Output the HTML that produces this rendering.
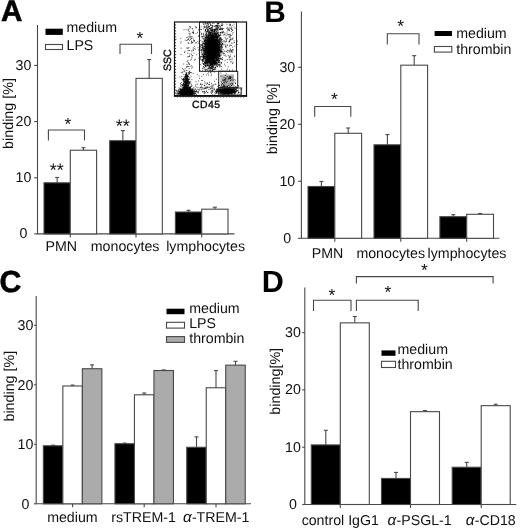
<!DOCTYPE html>
<html lang="en"><head><meta charset="utf-8"><title>Figure</title>
<style>
html,body{margin:0;padding:0;background:#fff;}
body{width:520px;height:530px;overflow:hidden;}
svg{display:block;text-rendering:geometricPrecision;font-family:"Liberation Sans", sans-serif;}
</style></head>
<body>
<svg width="520" height="530" viewBox="0 0 520 530">
<rect x="0" y="0" width="520" height="530" fill="#fff"/>
<text x="0.90" y="21.10" font-size="29.6" text-anchor="start" font-weight="bold" fill="#000" text-rendering="geometricPrecision" stroke="#000" stroke-width="0.6">A</text>
<line x1="37.50" y1="25.00" x2="37.50" y2="233.90" stroke="#484848" stroke-width="1.1"/>
<line x1="37.00" y1="233.90" x2="234.50" y2="233.90" stroke="#484848" stroke-width="1.1"/>
<line x1="34.20" y1="233.90" x2="37.50" y2="233.90" stroke="#484848" stroke-width="1.1"/>
<text x="23.40" y="238.30" font-size="14.2" text-anchor="middle" font-weight="normal" fill="#111" >0</text>
<line x1="34.20" y1="177.75" x2="37.50" y2="177.75" stroke="#484848" stroke-width="1.1"/>
<text x="23.40" y="182.15" font-size="14.2" text-anchor="middle" font-weight="normal" fill="#111" >10</text>
<line x1="34.20" y1="121.60" x2="37.50" y2="121.60" stroke="#484848" stroke-width="1.1"/>
<text x="23.40" y="126.00" font-size="14.2" text-anchor="middle" font-weight="normal" fill="#111" >20</text>
<line x1="34.20" y1="65.45" x2="37.50" y2="65.45" stroke="#484848" stroke-width="1.1"/>
<text x="23.40" y="69.85" font-size="14.2" text-anchor="middle" font-weight="normal" fill="#111" >30</text>
<line x1="70.30" y1="233.90" x2="70.30" y2="237.40" stroke="#484848" stroke-width="1.1"/>
<line x1="57.15" y1="177.47" x2="57.15" y2="182.80" stroke="#484848" stroke-width="1.1"/>
<line x1="55.15" y1="177.47" x2="59.15" y2="177.47" stroke="#484848" stroke-width="1.1"/>
<rect x="44.00" y="182.80" width="26.30" height="51.10" fill="#000" stroke="#484848" stroke-width="1.1"/>
<line x1="83.45" y1="147.71" x2="83.45" y2="150.24" stroke="#484848" stroke-width="1.1"/>
<line x1="81.45" y1="147.71" x2="85.45" y2="147.71" stroke="#484848" stroke-width="1.1"/>
<rect x="70.30" y="150.24" width="26.30" height="83.66" fill="#fff" stroke="#484848" stroke-width="1.1"/>
<line x1="136.00" y1="233.90" x2="136.00" y2="237.40" stroke="#484848" stroke-width="1.1"/>
<line x1="122.85" y1="130.58" x2="122.85" y2="140.69" stroke="#484848" stroke-width="1.1"/>
<line x1="120.85" y1="130.58" x2="124.85" y2="130.58" stroke="#484848" stroke-width="1.1"/>
<rect x="109.70" y="140.69" width="26.30" height="93.21" fill="#000" stroke="#484848" stroke-width="1.1"/>
<line x1="149.15" y1="59.55" x2="149.15" y2="78.36" stroke="#484848" stroke-width="1.1"/>
<line x1="147.15" y1="59.55" x2="151.15" y2="59.55" stroke="#484848" stroke-width="1.1"/>
<rect x="136.00" y="78.36" width="26.30" height="155.54" fill="#fff" stroke="#484848" stroke-width="1.1"/>
<line x1="201.70" y1="233.90" x2="201.70" y2="237.40" stroke="#484848" stroke-width="1.1"/>
<line x1="188.55" y1="210.32" x2="188.55" y2="212.00" stroke="#484848" stroke-width="1.1"/>
<line x1="186.55" y1="210.32" x2="190.55" y2="210.32" stroke="#484848" stroke-width="1.1"/>
<rect x="175.40" y="212.00" width="26.30" height="21.90" fill="#000" stroke="#484848" stroke-width="1.1"/>
<line x1="214.85" y1="207.23" x2="214.85" y2="209.19" stroke="#484848" stroke-width="1.1"/>
<line x1="212.85" y1="207.23" x2="216.85" y2="207.23" stroke="#484848" stroke-width="1.1"/>
<rect x="201.70" y="209.19" width="26.30" height="24.71" fill="#fff" stroke="#484848" stroke-width="1.1"/>
<text transform="translate(13.00,113.50) rotate(-90)" font-size="14.3" text-anchor="middle" font-weight="normal" fill="#111" >binding [%]</text>
<text x="45.50" y="251.00" font-size="14.2" text-anchor="start" font-weight="normal" fill="#111" >PMN</text>
<text x="90.80" y="251.00" font-size="14.2" text-anchor="start" font-weight="normal" fill="#111" >monocytes</text>
<text x="166.20" y="251.00" font-size="14.2" text-anchor="start" font-weight="normal" fill="#111" >lymphocytes</text>
<rect x="45.50" y="28.70" width="17.30" height="6.20" fill="#000"/>
<rect x="45.50" y="44.50" width="17.00" height="5.00" fill="#fff" stroke="#484848" stroke-width="1.1"/>
<text x="66.50" y="32.00" font-size="14.2" text-anchor="start" font-weight="normal" fill="#111" >medium</text>
<text x="66.50" y="50.00" font-size="14.2" text-anchor="start" font-weight="normal" fill="#111" >LPS</text>
<polyline points="48.40,140.50 48.40,130.00 84.50,130.00 84.50,140.50" fill="none" stroke="#484848" stroke-width="1.1"/>
<text x="68.00" y="130.40" font-size="17.5" text-anchor="middle" font-weight="normal" fill="#111" >*</text>
<polyline points="120.00,54.00 120.00,44.30 151.50,44.30 151.50,54.00" fill="none" stroke="#484848" stroke-width="1.1"/>
<text x="140.00" y="44.20" font-size="17.5" text-anchor="middle" font-weight="normal" fill="#111" >*</text>
<text x="56.70" y="176.40" font-size="18" text-anchor="middle" font-weight="normal" fill="#111" >**</text>
<text x="122.70" y="131.80" font-size="18" text-anchor="middle" font-weight="normal" fill="#111" >**</text>
<g>
<rect x="220.50" y="74.50" width="13.50" height="12.50" fill="#b2b2b2"/>
<path d="M210.2 53.7h.9M210.7 46.8h.9M207.7 47.5h.9M215.9 53.3h.9M215.7 51.8h.9M213.1 51.2h.9M204.1 56.3h.9M213.4 53.8h.9M205.3 34.5h.9M208.0 45.4h.9M212.8 49.2h.9M214.0 44.2h.9M212.6 52.9h.9M207.9 63.7h.9M213.2 59.7h.9M209.3 43.1h.9M210.1 48.5h.9M214.0 51.7h.9M210.1 41.4h.9M208.7 59.6h.9M208.0 51.3h.9M214.0 37.1h.9M211.0 60.5h.9M203.2 46.3h.9M211.5 42.6h.9M213.6 49.1h.9M204.9 56.1h.9M213.8 57.6h.9M217.4 52.9h.9M212.7 38.6h.9M214.4 44.5h.9M210.2 38.8h.9M207.7 44.8h.9M217.9 32.8h.9M205.3 51.1h.9M217.3 54.7h.9M204.8 27.9h.9M213.4 43.4h.9M206.3 57.4h.9M216.0 51.1h.9M212.3 53.2h.9M217.9 55.1h.9M213.4 54.2h.9M204.3 59.9h.9M215.2 54.2h.9M203.5 43.7h.9M215.9 34.5h.9M210.2 58.0h.9M205.2 62.7h.9M213.9 48.4h.9M212.5 55.0h.9M211.4 59.1h.9M208.9 45.9h.9M215.9 50.0h.9M207.3 57.2h.9M217.9 46.1h.9M205.8 48.0h.9M211.0 47.0h.9M217.9 41.2h.9M217.4 39.2h.9M207.9 54.6h.9M215.8 57.0h.9M212.9 50.8h.9M211.8 54.4h.9M210.6 51.8h.9M213.9 49.7h.9M214.4 54.4h.9M219.8 52.7h.9M209.9 46.3h.9M211.0 57.2h.9M209.9 52.7h.9M220.5 28.5h.9M206.7 51.3h.9M213.0 51.6h.9M209.4 54.9h.9M212.9 45.2h.9M221.5 53.1h.9M209.2 48.5h.9M210.6 48.9h.9M200.3 44.7h.9M216.3 40.0h.9M210.7 57.5h.9M214.3 62.2h.9M204.5 46.1h.9M209.8 54.6h.9M217.4 27.3h.9M216.8 37.6h.9M215.1 37.2h.9M211.6 59.6h.9M210.8 51.1h.9M214.8 50.9h.9M210.4 62.3h.9M216.0 47.3h.9M223.6 40.6h.9M215.5 47.5h.9M211.7 55.4h.9M212.1 54.9h.9M205.9 36.5h.9M214.6 41.6h.9M207.9 36.9h.9M216.4 56.1h.9M218.1 42.0h.9M212.1 39.9h.9M213.9 63.0h.9M207.0 62.4h.9M215.7 48.3h.9M202.5 60.8h.9M211.4 44.4h.9M213.0 53.0h.9M218.3 41.3h.9M215.5 62.3h.9M217.7 48.4h.9M207.9 57.9h.9M211.9 50.6h.9M217.6 47.6h.9M202.1 45.7h.9M203.3 55.9h.9M213.1 44.5h.9M211.0 56.5h.9M211.2 60.6h.9M210.7 58.2h.9M216.9 63.4h.9M208.2 56.7h.9M204.2 39.9h.9M202.7 58.0h.9M206.3 49.1h.9M210.7 49.2h.9M208.9 51.3h.9M219.0 50.3h.9M213.2 58.0h.9M211.3 38.9h.9M208.6 58.4h.9M204.9 44.1h.9M215.3 56.4h.9M211.1 56.3h.9M212.8 39.7h.9M205.3 43.7h.9M215.7 45.0h.9M208.1 42.8h.9M205.1 48.1h.9M206.4 52.3h.9M201.4 51.7h.9M209.8 33.1h.9M214.7 47.4h.9M202.6 41.6h.9M213.0 45.7h.9M214.4 56.0h.9M214.1 52.4h.9M216.8 55.4h.9M214.4 32.1h.9M214.6 60.7h.9M210.5 45.5h.9M220.5 35.2h.9M212.2 69.9h.9M207.3 55.0h.9M219.5 49.0h.9M213.4 57.2h.9M207.7 48.5h.9M212.3 56.5h.9M211.5 47.9h.9M207.4 46.2h.9M215.2 50.6h.9M208.3 42.2h.9M222.1 59.7h.9M215.5 27.9h.9M213.9 53.7h.9M218.3 53.5h.9M211.0 53.9h.9M202.8 57.7h.9M213.2 43.7h.9M216.1 65.0h.9M206.0 43.6h.9M212.6 51.1h.9M210.3 41.2h.9M219.9 58.7h.9M207.2 37.9h.9M218.1 58.2h.9M218.7 56.8h.9M207.7 51.5h.9M202.8 42.7h.9M211.0 53.9h.9M208.5 48.3h.9M213.2 52.8h.9M214.1 51.4h.9M209.7 56.0h.9M212.1 42.6h.9M208.9 49.3h.9M211.0 50.8h.9M211.4 51.0h.9M211.6 38.9h.9M212.7 58.4h.9M213.4 48.0h.9M213.9 41.5h.9M203.5 49.5h.9M207.2 55.5h.9M208.3 27.2h.9M206.3 62.5h.9M210.6 37.9h.9M208.0 53.7h.9M213.5 51.1h.9M217.4 55.8h.9M211.1 54.5h.9M217.9 58.1h.9M216.3 40.7h.9M210.5 55.6h.9M209.7 58.4h.9M213.5 57.3h.9M209.3 70.8h.9M216.8 48.0h.9M210.6 71.3h.9M209.6 56.7h.9M215.6 49.8h.9M206.5 50.8h.9M212.4 59.1h.9M214.8 49.9h.9M214.8 54.2h.9M212.3 50.0h.9M210.1 55.2h.9M207.4 44.0h.9M212.3 37.2h.9M210.7 32.5h.9M208.4 54.1h.9M213.9 49.2h.9M211.2 37.6h.9M218.9 54.3h.9M216.5 42.4h.9M211.6 34.2h.9M214.3 57.5h.9M203.6 48.6h.9M215.0 34.9h.9M204.4 40.1h.9M209.6 37.6h.9M211.5 51.6h.9M213.8 55.5h.9M217.2 59.6h.9M206.3 44.9h.9M207.6 40.2h.9M211.2 49.5h.9M214.4 36.3h.9M206.3 49.0h.9M210.8 46.8h.9M211.6 43.1h.9M214.3 52.6h.9M211.5 43.8h.9M212.1 26.6h.9M207.4 49.6h.9M205.1 50.8h.9M212.8 38.0h.9M210.6 46.8h.9M213.1 54.7h.9M211.8 42.4h.9M210.9 48.9h.9M214.4 52.2h.9M209.2 38.0h.9M210.3 43.2h.9M206.9 48.2h.9M209.4 50.3h.9M213.9 46.2h.9M221.4 47.4h.9M216.1 50.8h.9M217.4 29.9h.9M208.2 51.4h.9M212.8 69.2h.9M212.2 60.3h.9M214.2 57.6h.9M213.7 48.3h.9M214.2 40.6h.9M217.0 41.3h.9M211.5 67.3h.9M210.6 49.6h.9M216.4 50.0h.9M208.0 51.5h.9M213.6 55.6h.9M207.4 64.0h.9M218.5 50.1h.9M212.8 46.0h.9M217.8 43.9h.9M214.6 45.6h.9M208.2 55.4h.9M217.1 49.8h.9M208.3 56.1h.9M211.1 52.1h.9M217.3 59.4h.9M208.2 68.5h.9M211.1 56.1h.9M208.8 49.0h.9M203.3 64.0h.9M217.8 39.7h.9M206.0 35.5h.9M216.7 45.9h.9M211.4 46.9h.9M211.5 40.3h.9M212.3 37.4h.9M211.0 52.1h.9M213.6 47.7h.9M207.6 50.6h.9M208.7 62.5h.9M214.8 48.7h.9M209.9 43.5h.9M207.7 46.3h.9M212.5 53.9h.9M212.8 67.2h.9M208.5 49.4h.9M224.2 34.5h.9M209.2 50.8h.9M211.9 53.0h.9M210.3 52.5h.9M211.3 56.0h.9M204.0 41.6h.9M212.0 40.8h.9M206.8 54.5h.9M208.5 54.7h.9M214.5 52.3h.9M213.7 48.8h.9M205.6 48.9h.9M213.7 45.2h.9M210.7 55.8h.9M207.5 54.6h.9M219.6 45.3h.9M212.2 48.3h.9M217.8 52.5h.9M215.6 43.9h.9M211.4 49.4h.9M203.3 61.1h.9M216.2 35.1h.9M214.7 48.6h.9M213.2 52.7h.9M205.3 47.3h.9M218.0 45.1h.9M207.9 37.8h.9M206.2 52.0h.9M218.4 53.5h.9M211.4 68.3h.9M209.7 43.7h.9M213.4 54.2h.9M207.8 39.4h.9M212.6 51.6h.9M206.1 47.5h.9M209.0 53.2h.9M211.1 48.7h.9M209.5 58.2h.9M217.5 46.8h.9M215.4 43.4h.9M211.4 55.8h.9M218.0 46.7h.9M211.1 51.1h.9M205.2 49.3h.9M208.5 52.4h.9M207.8 32.6h.9M211.5 51.7h.9M208.8 56.8h.9M210.7 44.4h.9M214.3 36.5h.9M208.7 49.2h.9M215.1 48.3h.9M213.1 44.1h.9M211.9 63.5h.9M207.4 69.2h.9M208.8 49.5h.9M211.7 58.1h.9M207.4 31.6h.9M213.6 56.3h.9M212.8 71.7h.9M212.2 51.7h.9M215.2 52.8h.9M219.1 39.5h.9M215.1 46.6h.9M214.3 67.8h.9M211.6 47.4h.9M209.8 42.3h.9M208.5 54.7h.9M211.6 50.1h.9M210.3 57.1h.9M213.6 48.4h.9M214.4 48.4h.9M205.9 61.4h.9M213.9 41.6h.9M215.8 52.7h.9M204.1 62.6h.9M212.4 57.1h.9M212.4 48.3h.9M204.5 57.3h.9M211.8 47.1h.9M212.9 50.2h.9M214.5 46.6h.9M212.4 31.6h.9M209.4 55.1h.9M217.3 46.8h.9M210.2 62.7h.9M209.8 55.6h.9M218.5 50.3h.9M217.0 43.9h.9M212.4 48.9h.9M211.4 59.0h.9M221.9 44.5h.9M208.8 53.5h.9M206.8 53.4h.9M214.0 47.3h.9M214.5 36.6h.9M215.5 36.7h.9M208.9 44.7h.9M209.4 56.6h.9M212.0 46.2h.9M213.0 62.9h.9M211.3 52.6h.9M216.6 52.1h.9M204.9 70.1h.9M221.8 33.4h.9M211.1 53.0h.9M215.2 55.4h.9M210.9 40.6h.9M211.4 58.2h.9M207.4 40.6h.9M212.4 33.2h.9M210.6 45.8h.9M213.7 43.7h.9M208.0 46.0h.9M211.6 43.9h.9M211.2 55.8h.9M215.6 64.1h.9M208.4 45.8h.9M200.1 64.8h.9M208.5 49.0h.9M214.4 38.2h.9M213.5 49.4h.9M203.7 51.5h.9M217.4 34.1h.9M214.8 51.5h.9M213.3 53.3h.9M217.1 48.0h.9M215.4 46.3h.9M215.0 42.9h.9M210.2 64.0h.9M213.4 48.3h.9M207.1 42.6h.9M211.8 57.4h.9M213.0 54.0h.9M210.6 60.8h.9M210.1 44.8h.9M215.2 50.3h.9M210.6 44.6h.9M210.1 54.7h.9M213.6 39.4h.9M213.2 51.1h.9M206.9 55.7h.9M210.5 46.6h.9M214.2 60.8h.9M208.4 53.0h.9M206.7 68.7h.9M208.8 59.4h.9M208.4 56.1h.9M222.1 28.8h.9M209.4 53.6h.9M211.4 43.9h.9M220.5 50.7h.9M204.2 56.2h.9M203.7 58.7h.9M209.0 50.6h.9M216.7 50.8h.9M206.5 34.9h.9M216.1 56.0h.9M207.6 56.5h.9M213.3 55.1h.9M202.2 46.4h.9M214.9 55.9h.9M216.4 29.1h.9M212.0 53.7h.9M222.7 42.1h.9M210.1 49.7h.9M215.4 46.0h.9M216.7 43.2h.9M212.9 45.1h.9M212.5 43.7h.9M204.3 58.3h.9M213.1 44.9h.9M211.8 57.9h.9M207.5 48.3h.9M213.5 54.0h.9M211.2 31.7h.9M216.5 52.6h.9M211.7 47.2h.9M212.8 46.0h.9M207.6 43.0h.9M209.3 44.2h.9M206.3 54.5h.9M205.7 54.7h.9M207.1 52.2h.9M217.2 51.6h.9M208.4 49.7h.9M213.0 35.0h.9M208.9 50.7h.9M209.5 50.1h.9M214.2 56.1h.9M215.0 54.7h.9M210.3 49.3h.9M210.5 46.8h.9M211.6 35.0h.9M210.1 49.2h.9M207.4 49.1h.9M213.7 48.3h.9M221.5 28.2h.9M211.6 34.1h.9M214.3 72.0h.9M200.9 49.9h.9M213.8 47.1h.9M214.9 30.8h.9M214.9 52.8h.9M211.9 44.6h.9M214.4 45.6h.9M212.7 45.3h.9M202.1 48.7h.9M212.0 55.9h.9M207.8 49.0h.9M214.0 50.9h.9M215.7 66.5h.9M208.7 33.2h.9M214.3 62.5h.9M215.0 56.6h.9M209.3 43.4h.9M215.7 42.1h.9M204.4 40.7h.9M221.0 66.3h.9M209.0 43.2h.9M212.8 43.3h.9M217.0 49.2h.9M206.3 60.2h.9M208.9 51.2h.9M211.6 46.9h.9M213.2 43.8h.9M204.9 30.5h.9M206.6 42.8h.9M211.4 50.0h.9M213.8 50.6h.9M208.5 43.4h.9M202.7 47.5h.9M213.3 54.1h.9M211.1 48.0h.9M215.4 49.9h.9M214.3 54.6h.9M211.7 60.5h.9M209.3 46.3h.9M208.5 42.6h.9M217.1 64.6h.9M211.3 54.3h.9M216.0 56.6h.9M217.2 39.2h.9M208.6 53.1h.9M217.5 50.7h.9M208.1 46.3h.9M209.2 42.1h.9M218.1 44.6h.9M210.5 67.6h.9M216.3 52.6h.9M208.7 52.8h.9M218.0 55.1h.9M216.7 50.6h.9M213.8 47.9h.9M212.6 60.5h.9M205.5 48.6h.9M212.8 44.8h.9M209.8 56.0h.9M219.6 55.3h.9M213.6 36.6h.9M219.5 50.6h.9M211.9 40.1h.9M211.8 40.3h.9M211.6 53.4h.9M211.5 51.9h.9M207.2 61.3h.9M209.7 34.1h.9M211.1 43.0h.9M207.4 46.3h.9M213.3 39.7h.9M210.2 61.4h.9M214.4 48.4h.9M212.1 48.5h.9M210.9 55.6h.9M212.3 29.3h.9M211.9 42.0h.9M214.5 44.5h.9M211.0 67.8h.9M207.7 39.8h.9M206.8 29.1h.9M203.4 52.1h.9M209.8 33.7h.9M205.0 54.3h.9M208.4 46.2h.9M212.2 61.0h.9M219.1 58.6h.9M212.0 51.1h.9M218.3 61.9h.9M210.0 53.3h.9M212.7 50.0h.9M210.1 38.3h.9M210.0 36.4h.9M216.4 54.3h.9M205.7 60.9h.9M216.2 33.7h.9M218.8 56.8h.9M220.8 39.7h.9M213.5 53.2h.9M212.3 51.0h.9M216.7 37.2h.9M207.0 37.5h.9M209.5 44.3h.9M212.9 51.8h.9M212.0 43.8h.9M209.2 57.4h.9M214.7 50.5h.9M209.4 62.4h.9M208.7 54.8h.9M216.5 47.6h.9M215.5 40.4h.9M215.6 51.4h.9M204.5 54.7h.9M207.1 60.0h.9M208.7 47.9h.9M212.9 46.8h.9M212.9 44.9h.9M214.3 49.7h.9M213.8 26.5h.9M216.4 50.1h.9M204.0 49.9h.9M212.9 58.6h.9M206.2 62.2h.9M209.6 69.5h.9M210.5 55.2h.9M210.5 40.1h.9M215.6 57.4h.9M217.5 57.1h.9M209.9 35.4h.9M209.1 43.7h.9M207.8 54.2h.9M213.0 47.3h.9M212.3 48.3h.9M212.0 55.9h.9M215.9 44.0h.9M204.5 61.1h.9M211.4 58.8h.9M204.8 46.3h.9M212.3 37.4h.9M209.0 55.4h.9M215.2 63.1h.9M208.6 37.5h.9M213.2 57.5h.9M213.0 38.6h.9M214.4 56.3h.9M214.1 45.6h.9M212.4 56.2h.9M210.1 33.9h.9M212.6 53.6h.9M211.1 57.0h.9M209.1 48.7h.9M209.9 54.2h.9M218.3 47.8h.9M219.3 62.8h.9M214.5 54.6h.9M219.0 48.4h.9M211.6 40.6h.9M212.8 60.9h.9M213.5 53.2h.9M210.6 50.9h.9M205.0 57.9h.9M210.3 40.1h.9M208.8 42.4h.9M214.6 58.6h.9M205.3 56.9h.9M215.5 44.9h.9M205.6 42.9h.9M208.7 52.2h.9M211.0 32.4h.9M213.3 36.7h.9M215.9 39.6h.9M209.0 42.2h.9M208.6 60.2h.9M214.8 54.8h.9M213.6 36.6h.9M209.6 44.7h.9M207.1 53.5h.9M208.8 43.4h.9M208.2 32.0h.9M213.3 60.8h.9M212.7 41.4h.9M200.1 50.3h.9M216.4 52.3h.9M214.6 62.1h.9M216.4 46.1h.9M215.5 56.3h.9M205.3 45.7h.9M205.6 48.2h.9M214.5 40.7h.9M202.2 59.9h.9M212.3 61.9h.9M205.4 58.1h.9M219.2 66.9h.9M210.5 51.7h.9M210.4 57.8h.9M215.8 50.5h.9M205.4 55.4h.9M209.2 54.7h.9M211.8 63.2h.9M216.5 46.0h.9M212.1 64.4h.9M209.0 53.0h.9M215.9 60.3h.9M214.3 38.6h.9M206.1 51.3h.9M211.8 71.0h.9M207.3 58.8h.9M215.6 35.7h.9M208.0 50.7h.9M209.5 48.1h.9M213.9 42.8h.9M213.8 44.3h.9M208.9 53.9h.9M209.0 51.8h.9M218.2 50.1h.9M210.5 55.6h.9M209.4 58.5h.9M205.8 54.4h.9M209.8 42.7h.9M219.3 42.8h.9M218.5 55.5h.9M218.1 41.7h.9M215.8 62.0h.9M211.1 48.4h.9M221.7 51.6h.9M210.0 44.1h.9M213.2 52.4h.9M211.4 64.0h.9M209.9 53.4h.9M218.1 41.4h.9M214.9 65.1h.9M206.4 40.0h.9M208.1 33.8h.9M214.3 34.1h.9M212.9 61.8h.9M204.9 46.4h.9M203.1 55.6h.9M208.5 47.1h.9M211.5 54.1h.9M210.0 49.5h.9M209.2 50.3h.9M206.6 49.7h.9M203.6 44.9h.9M219.5 50.6h.9M206.1 51.3h.9M208.3 35.4h.9M208.0 55.5h.9M213.2 48.8h.9M208.2 40.2h.9M217.0 51.9h.9M208.6 31.6h.9M204.5 69.9h.9M206.7 48.6h.9M212.5 48.2h.9M211.0 37.9h.9M206.2 63.4h.9M207.9 56.4h.9M204.5 46.8h.9M212.1 58.3h.9M206.5 54.2h.9M213.5 43.4h.9M214.0 42.1h.9M208.2 49.1h.9M200.2 47.9h.9M208.0 37.0h.9M209.3 55.8h.9M209.2 60.0h.9M207.3 38.2h.9M217.8 53.2h.9M215.9 42.8h.9M214.7 51.9h.9M214.2 49.9h.9M216.9 44.4h.9M208.2 36.9h.9M216.7 43.6h.9M207.6 41.4h.9M210.3 38.7h.9M210.6 44.2h.9M209.7 41.3h.9M211.9 45.6h.9M211.9 51.6h.9M214.0 31.2h.9M209.7 42.7h.9M215.5 36.5h.9M208.7 46.9h.9M209.6 57.7h.9M209.2 57.5h.9M206.3 33.9h.9M216.4 53.5h.9M213.5 50.7h.9M214.1 39.4h.9M215.7 45.3h.9M215.6 50.5h.9M203.9 38.2h.9M216.3 48.6h.9M209.7 51.4h.9M210.0 44.8h.9M211.9 50.7h.9M217.8 50.3h.9M218.5 65.1h.9M218.2 58.8h.9M212.0 50.7h.9M211.3 43.3h.9M211.5 44.1h.9M218.1 54.4h.9M210.6 33.3h.9M211.5 46.0h.9M207.5 39.7h.9M201.8 53.7h.9M209.9 71.1h.9M211.4 48.2h.9M217.5 51.0h.9M212.4 46.4h.9M208.2 61.9h.9M214.8 64.1h.9M210.0 49.7h.9M207.3 57.4h.9M205.4 53.9h.9M215.4 61.6h.9M207.0 58.4h.9M208.9 43.0h.9M205.4 58.9h.9M218.7 44.9h.9M208.5 46.5h.9M221.5 58.6h.9M210.1 34.3h.9M208.1 59.3h.9M219.5 47.7h.9M208.9 45.1h.9M203.1 56.6h.9M206.4 58.1h.9M205.0 38.4h.9M213.1 43.2h.9M214.8 49.8h.9M206.3 54.4h.9M216.0 33.7h.9M218.9 54.1h.9M215.6 34.1h.9M208.7 46.4h.9M216.8 37.5h.9M208.8 32.3h.9M210.3 52.3h.9M204.7 44.1h.9M212.8 62.9h.9M214.4 47.1h.9M207.0 41.4h.9M208.6 50.6h.9M210.5 63.5h.9M213.2 40.6h.9M217.5 57.8h.9M212.3 43.5h.9M204.2 40.5h.9M215.7 43.0h.9M205.9 50.8h.9M212.2 54.6h.9M213.5 61.5h.9M207.5 57.5h.9M207.0 55.1h.9M212.1 51.6h.9M215.6 49.6h.9M215.7 57.1h.9M212.4 44.8h.9M208.6 44.9h.9M210.7 49.2h.9M223.7 55.6h.9M215.2 42.5h.9M208.7 46.6h.9M212.8 40.9h.9M218.5 45.2h.9M217.2 30.2h.9M211.3 51.8h.9M212.0 54.6h.9M212.6 50.9h.9M203.9 43.0h.9M201.4 54.2h.9M212.9 47.9h.9M208.3 44.4h.9M218.4 64.5h.9M210.6 60.3h.9M205.8 32.9h.9M209.9 42.0h.9M209.1 50.9h.9M224.5 44.7h.9M211.6 51.8h.9M210.9 57.3h.9M219.6 39.5h.9M212.3 47.3h.9M213.8 36.7h.9M205.3 29.6h.9M213.6 51.2h.9M213.0 29.7h.9M210.3 43.1h.9M206.0 41.5h.9M214.2 54.2h.9M211.1 53.8h.9M208.9 49.9h.9M211.4 54.2h.9M211.3 48.3h.9M211.3 44.1h.9M220.6 54.4h.9M212.1 68.8h.9M218.2 36.8h.9M214.0 56.7h.9M218.7 61.0h.9M215.3 39.8h.9M207.7 51.5h.9M214.1 41.1h.9M210.1 46.0h.9M211.6 52.3h.9M210.9 39.1h.9M215.9 63.2h.9M210.5 58.1h.9M213.0 55.1h.9M213.9 43.2h.9M213.4 58.1h.9M206.8 65.8h.9M219.3 65.3h.9M219.5 56.2h.9M210.4 44.4h.9M208.0 50.3h.9M211.0 55.1h.9M201.9 68.4h.9M221.1 49.8h.9M214.1 53.7h.9M212.8 47.8h.9M211.4 42.6h.9M212.3 49.3h.9M213.3 42.4h.9M211.6 49.9h.9M214.6 40.7h.9M212.8 57.9h.9M214.2 46.6h.9M209.6 47.4h.9M213.8 62.7h.9M211.2 44.1h.9M213.0 51.3h.9M208.1 43.1h.9M210.7 55.1h.9M207.0 40.7h.9M214.2 39.4h.9M211.8 52.5h.9M211.5 40.9h.9M211.4 46.7h.9M213.3 42.6h.9M216.9 35.7h.9M210.8 49.5h.9M215.8 44.6h.9M214.1 44.9h.9M213.7 64.3h.9M209.6 53.1h.9M207.1 57.4h.9M216.6 50.1h.9M206.5 52.6h.9M215.8 58.9h.9M215.8 34.4h.9M207.9 61.3h.9M205.8 58.7h.9M219.0 56.4h.9M216.4 47.0h.9M206.4 48.3h.9M210.7 49.1h.9M214.5 48.5h.9M212.1 53.1h.9M210.5 65.0h.9M213.3 50.3h.9M210.9 44.2h.9M217.1 51.1h.9M207.3 44.5h.9M211.2 45.7h.9M216.6 40.0h.9M213.5 50.8h.9M206.5 49.6h.9M210.9 53.7h.9M209.5 51.9h.9M205.1 40.0h.9M214.3 58.4h.9M211.7 44.5h.9M217.1 32.2h.9M207.8 54.9h.9M214.8 41.0h.9M202.9 61.2h.9M212.6 42.0h.9M211.3 57.1h.9M200.1 58.2h.9M215.7 32.2h.9M215.6 34.8h.9M216.1 53.1h.9M221.3 44.9h.9M211.0 58.3h.9M209.2 43.4h.9M210.0 48.8h.9M206.7 53.3h.9M213.7 50.2h.9M218.8 47.2h.9M217.3 45.2h.9M215.6 33.5h.9M212.4 48.1h.9M209.7 44.3h.9M210.4 43.4h.9M202.6 43.9h.9M209.5 45.0h.9M207.1 48.1h.9M214.9 47.6h.9M208.8 60.8h.9M215.1 57.5h.9M216.5 47.0h.9M210.4 58.8h.9M209.2 48.4h.9M212.9 52.7h.9M209.8 57.7h.9M210.4 55.5h.9M215.7 55.3h.9M215.2 40.0h.9M206.3 44.0h.9M212.7 62.2h.9M206.2 51.8h.9M208.3 43.1h.9M210.0 55.2h.9M211.8 59.4h.9M206.9 56.7h.9M215.4 50.3h.9M213.8 44.9h.9M207.1 45.8h.9M207.4 73.6h.9M208.6 63.2h.9M212.2 52.2h.9M215.0 43.2h.9M215.2 52.9h.9M204.8 54.2h.9M213.6 53.4h.9M218.4 46.4h.9M213.3 55.9h.9M207.1 59.3h.9M206.1 38.2h.9M214.2 40.5h.9M211.8 35.7h.9M212.4 40.0h.9M213.7 36.7h.9M213.5 47.4h.9M211.8 48.9h.9M212.7 38.5h.9M200.7 49.1h.9M207.8 45.5h.9M214.3 33.0h.9M208.6 44.2h.9M206.9 52.0h.9M211.3 42.6h.9M207.0 56.0h.9M208.4 54.2h.9M214.3 33.7h.9M207.0 49.3h.9M212.5 56.1h.9M214.3 58.4h.9M210.0 47.6h.9M215.0 46.1h.9M216.7 36.4h.9M214.3 48.2h.9M202.8 57.2h.9M212.8 49.8h.9M207.2 45.3h.9M218.3 42.9h.9M197.4 41.4h.9M206.5 48.1h.9M210.3 41.8h.9M207.4 58.1h.9M204.5 65.5h.9M209.8 40.2h.9M214.5 54.4h.9M206.8 55.5h.9M204.3 41.3h.9M216.4 47.6h.9M205.8 53.5h.9M215.4 49.5h.9M204.1 46.1h.9M212.9 56.1h.9M219.4 47.8h.9M209.5 49.1h.9M217.0 41.9h.9M218.4 26.8h.9M215.2 44.0h.9M213.1 55.4h.9M206.6 48.5h.9M212.2 54.5h.9M208.1 41.0h.9M202.2 70.3h.9M210.8 47.6h.9M204.8 56.9h.9M208.5 61.4h.9M215.1 49.9h.9M215.1 40.4h.9M210.4 44.6h.9M206.2 49.3h.9M210.2 61.5h.9M197.8 43.0h.9M207.9 45.4h.9M213.1 53.0h.9M211.9 45.5h.9M213.4 52.6h.9M203.9 46.8h.9M206.3 39.2h.9M212.1 50.0h.9M212.4 42.2h.9M211.1 41.8h.9M212.8 55.4h.9M218.2 60.6h.9M208.4 45.5h.9M207.4 51.8h.9M219.4 55.9h.9M202.9 38.4h.9M205.8 53.5h.9M211.4 52.0h.9M219.4 43.0h.9M207.0 65.8h.9M213.3 43.1h.9M203.8 36.2h.9M201.2 49.5h.9M211.2 57.8h.9M211.3 43.6h.9M207.4 65.3h.9M204.0 50.5h.9M211.3 54.7h.9M209.6 53.6h.9M215.0 48.5h.9M209.7 47.8h.9M207.6 47.5h.9M210.1 51.2h.9M216.4 60.8h.9M209.3 54.4h.9M212.4 56.0h.9M211.5 51.7h.9M209.9 42.8h.9M214.5 60.6h.9M214.1 53.3h.9M212.8 45.8h.9M203.7 54.6h.9M212.6 44.9h.9M206.8 60.0h.9M203.0 63.8h.9M213.0 69.5h.9M208.5 49.1h.9M209.3 50.7h.9M211.0 43.2h.9M216.4 43.2h.9M209.1 54.0h.9M209.5 45.7h.9M213.2 46.5h.9M206.3 48.3h.9M209.7 63.7h.9M206.4 57.4h.9M208.4 46.3h.9M210.0 51.7h.9M214.2 64.4h.9M208.2 60.5h.9M215.3 56.6h.9M207.9 56.9h.9M210.9 52.4h.9M210.0 55.0h.9M215.6 59.3h.9M210.1 57.8h.9M218.1 42.0h.9M218.3 38.7h.9M213.5 54.6h.9M217.6 52.2h.9M209.9 42.7h.9M205.9 55.6h.9M210.9 43.4h.9M214.1 43.2h.9M209.9 45.5h.9M217.7 62.2h.9M211.6 36.3h.9M212.6 50.2h.9M212.7 54.3h.9M209.7 57.2h.9M214.9 51.5h.9M210.0 45.4h.9M215.0 40.5h.9M211.2 43.2h.9M205.4 54.2h.9M211.4 49.8h.9M215.9 37.2h.9M211.1 51.9h.9M215.5 40.6h.9M214.4 51.5h.9M216.6 59.4h.9M212.7 67.7h.9M211.7 45.9h.9M210.5 41.5h.9M212.3 33.7h.9M210.9 53.0h.9M215.8 46.8h.9M217.7 44.4h.9M211.9 33.7h.9M208.7 42.7h.9M217.4 54.2h.9M206.7 53.6h.9M213.6 47.7h.9M211.7 47.0h.9M210.2 34.9h.9M210.5 60.0h.9M217.5 47.6h.9M208.5 47.6h.9M215.0 52.6h.9M208.9 52.3h.9M210.4 53.7h.9M210.6 37.4h.9M211.4 55.7h.9M207.0 48.3h.9M215.3 46.7h.9M207.8 65.9h.9M214.4 58.1h.9M206.8 62.6h.9M205.0 44.9h.9M213.9 60.5h.9M208.0 43.9h.9M213.2 33.8h.9M213.8 54.2h.9M209.4 53.8h.9M214.5 52.2h.9M212.9 62.0h.9M209.5 50.7h.9M208.9 57.8h.9M209.6 53.3h.9M212.0 50.1h.9M218.5 49.2h.9M216.9 56.6h.9M216.9 48.5h.9M214.9 55.9h.9M208.9 51.5h.9M211.0 49.2h.9M217.1 44.0h.9M205.5 35.0h.9M210.0 44.2h.9M211.3 54.1h.9M218.5 52.4h.9M213.7 43.7h.9M213.2 60.6h.9M217.9 34.0h.9M214.3 62.5h.9M215.6 37.6h.9M210.0 54.2h.9M213.6 43.0h.9M207.4 57.1h.9M205.4 60.8h.9M211.4 51.9h.9M206.4 44.4h.9M215.0 37.8h.9M220.5 38.7h.9M206.5 49.6h.9M213.1 55.5h.9M210.1 47.7h.9M210.8 44.8h.9M200.6 56.6h.9M212.4 50.8h.9M208.8 51.4h.9M211.5 48.9h.9M216.8 35.9h.9M213.0 41.0h.9M209.5 61.5h.9M207.2 48.4h.9M208.7 57.0h.9M208.4 35.7h.9M213.7 46.8h.9M209.7 58.1h.9M208.1 46.3h.9M211.9 52.9h.9M208.9 57.7h.9M220.7 46.8h.9M220.0 33.0h.9M217.3 47.1h.9M212.2 46.8h.9M209.6 39.1h.9M209.3 59.8h.9M216.3 47.0h.9M209.7 43.7h.9M205.8 63.7h.9M214.1 50.6h.9M210.0 41.2h.9M216.4 56.1h.9M207.2 57.2h.9M206.7 54.4h.9M207.8 45.9h.9M213.3 53.1h.9M216.0 43.0h.9M217.2 60.7h.9M211.2 53.2h.9M208.4 48.1h.9M206.1 49.9h.9M211.7 60.4h.9M214.9 56.3h.9M210.2 47.6h.9M210.0 51.2h.9M203.4 55.2h.9M205.4 45.0h.9M211.8 45.4h.9M218.2 49.1h.9M217.3 59.3h.9M209.3 52.6h.9M216.9 47.1h.9M212.1 45.0h.9M211.9 46.7h.9M211.3 57.6h.9M217.0 50.9h.9M211.9 56.4h.9M210.8 40.9h.9M216.4 42.2h.9M215.7 42.0h.9M219.4 41.5h.9M214.2 61.8h.9M206.9 61.2h.9M209.0 35.1h.9M214.1 55.3h.9M211.9 29.1h.9M211.4 47.0h.9M210.1 47.1h.9M204.6 44.5h.9M218.0 62.4h.9M210.4 43.7h.9M212.6 58.1h.9M215.0 40.3h.9M212.1 50.7h.9M216.7 59.5h.9M213.0 59.4h.9M209.2 61.8h.9M209.6 52.6h.9M215.6 42.4h.9M209.5 35.2h.9M212.2 49.1h.9M209.9 53.4h.9M203.0 48.8h.9M212.0 47.4h.9M213.8 63.8h.9M210.2 41.8h.9M209.0 50.1h.9M214.3 42.7h.9M216.0 41.5h.9M214.6 53.1h.9M212.3 67.0h.9M210.5 48.1h.9M213.0 56.6h.9M206.0 51.4h.9M208.2 54.4h.9M217.0 50.2h.9M211.0 51.0h.9M199.2 55.0h.9M213.7 51.0h.9M210.3 43.5h.9M210.2 59.2h.9M210.4 60.3h.9M201.4 45.2h.9M212.6 49.5h.9M205.1 43.7h.9M217.2 39.4h.9M208.0 40.4h.9M209.0 54.5h.9M214.9 33.3h.9M217.7 45.1h.9M208.3 62.8h.9M211.8 39.5h.9M209.3 43.5h.9M207.6 46.6h.9M214.9 52.5h.9M204.6 71.6h.9M207.5 50.2h.9M211.3 55.6h.9M210.0 53.1h.9M219.9 50.8h.9M207.0 51.9h.9M208.4 46.3h.9M212.1 52.3h.9M209.9 56.3h.9M211.4 39.0h.9M215.2 46.8h.9M216.7 44.5h.9M213.7 52.2h.9M201.4 36.8h.9M206.3 60.6h.9M203.5 56.4h.9M215.7 53.7h.9M214.5 45.7h.9M211.3 51.3h.9M212.9 55.3h.9M211.0 43.8h.9M209.0 52.7h.9M205.4 39.0h.9M210.1 44.9h.9M211.7 28.0h.9M210.2 47.4h.9M215.6 33.8h.9M210.0 53.2h.9M212.9 59.2h.9M216.3 41.3h.9M214.2 47.0h.9M207.5 61.7h.9M209.4 42.5h.9M210.3 42.5h.9M215.4 52.8h.9M216.9 53.2h.9M208.5 57.8h.9M209.1 45.6h.9M210.8 49.8h.9M216.6 44.9h.9M212.9 49.4h.9M207.0 40.4h.9M210.4 52.7h.9M212.6 53.4h.9M211.9 45.9h.9M213.7 41.5h.9M206.2 46.5h.9M206.0 45.0h.9M208.8 44.8h.9M211.7 43.0h.9M210.6 35.6h.9M212.5 42.4h.9M214.5 26.7h.9M208.1 51.3h.9M201.8 46.0h.9M211.8 50.4h.9M205.3 51.0h.9M212.6 41.7h.9M214.5 49.3h.9M211.8 45.9h.9M213.7 50.4h.9M215.9 53.4h.9M209.1 47.5h.9M215.4 46.8h.9M212.8 53.8h.9M211.9 30.6h.9M211.9 51.3h.9M212.4 43.4h.9M216.5 48.7h.9M209.3 43.5h.9M213.5 40.7h.9M206.5 65.5h.9M216.3 58.4h.9M216.7 54.7h.9M204.1 58.8h.9M216.3 53.8h.9M203.0 59.1h.9M217.3 45.8h.9M211.6 55.8h.9M210.6 58.4h.9M211.5 55.1h.9M212.6 37.5h.9M205.9 75.0h.9M212.0 60.2h.9M215.3 63.7h.9M214.0 44.8h.9M212.5 33.9h.9M210.3 56.8h.9M202.6 50.6h.9M214.2 60.5h.9M208.1 44.0h.9M204.4 40.8h.9M212.7 66.5h.9M206.2 60.4h.9M213.5 45.6h.9M221.7 29.5h.9M211.1 51.3h.9M219.3 64.7h.9M220.7 51.1h.9M214.8 60.9h.9M213.4 52.6h.9M211.0 46.1h.9M205.5 65.1h.9M210.7 32.4h.9M212.6 49.3h.9M211.3 64.3h.9M211.2 47.3h.9M208.5 49.1h.9M209.6 51.1h.9M224.0 53.5h.9M207.1 65.0h.9M214.6 56.4h.9M214.0 56.4h.9M213.6 61.2h.9M214.9 60.7h.9M209.5 49.4h.9M208.1 57.1h.9M215.1 45.9h.9M212.6 71.1h.9M217.1 40.7h.9M210.8 54.7h.9M211.2 52.6h.9M216.2 52.5h.9M206.7 55.1h.9M211.0 50.4h.9M209.9 38.1h.9M206.6 46.3h.9M208.5 27.1h.9M216.8 40.3h.9M208.3 53.7h.9M201.0 59.9h.9M208.0 54.7h.9M209.4 51.9h.9M211.9 49.5h.9M204.8 37.0h.9M210.6 61.0h.9M209.0 53.7h.9M211.9 53.5h.9M216.3 37.5h.9M212.7 48.1h.9M210.6 42.4h.9M208.8 40.9h.9M205.8 69.7h.9M218.4 50.0h.9M215.0 41.7h.9M201.0 33.9h.9M211.4 61.3h.9M211.8 41.3h.9M211.0 41.3h.9M205.9 47.3h.9M210.3 42.8h.9M208.3 41.7h.9M211.8 60.9h.9M209.5 67.7h.9M204.8 51.3h.9M206.9 47.9h.9M211.6 54.1h.9M216.4 45.2h.9M206.5 47.7h.9M213.0 43.9h.9M214.3 63.5h.9M205.5 52.1h.9M216.6 34.0h.9M212.5 47.7h.9M205.0 59.9h.9M212.6 45.6h.9M213.0 54.9h.9M214.4 54.4h.9M213.7 40.0h.9M209.7 50.4h.9M199.1 66.2h.9M210.5 40.8h.9M203.9 51.1h.9M211.9 44.7h.9M210.2 42.1h.9M208.5 48.5h.9M208.5 54.9h.9M210.9 50.5h.9M212.5 60.0h.9M213.8 51.5h.9M211.2 42.9h.9M209.8 55.0h.9M212.6 46.4h.9M206.8 36.6h.9M212.3 58.0h.9M213.7 38.4h.9M210.5 51.3h.9M207.6 52.1h.9M211.1 42.6h.9M206.0 55.8h.9M213.4 42.3h.9M206.9 56.5h.9M214.1 47.2h.9M218.1 47.5h.9M206.6 58.2h.9M210.6 52.3h.9M212.1 41.3h.9M206.7 47.6h.9M217.7 41.6h.9M216.9 51.6h.9M206.8 51.4h.9M214.3 42.3h.9M202.6 51.9h.9M206.8 52.8h.9M203.8 47.9h.9M208.9 37.2h.9M210.4 50.8h.9M209.8 39.7h.9M213.2 35.3h.9M213.4 53.6h.9M217.9 57.1h.9M212.8 51.7h.9M212.3 38.7h.9M217.2 54.2h.9M210.9 40.1h.9M217.3 54.2h.9M206.3 54.7h.9M219.2 49.8h.9M213.3 46.2h.9M208.4 58.1h.9M224.0 51.2h.9M210.6 55.9h.9M209.9 55.4h.9M215.4 41.4h.9M207.2 48.6h.9M214.8 52.0h.9M217.2 38.6h.9M213.8 44.6h.9M211.8 52.1h.9M207.7 47.4h.9M206.6 51.4h.9M208.3 45.3h.9M212.7 44.2h.9M216.5 44.6h.9M214.8 52.0h.9M207.4 47.5h.9M208.3 46.4h.9M209.5 64.2h.9M209.0 62.2h.9M214.0 39.0h.9M201.8 54.4h.9M203.1 54.9h.9M215.5 52.9h.9M210.8 47.4h.9M212.7 47.1h.9M209.5 46.4h.9M216.6 44.7h.9M213.6 40.2h.9M209.3 38.2h.9M210.4 55.0h.9M213.0 45.6h.9M214.2 46.8h.9M212.9 51.8h.9M214.9 29.5h.9M205.8 55.5h.9M210.0 67.7h.9M210.8 45.0h.9M217.3 54.4h.9M219.0 54.1h.9M210.3 55.3h.9M208.5 45.7h.9M209.4 47.6h.9M214.9 45.8h.9M213.0 45.5h.9M216.4 27.4h.9M210.6 50.8h.9M206.6 57.5h.9M211.8 59.9h.9M215.1 54.9h.9M211.4 40.7h.9M210.8 45.7h.9M212.7 45.8h.9M224.7 37.3h.9M216.5 46.0h.9M210.1 56.9h.9M212.1 39.7h.9M213.3 48.0h.9M203.1 50.6h.9M207.6 43.2h.9M213.3 52.0h.9M209.3 67.0h.9M213.5 44.6h.9M212.5 48.6h.9M203.3 36.2h.9M204.9 65.9h.9M210.9 47.2h.9M208.7 57.3h.9M210.8 63.3h.9M213.9 63.0h.9M210.8 52.5h.9M209.8 48.0h.9M204.8 44.4h.9M208.0 44.0h.9M216.3 51.9h.9M216.0 56.7h.9M214.7 57.8h.9M208.7 55.8h.9M210.5 45.1h.9M215.3 67.3h.9M206.7 63.3h.9M215.3 42.9h.9M212.4 52.6h.9M213.2 46.7h.9M206.3 49.4h.9M214.6 56.1h.9M213.6 58.6h.9M207.5 48.9h.9M212.4 57.7h.9M211.9 53.7h.9M211.0 66.5h.9M202.7 48.8h.9M221.4 52.0h.9M204.0 50.1h.9M206.0 43.7h.9M211.6 63.4h.9M213.0 55.0h.9M215.5 51.4h.9M208.1 48.5h.9M213.0 47.3h.9M209.0 46.4h.9M205.9 40.9h.9M211.3 46.6h.9M211.0 60.8h.9M212.7 49.3h.9M207.3 40.5h.9M213.4 42.5h.9M213.8 40.9h.9M212.1 48.9h.9M215.7 46.6h.9M209.9 51.4h.9M210.9 63.1h.9M210.7 45.1h.9M210.0 53.2h.9M212.1 55.2h.9M204.7 69.2h.9M218.9 49.7h.9M206.5 50.5h.9M214.3 31.6h.9M212.3 37.6h.9M212.7 60.8h.9M216.4 37.6h.9M216.6 57.1h.9M209.8 53.5h.9M217.8 47.2h.9M211.7 45.0h.9M217.2 32.4h.9M217.7 42.0h.9M216.0 36.6h.9M208.0 44.5h.9M215.6 36.6h.9M214.2 44.5h.9M216.7 47.3h.9M213.5 48.2h.9M218.9 47.0h.9M210.4 65.5h.9M211.5 55.1h.9M208.4 50.9h.9M202.3 49.8h.9M209.6 37.2h.9M205.2 58.4h.9M214.0 37.4h.9M219.2 44.3h.9M209.9 51.4h.9M207.7 36.2h.9M207.9 58.9h.9M216.1 37.0h.9M216.3 50.1h.9M213.5 50.0h.9M213.7 41.5h.9M208.2 43.6h.9M209.7 54.4h.9M205.8 62.1h.9M209.2 44.6h.9M214.1 53.2h.9M210.7 40.8h.9M208.2 36.4h.9M215.6 58.5h.9M218.8 54.0h.9M212.5 55.7h.9M215.5 47.6h.9M211.9 67.0h.9M205.3 37.7h.9M207.2 55.3h.9M216.5 47.1h.9M214.2 49.3h.9M213.0 45.2h.9M211.4 49.5h.9M215.0 67.8h.9M203.9 53.4h.9M211.0 57.3h.9M215.4 56.1h.9M215.2 42.0h.9M203.8 62.6h.9M216.8 42.1h.9M216.4 55.2h.9M201.2 56.2h.9M206.9 58.7h.9M209.1 43.3h.9M205.4 47.4h.9M215.9 44.3h.9M202.9 66.4h.9M218.6 55.5h.9M209.9 39.6h.9M204.6 53.6h.9M217.3 41.3h.9M211.6 47.3h.9M210.2 53.5h.9M220.3 44.9h.9M214.4 58.5h.9M210.4 48.2h.9M205.6 57.9h.9M209.7 44.1h.9M212.2 42.6h.9M207.4 46.8h.9M217.6 48.2h.9M214.3 37.8h.9M202.7 63.7h.9M210.6 37.0h.9M210.8 54.4h.9M204.9 41.9h.9M213.0 42.1h.9M214.3 57.5h.9M213.5 46.1h.9M211.6 44.4h.9M210.8 52.0h.9M209.8 57.3h.9M222.3 45.7h.9M212.5 56.2h.9M214.2 47.7h.9M209.1 57.5h.9M213.8 53.8h.9M207.9 54.4h.9M214.8 48.2h.9M213.1 67.2h.9M203.6 54.0h.9M207.4 38.2h.9M210.3 53.9h.9M212.3 40.1h.9M205.9 44.6h.9M212.0 42.8h.9M204.6 63.4h.9M208.2 48.0h.9M209.6 44.6h.9M211.8 47.1h.9M214.6 40.0h.9M204.5 65.0h.9M210.8 55.7h.9M216.0 54.3h.9M212.4 36.9h.9M204.5 57.0h.9M214.0 54.3h.9M205.8 31.8h.9M207.8 39.6h.9M212.6 41.2h.9M218.2 44.8h.9M208.8 56.4h.9M213.3 42.3h.9M213.9 65.3h.9M206.6 47.2h.9M208.1 33.4h.9M213.7 55.3h.9M215.3 53.2h.9M203.3 48.8h.9M209.4 39.8h.9M206.6 55.5h.9M209.3 65.4h.9M214.3 34.1h.9M214.5 59.9h.9M212.2 39.6h.9M219.3 39.2h.9M212.1 33.9h.9M207.2 35.3h.9M215.4 59.4h.9M210.5 38.3h.9M211.1 52.6h.9M205.8 39.7h.9M210.7 55.2h.9M211.6 53.2h.9M207.6 28.9h.9M213.2 42.1h.9M211.2 46.4h.9M213.8 43.3h.9M217.4 50.1h.9M213.4 54.8h.9M215.5 53.1h.9M204.6 43.9h.9M218.9 53.8h.9M213.6 53.5h.9M209.2 43.8h.9M208.3 58.8h.9M212.1 64.2h.9M212.6 65.1h.9M214.0 39.9h.9M218.5 52.7h.9M216.3 51.6h.9M210.1 50.8h.9M207.5 39.4h.9M208.1 45.0h.9M206.0 48.3h.9M211.8 66.3h.9M219.1 49.5h.9M215.2 47.9h.9M213.1 49.3h.9M209.2 50.0h.9M205.2 52.8h.9M210.8 40.5h.9M209.7 54.0h.9M208.5 53.2h.9M213.1 62.5h.9M207.1 48.3h.9M212.9 62.0h.9M212.2 55.8h.9M205.7 44.3h.9M218.5 47.6h.9M220.8 44.0h.9M211.1 36.3h.9M214.0 51.8h.9M219.8 51.4h.9M211.2 37.8h.9M210.7 57.3h.9M214.0 59.8h.9M215.1 49.3h.9M213.9 51.1h.9M205.1 63.3h.9M213.6 40.9h.9M213.0 52.0h.9M214.9 61.7h.9M198.6 53.3h.9M218.3 42.0h.9M203.7 51.4h.9M212.7 52.5h.9M207.1 45.3h.9M211.9 55.7h.9M220.4 52.5h.9M210.2 29.8h.9M216.0 48.7h.9M211.5 41.3h.9M215.4 34.8h.9M211.9 50.5h.9M212.1 60.4h.9M211.0 50.3h.9M215.8 36.8h.9M210.3 50.0h.9M215.9 43.1h.9M214.7 52.9h.9M206.1 36.8h.9M205.5 50.3h.9M212.0 55.6h.9M215.2 45.1h.9M215.5 56.6h.9M213.2 53.6h.9M206.0 52.2h.9M207.8 39.3h.9M210.0 50.6h.9M211.4 46.7h.9M207.2 50.8h.9M209.1 37.6h.9M211.2 61.6h.9M210.3 40.5h.9M216.4 64.1h.9M210.4 47.7h.9M210.9 74.2h.9M211.6 57.8h.9M214.3 34.4h.9M207.5 38.9h.9M213.3 50.5h.9M219.1 47.7h.9M212.7 50.2h.9M210.9 68.9h.9M212.0 61.9h.9M217.2 44.8h.9M214.6 46.5h.9M211.9 50.8h.9M211.8 45.6h.9M218.1 47.7h.9M213.6 63.7h.9M213.6 58.2h.9M216.8 58.9h.9M219.4 38.0h.9M219.7 50.2h.9M204.5 43.7h.9M205.7 49.0h.9M205.8 40.7h.9M212.7 50.9h.9M208.3 47.3h.9M211.0 50.1h.9M211.6 47.6h.9M216.0 36.3h.9M209.4 50.5h.9M210.1 44.8h.9M209.6 51.1h.9M216.8 48.3h.9M210.2 52.4h.9M211.5 33.2h.9M212.8 46.4h.9M208.8 54.6h.9M212.0 44.8h.9M203.2 34.5h.9M211.6 48.5h.9M213.2 51.5h.9M210.1 38.8h.9M207.0 48.1h.9M206.3 55.5h.9M206.8 34.2h.9M211.6 34.6h.9M218.8 41.6h.9M211.4 47.4h.9M209.0 34.5h.9M203.3 56.3h.9M214.7 67.9h.9M205.1 53.8h.9M211.0 56.6h.9M209.0 55.4h.9M214.9 54.8h.9M217.7 48.4h.9M218.3 44.0h.9M219.9 26.9h.9M212.0 42.8h.9M211.0 58.1h.9M214.5 50.5h.9M219.4 37.6h.9M207.3 62.0h.9M213.9 32.2h.9M213.5 39.7h.9M217.1 59.5h.9M208.6 60.2h.9M207.5 57.0h.9M214.0 48.6h.9M205.7 46.8h.9M202.2 44.2h.9M203.1 59.2h.9M208.7 28.9h.9M213.8 52.7h.9M208.3 67.1h.9M214.7 50.3h.9M210.3 24.6h.9M213.0 57.7h.9M209.7 37.5h.9M212.2 35.5h.9M211.1 56.0h.9M217.7 52.1h.9M211.9 55.8h.9M217.5 47.2h.9M206.8 42.6h.9M206.7 41.7h.9M210.8 52.3h.9M212.1 50.1h.9M209.8 53.0h.9M214.8 56.1h.9M217.9 47.4h.9M209.6 63.6h.9M212.1 53.0h.9M209.6 57.5h.9M210.3 40.9h.9M211.5 45.8h.9M215.2 46.5h.9M212.1 47.7h.9M213.2 44.3h.9M216.8 37.8h.9M210.2 43.5h.9M214.2 50.0h.9M213.7 46.9h.9M209.1 39.9h.9M210.4 44.9h.9M212.5 52.5h.9M215.6 48.9h.9M208.9 40.4h.9M211.6 52.5h.9M219.6 51.5h.9M217.9 65.6h.9M206.5 59.4h.9M215.6 61.1h.9M211.0 57.5h.9M209.5 48.8h.9M210.7 64.5h.9M210.1 57.5h.9M212.1 43.6h.9M212.2 55.1h.9M208.2 54.6h.9M209.0 42.0h.9M212.5 47.6h.9M208.2 35.6h.9M211.5 51.5h.9M209.5 51.0h.9M204.9 52.4h.9M213.1 51.9h.9M208.9 50.0h.9M211.5 58.5h.9M212.5 51.7h.9M208.0 56.5h.9M216.7 45.7h.9M214.0 52.2h.9M212.0 38.7h.9M219.8 34.3h.9M213.0 46.4h.9M216.5 46.2h.9M211.4 54.6h.9M213.7 45.3h.9M214.2 53.0h.9M215.9 45.5h.9M211.5 46.2h.9M207.9 51.4h.9M212.5 61.5h.9M209.9 52.7h.9M216.3 48.8h.9M211.7 50.6h.9M209.1 41.1h.9M216.1 51.2h.9M211.8 39.1h.9M211.4 59.3h.9M207.1 41.8h.9M215.4 61.7h.9M218.3 45.3h.9M214.4 43.4h.9M213.9 46.6h.9M211.6 60.7h.9M213.0 47.6h.9M211.6 51.7h.9M209.3 51.1h.9M213.2 62.7h.9M203.5 39.1h.9M205.9 56.5h.9M221.6 51.7h.9M211.4 59.0h.9M201.4 47.4h.9M198.4 50.0h.9M209.6 45.3h.9M213.2 44.7h.9M216.1 49.8h.9M211.8 70.7h.9M209.2 57.1h.9M207.4 59.7h.9M215.4 50.9h.9M214.8 63.1h.9M217.2 49.9h.9M210.7 58.7h.9M205.7 44.1h.9M213.2 54.4h.9M218.4 64.6h.9M212.6 53.3h.9M206.1 47.6h.9M212.7 47.7h.9M211.4 54.6h.9M207.8 44.5h.9M203.5 58.6h.9M208.0 35.1h.9M214.8 47.9h.9M215.7 46.7h.9M220.0 56.0h.9M212.1 50.5h.9M210.2 56.2h.9M220.0 46.5h.9M206.7 54.2h.9M216.7 37.4h.9M209.1 41.1h.9M213.6 53.8h.9M209.0 40.0h.9M215.4 32.6h.9M214.2 48.4h.9M219.0 58.2h.9M209.2 47.1h.9M210.7 43.4h.9M211.4 57.5h.9M205.4 47.2h.9M217.3 56.0h.9M208.5 42.6h.9M208.8 36.0h.9M216.2 50.4h.9M209.3 37.5h.9M210.2 45.2h.9M218.8 46.1h.9M211.4 58.4h.9M214.3 48.2h.9M201.8 60.5h.9M214.2 46.1h.9M211.6 41.6h.9M208.5 37.0h.9M213.3 53.9h.9M211.8 56.0h.9M213.6 50.6h.9M207.6 54.2h.9M216.1 55.0h.9M216.9 45.9h.9M206.8 59.6h.9M209.0 51.4h.9M210.7 49.6h.9M210.7 45.0h.9M203.2 64.7h.9M213.3 33.7h.9M208.3 40.0h.9M209.7 28.4h.9M213.1 63.1h.9M210.1 55.6h.9M214.6 39.4h.9M217.3 35.9h.9M209.3 46.4h.9M216.6 50.8h.9M211.4 42.9h.9M211.8 49.9h.9M213.8 61.1h.9M214.5 49.8h.9M210.1 62.6h.9M212.3 49.4h.9M218.1 62.8h.9M213.9 48.7h.9M208.4 58.1h.9M209.2 57.3h.9M208.2 50.2h.9M213.1 50.8h.9M212.3 52.7h.9M207.4 40.1h.9M210.0 64.3h.9M211.4 41.9h.9M208.8 49.6h.9M216.6 45.2h.9M213.7 51.2h.9M210.5 41.7h.9M211.2 43.5h.9M214.6 35.2h.9M215.7 56.0h.9M213.1 61.9h.9M214.8 35.7h.9M211.5 53.2h.9M209.3 40.1h.9M213.0 53.8h.9M209.9 47.4h.9M209.7 44.7h.9M210.7 58.3h.9M205.1 46.3h.9M217.9 52.5h.9M211.7 56.4h.9M208.0 39.4h.9M205.4 37.2h.9M212.1 56.5h.9M210.1 43.8h.9M212.8 54.6h.9M213.5 34.0h.9M210.5 28.7h.9M212.9 42.6h.9M208.1 61.6h.9M216.7 53.8h.9M212.5 51.0h.9M209.1 48.9h.9M219.7 42.8h.9M208.7 50.7h.9M214.7 56.5h.9M207.6 48.2h.9M211.0 39.4h.9M212.1 45.6h.9M215.0 53.3h.9M208.3 50.0h.9M210.4 44.2h.9M209.0 58.1h.9M210.7 35.4h.9M207.9 55.9h.9M220.8 41.4h.9M210.2 46.7h.9M205.6 52.4h.9M211.2 51.8h.9M220.8 47.9h.9M214.3 56.5h.9M209.2 44.5h.9M217.5 55.7h.9M212.6 40.6h.9M214.8 54.0h.9M219.7 62.1h.9M214.6 51.9h.9M212.0 45.0h.9M212.6 51.6h.9M213.6 58.5h.9M213.0 45.2h.9M214.0 62.4h.9M207.9 52.7h.9M213.5 54.0h.9M213.6 48.9h.9M210.3 63.2h.9M219.2 38.5h.9M200.9 52.5h.9M209.0 45.1h.9M204.8 52.0h.9M211.5 45.1h.9M214.0 69.5h.9M216.9 59.4h.9M209.5 54.8h.9M210.8 58.9h.9M213.9 49.4h.9M214.1 43.8h.9M214.0 62.0h.9M209.8 53.9h.9M204.3 56.7h.9M215.6 41.4h.9M218.5 50.9h.9M205.1 37.9h.9M215.2 47.5h.9M216.8 37.1h.9M210.6 57.4h.9M208.4 54.9h.9M209.9 52.2h.9M211.7 67.8h.9M206.1 55.5h.9M217.4 40.7h.9M210.7 68.3h.9M217.2 25.6h.9M211.4 35.5h.9M213.1 43.7h.9M209.6 42.5h.9M212.9 45.8h.9M207.9 47.4h.9M213.6 42.6h.9M216.8 36.2h.9M213.4 46.4h.9M218.2 44.6h.9M209.5 38.4h.9M219.3 55.0h.9M207.2 46.5h.9M206.9 61.7h.9M214.2 33.0h.9M211.9 57.0h.9M211.3 53.4h.9M210.9 51.2h.9M212.7 43.8h.9M212.8 50.9h.9M211.7 43.9h.9M207.2 51.3h.9M216.0 30.0h.9M208.7 60.4h.9M215.6 43.9h.9M217.5 41.8h.9M207.3 65.1h.9M209.8 47.6h.9M205.3 40.9h.9M206.8 48.1h.9M203.5 57.7h.9M210.3 44.5h.9M208.6 55.4h.9M218.0 46.6h.9M217.3 63.0h.9M216.8 52.3h.9M205.1 54.6h.9M209.7 51.0h.9M204.0 46.7h.9M212.9 41.9h.9M211.9 63.2h.9M212.8 44.0h.9M222.3 32.5h.9M207.5 52.6h.9M210.2 30.6h.9M212.2 56.3h.9M207.5 61.3h.9M213.0 59.4h.9M205.3 49.1h.9M217.0 66.3h.9M216.9 49.8h.9M212.6 44.4h.9M216.3 44.1h.9M213.0 32.7h.9M204.5 63.7h.9M211.6 51.3h.9M202.5 48.7h.9M220.7 37.8h.9M201.9 47.6h.9M209.4 47.7h.9M207.0 38.1h.9M206.1 54.4h.9M210.9 56.2h.9M206.8 54.1h.9M209.6 50.1h.9M215.3 50.0h.9M210.9 35.8h.9M211.4 55.9h.9M208.9 48.8h.9M204.9 38.1h.9M212.5 60.2h.9M211.1 35.7h.9M210.7 36.6h.9M209.4 65.3h.9M212.8 48.3h.9M215.9 46.6h.9M212.8 51.2h.9M214.1 37.5h.9M214.0 56.9h.9M203.5 26.6h.9M207.1 61.5h.9M211.3 55.1h.9M213.3 56.9h.9M209.2 44.5h.9M212.7 54.6h.9M213.7 52.4h.9M209.0 58.5h.9M212.9 58.4h.9M200.5 57.2h.9M201.3 50.6h.9M208.7 50.3h.9M209.7 46.8h.9M212.1 52.4h.9M209.5 28.4h.9M208.0 53.8h.9M207.8 52.8h.9M210.4 41.6h.9M215.5 63.5h.9M211.1 49.1h.9M216.1 38.8h.9M207.3 58.6h.9M215.5 45.6h.9M208.1 52.2h.9M205.9 45.0h.9M211.8 29.1h.9M213.6 56.0h.9M216.6 37.8h.9M206.6 42.4h.9M205.1 66.2h.9M207.6 46.7h.9M212.1 53.3h.9M218.1 40.8h.9M215.1 51.0h.9M206.6 50.5h.9M204.9 62.6h.9M208.0 57.7h.9M217.2 44.7h.9M207.7 50.4h.9M206.7 56.7h.9M212.6 43.2h.9M208.3 55.4h.9M204.6 63.2h.9M208.3 47.7h.9M206.8 62.8h.9M214.3 60.6h.9M214.2 50.4h.9M218.2 55.5h.9M213.0 54.4h.9M214.4 52.0h.9M211.6 36.1h.9M220.7 39.2h.9M202.9 43.0h.9M219.0 60.2h.9M208.9 51.6h.9M212.4 32.9h.9M210.0 51.9h.9M217.0 39.7h.9M202.9 35.8h.9M212.8 50.3h.9M212.1 50.8h.9M210.7 38.0h.9M213.2 52.8h.9M213.3 60.1h.9M207.5 29.6h.9M203.0 67.0h.9M207.5 52.6h.9M211.1 55.6h.9M225.2 46.0h.9M211.1 44.5h.9M212.3 53.9h.9M206.8 60.3h.9M216.1 53.5h.9M211.2 47.5h.9M204.3 54.6h.9M207.7 45.0h.9M216.1 42.0h.9M208.9 56.6h.9M219.6 44.2h.9M216.5 44.3h.9M212.9 53.7h.9M206.2 57.8h.9M219.0 50.4h.9M213.2 39.7h.9M219.0 50.5h.9M205.8 55.6h.9M205.7 43.4h.9M201.9 60.5h.9M221.1 44.7h.9M209.1 44.5h.9M208.9 54.0h.9M218.1 41.4h.9M214.3 34.5h.9M217.9 49.1h.9M207.8 62.2h.9M210.4 61.0h.9M215.2 63.7h.9M208.1 49.8h.9M213.1 48.0h.9M218.2 43.9h.9M215.0 61.2h.9M203.8 40.9h.9M208.0 44.7h.9M213.2 48.1h.9M212.1 45.7h.9M210.9 53.5h.9M215.0 43.1h.9M211.4 43.1h.9M211.5 37.4h.9M215.2 55.4h.9M211.3 43.7h.9M209.9 43.8h.9M204.2 62.8h.9M225.9 40.0h.9M206.3 54.1h.9M214.8 36.5h.9M203.2 53.6h.9M202.4 60.9h.9M209.4 50.1h.9M211.8 44.8h.9M211.1 47.0h.9M216.8 49.0h.9M211.6 45.1h.9M209.2 43.2h.9M210.6 64.9h.9M216.1 51.8h.9M218.0 58.4h.9M212.5 48.2h.9M206.8 51.3h.9M211.0 36.1h.9M205.1 65.4h.9M212.1 53.7h.9M212.6 45.7h.9M212.9 58.7h.9M209.9 53.7h.9M216.0 45.7h.9M212.6 43.3h.9M214.2 46.6h.9M216.7 43.4h.9M218.7 47.3h.9M208.4 41.7h.9M214.7 42.5h.9M218.4 60.7h.9M214.4 37.7h.9M211.8 43.4h.9M203.7 52.6h.9M221.0 45.6h.9M214.2 60.5h.9M207.6 46.4h.9M212.4 53.5h.9M206.6 51.0h.9M210.6 57.5h.9M205.1 44.4h.9M209.5 46.7h.9M214.8 44.4h.9M223.3 44.3h.9M214.5 58.3h.9M215.6 48.0h.9M208.2 47.2h.9M214.2 50.7h.9M213.7 54.5h.9M208.3 41.4h.9M217.8 45.8h.9M203.9 64.7h.9M208.5 41.5h.9M216.1 40.3h.9M207.3 58.1h.9M206.8 70.3h.9M210.6 72.0h.9M212.0 50.0h.9M208.9 47.5h.9M209.4 49.2h.9M215.4 39.0h.9M208.7 31.7h.9M217.8 49.3h.9M211.5 49.0h.9M215.5 52.4h.9M215.1 48.3h.9M211.0 49.0h.9M203.1 58.2h.9M205.4 40.8h.9M214.3 50.1h.9M214.0 64.0h.9M218.6 61.6h.9M209.5 66.6h.9M207.9 48.6h.9M215.8 48.0h.9M211.2 46.5h.9M218.5 29.2h.9M216.3 58.7h.9M210.9 54.2h.9M206.9 58.6h.9M224.8 42.6h.9M217.4 49.4h.9M210.3 45.3h.9M211.3 39.0h.9M205.0 63.1h.9M211.1 54.1h.9M212.6 53.6h.9M205.6 41.2h.9M213.7 58.0h.9M207.0 44.4h.9M206.7 54.7h.9M212.9 49.9h.9M208.6 52.2h.9M212.0 43.3h.9M213.2 44.0h.9M215.2 55.0h.9M208.3 54.2h.9M212.1 43.6h.9M208.5 35.3h.9M206.6 52.1h.9M216.9 44.5h.9M212.0 52.4h.9M214.5 53.4h.9M216.3 56.2h.9M208.1 52.6h.9M201.8 47.4h.9M211.3 54.4h.9M209.8 56.4h.9M217.5 42.8h.9M209.1 51.5h.9M213.5 50.8h.9M215.6 39.8h.9M214.2 59.5h.9M215.9 53.4h.9M210.3 52.8h.9M212.0 36.2h.9M209.0 49.0h.9M209.8 41.6h.9M210.7 46.3h.9M211.8 49.1h.9M211.7 57.9h.9M211.9 52.9h.9M207.9 24.5h.9M209.5 55.1h.9M210.4 44.2h.9M205.9 56.7h.9M209.2 51.4h.9M216.0 54.3h.9M221.0 49.0h.9M215.2 55.6h.9M208.7 49.7h.9M209.6 40.8h.9M213.1 43.1h.9M218.9 43.7h.9M209.2 50.1h.9M209.3 49.8h.9M209.7 37.4h.9M202.0 38.1h.9M217.7 53.6h.9M212.4 45.6h.9M210.7 52.0h.9M206.1 42.5h.9M207.1 59.8h.9M206.5 59.1h.9M208.2 72.2h.9M211.2 49.8h.9M216.7 57.2h.9M216.0 40.8h.9M215.4 63.9h.9M211.3 45.4h.9M206.4 57.8h.9M212.7 49.6h.9M205.5 62.8h.9M215.2 49.6h.9M218.2 41.9h.9M215.7 41.3h.9M217.6 47.5h.9M216.8 46.3h.9M212.6 59.2h.9M207.7 50.1h.9M207.6 56.4h.9M209.2 46.2h.9M210.1 59.2h.9M207.1 49.0h.9M210.4 44.8h.9M208.3 48.0h.9M213.1 36.6h.9M213.1 39.6h.9M210.4 68.6h.9M207.5 48.7h.9M209.9 57.7h.9M210.4 34.4h.9M204.7 50.6h.9M212.0 58.5h.9M208.9 54.9h.9M206.4 60.1h.9M211.5 43.8h.9M211.4 64.2h.9M208.6 38.9h.9M207.8 39.6h.9M211.1 52.4h.9M210.7 51.1h.9M216.6 47.4h.9M207.4 30.0h.9M212.9 43.9h.9M210.2 52.9h.9M214.2 36.5h.9M207.4 49.9h.9M210.3 59.1h.9M210.4 32.1h.9M217.2 36.1h.9M207.2 52.5h.9M205.8 70.1h.9M212.2 54.0h.9M208.6 68.0h.9M214.1 43.6h.9M217.6 35.7h.9M208.9 51.8h.9M212.6 41.5h.9M217.4 62.2h.9M207.4 52.4h.9M209.1 45.7h.9M215.6 50.8h.9M211.0 50.3h.9M206.0 59.4h.9M207.7 60.3h.9M209.8 45.6h.9M217.6 51.5h.9M209.1 44.8h.9M213.1 65.3h.9M214.3 46.4h.9M207.1 43.6h.9M210.9 51.5h.9M208.1 60.1h.9M207.8 43.3h.9M213.3 53.7h.9M209.4 57.5h.9M204.8 62.8h.9M219.7 66.4h.9M211.0 66.0h.9M211.1 60.7h.9M210.6 51.1h.9M214.6 35.0h.9M209.8 63.9h.9M199.1 52.0h.9M215.2 52.5h.9M211.6 61.2h.9M213.9 33.7h.9M207.7 46.8h.9M212.3 45.8h.9M210.2 63.5h.9M198.6 58.4h.9M215.1 54.8h.9M211.5 50.0h.9M212.9 51.6h.9M208.1 55.9h.9M208.1 49.0h.9M210.6 39.8h.9M214.1 49.1h.9M206.7 48.6h.9M205.0 61.2h.9M212.7 66.3h.9M208.8 55.3h.9M207.9 42.1h.9M210.9 52.9h.9M215.5 47.5h.9M215.6 57.8h.9M207.9 47.8h.9M206.8 63.5h.9M208.8 56.8h.9M215.4 47.6h.9M209.3 52.3h.9M208.9 38.7h.9M207.3 52.1h.9M211.4 64.3h.9M203.6 53.2h.9M206.1 58.9h.9M214.3 50.7h.9M217.8 46.8h.9M209.8 40.6h.9M208.7 50.3h.9M213.7 60.4h.9M210.7 43.3h.9M210.3 45.8h.9M209.8 46.0h.9M207.9 48.8h.9M209.4 48.0h.9M205.7 50.4h.9M213.6 55.0h.9M209.8 39.9h.9M206.7 39.4h.9M209.0 46.8h.9M203.8 54.6h.9M205.4 43.4h.9M208.1 56.2h.9M219.3 47.0h.9M210.6 46.2h.9M210.8 48.0h.9M222.3 41.1h.9M211.4 42.9h.9M213.2 45.3h.9M214.4 40.7h.9M220.2 51.8h.9M203.8 54.9h.9M210.1 39.8h.9M213.6 45.3h.9M214.8 45.1h.9M215.2 51.0h.9M212.9 50.9h.9M210.2 46.4h.9M213.0 55.5h.9M208.7 67.9h.9M219.1 40.4h.9M216.0 49.2h.9M212.9 43.0h.9M218.8 43.1h.9M211.5 43.5h.9M218.9 60.4h.9M206.3 45.5h.9M213.2 46.0h.9M210.6 40.5h.9M213.1 40.5h.9M213.8 69.5h.9M209.3 63.0h.9M213.4 44.1h.9M210.6 41.5h.9M211.6 55.3h.9M215.5 47.4h.9M206.6 48.6h.9M218.3 52.2h.9M212.3 32.4h.9M209.4 53.9h.9M206.9 60.4h.9M209.6 42.2h.9M209.1 48.6h.9M215.9 45.1h.9M204.2 48.4h.9M212.9 62.3h.9M206.1 61.4h.9M214.1 53.4h.9M208.8 42.1h.9M207.1 57.0h.9M211.9 58.4h.9M219.0 50.1h.9M210.4 65.3h.9M206.3 45.5h.9M210.2 46.3h.9M212.5 42.7h.9M217.0 38.6h.9M209.0 35.4h.9M205.4 54.0h.9M214.2 48.1h.9M214.7 54.8h.9M209.1 49.1h.9M212.0 66.1h.9M209.5 52.5h.9M213.1 59.7h.9M212.7 58.5h.9M207.2 47.1h.9M203.5 48.6h.9M221.0 52.1h.9M211.7 51.7h.9M212.7 38.7h.9M208.7 47.9h.9M212.6 42.5h.9M211.4 43.5h.9M206.4 43.8h.9M207.8 56.2h.9M216.7 54.6h.9M210.9 44.9h.9M205.3 44.8h.9M217.4 59.4h.9M212.5 47.6h.9M211.3 53.0h.9M211.3 53.1h.9M208.3 49.7h.9M209.5 58.3h.9M205.7 59.9h.9M211.4 45.4h.9M211.5 50.6h.9M210.3 53.0h.9M210.0 35.6h.9M214.4 49.5h.9M218.2 53.1h.9M202.6 59.2h.9M208.4 53.9h.9M220.1 59.0h.9M207.0 48.5h.9M204.5 54.6h.9M214.3 41.3h.9M212.9 57.3h.9M215.2 44.3h.9M209.2 40.2h.9M206.0 51.8h.9M211.0 60.2h.9M212.8 47.0h.9M204.9 61.8h.9M212.2 49.4h.9M207.9 40.8h.9M214.6 41.8h.9M213.6 54.8h.9M210.7 36.2h.9M212.5 61.1h.9M208.7 39.1h.9M215.9 51.0h.9M208.3 59.4h.9M210.1 53.2h.9M210.2 43.4h.9M212.8 42.6h.9M204.5 44.7h.9M216.0 58.8h.9M220.0 58.2h.9M218.0 52.0h.9M209.5 53.3h.9M207.2 55.3h.9M209.5 51.6h.9M208.1 48.3h.9M215.6 48.1h.9M208.6 51.7h.9M215.2 48.3h.9M207.4 36.6h.9M205.5 57.9h.9M210.9 53.5h.9M215.8 52.2h.9M213.7 45.6h.9M204.6 54.3h.9M210.8 54.2h.9M207.2 48.2h.9M220.2 43.3h.9M211.3 60.3h.9M210.5 50.5h.9M202.4 55.4h.9M209.1 59.9h.9M211.3 46.5h.9M213.4 47.8h.9M208.6 62.0h.9M215.5 50.7h.9M214.4 56.5h.9M213.9 50.1h.9M211.6 52.9h.9M213.6 52.6h.9M209.3 48.9h.9M213.9 41.8h.9M211.1 55.7h.9M212.3 47.3h.9M211.6 45.7h.9M215.7 46.8h.9M205.2 39.5h.9M212.6 51.4h.9M210.2 38.9h.9M211.3 42.8h.9M208.8 49.4h.9M208.2 51.9h.9M208.7 45.7h.9M209.9 61.3h.9M217.5 57.6h.9M208.5 49.5h.9M214.9 56.3h.9M204.8 48.8h.9M208.1 55.5h.9M214.4 45.5h.9M220.4 47.9h.9M221.6 48.9h.9M210.2 64.9h.9M209.6 45.7h.9M217.6 49.7h.9M214.1 39.6h.9M218.4 58.0h.9M212.6 55.4h.9M209.7 45.7h.9M204.9 52.2h.9M216.2 56.8h.9M214.9 55.5h.9M208.3 39.0h.9M214.0 51.1h.9M215.7 47.7h.9M207.7 53.0h.9M210.0 36.4h.9M209.4 42.5h.9M207.2 45.0h.9M214.3 68.7h.9M218.8 46.7h.9M216.2 49.3h.9M213.5 44.3h.9M212.0 36.2h.9M219.2 44.0h.9M214.2 45.1h.9M213.2 40.3h.9M209.5 56.8h.9M214.9 34.3h.9M215.6 39.4h.9M212.4 53.8h.9M209.0 46.9h.9M210.3 52.8h.9M214.6 60.7h.9M211.9 65.6h.9M206.8 63.6h.9M210.1 55.7h.9M210.9 50.3h.9M207.5 52.5h.9M219.7 51.3h.9M211.4 49.7h.9M214.5 48.2h.9M211.4 51.4h.9M216.4 57.5h.9M207.5 44.3h.9M211.2 56.4h.9M215.6 48.2h.9M220.3 48.9h.9M216.6 61.3h.9M217.9 51.6h.9M214.6 37.6h.9M204.5 44.3h.9M213.9 58.3h.9M210.6 57.9h.9M213.1 61.9h.9M205.4 42.6h.9M208.1 41.1h.9M218.7 42.7h.9M208.3 46.3h.9M215.3 46.2h.9M214.3 54.2h.9M210.0 30.7h.9M208.3 39.5h.9M218.6 44.3h.9M206.9 52.4h.9M212.2 42.2h.9M215.6 57.2h.9M213.0 43.7h.9M208.9 33.1h.9M212.9 52.9h.9M207.7 49.6h.9M225.5 41.4h.9M204.2 54.1h.9M210.0 45.6h.9M214.1 48.7h.9M215.3 54.0h.9M216.2 50.9h.9M202.0 59.9h.9M204.0 57.5h.9M213.2 38.6h.9M211.3 56.6h.9M207.3 49.7h.9M208.9 41.4h.9M208.3 59.6h.9M214.3 49.5h.9M211.1 50.6h.9M212.6 51.1h.9M204.0 56.5h.9M209.2 28.6h.9M215.0 40.2h.9M211.0 48.8h.9M208.8 53.7h.9M210.5 47.3h.9M207.7 47.1h.9M207.2 49.7h.9M216.5 58.0h.9M213.9 38.8h.9M215.3 57.3h.9M221.1 32.2h.9M211.7 46.9h.9M216.5 41.2h.9M208.8 68.0h.9M216.5 33.9h.9M210.9 60.5h.9M208.7 54.2h.9M212.6 37.9h.9M208.4 58.5h.9M216.7 45.1h.9M216.5 44.2h.9M212.5 49.5h.9M206.2 51.8h.9M211.2 27.6h.9M208.5 42.6h.9M208.5 41.6h.9M209.8 29.8h.9M215.1 50.4h.9M212.7 47.5h.9M211.9 47.5h.9M207.7 37.2h.9M211.3 57.7h.9M211.7 62.5h.9M206.0 47.1h.9M208.4 59.3h.9M218.7 45.8h.9M214.6 47.8h.9M207.4 48.4h.9M206.5 61.7h.9M213.4 59.2h.9M214.1 30.2h.9M214.8 50.5h.9M201.6 49.8h.9M214.8 63.5h.9M206.9 55.6h.9M213.0 48.2h.9M210.1 53.7h.9M213.6 55.0h.9M210.4 38.9h.9M216.3 60.3h.9M209.2 49.1h.9M215.7 35.7h.9M212.4 69.1h.9M213.0 43.9h.9M219.9 50.1h.9M212.6 46.2h.9M213.1 35.2h.9M206.9 37.4h.9M215.3 49.0h.9M217.2 33.5h.9M208.3 61.1h.9M209.1 34.4h.9M208.6 46.6h.9M210.8 60.0h.9M216.2 62.3h.9M214.1 45.6h.9M210.2 37.5h.9M216.1 59.9h.9M212.3 42.4h.9M214.0 53.6h.9M212.7 40.2h.9M212.8 45.0h.9M214.3 54.5h.9M213.5 46.2h.9M217.4 56.1h.9M216.3 56.6h.9M214.0 52.8h.9M208.0 34.6h.9M207.3 54.2h.9M215.2 51.2h.9M211.0 64.3h.9M210.7 35.1h.9M205.3 46.5h.9M214.0 55.6h.9M210.2 56.0h.9M211.7 43.7h.9M209.6 55.5h.9M216.0 40.7h.9M207.4 50.3h.9M220.8 40.6h.9M206.1 52.6h.9M213.9 44.7h.9M211.2 53.4h.9M204.3 48.9h.9M213.5 57.1h.9M216.3 49.2h.9M204.9 59.9h.9M215.0 44.6h.9M215.3 58.1h.9M212.1 30.5h.9M209.9 43.3h.9M208.1 48.6h.9M206.9 52.4h.9M219.8 40.4h.9M216.0 45.5h.9M213.8 48.6h.9M217.1 44.1h.9M214.9 43.5h.9M212.4 49.4h.9M216.7 37.1h.9M205.3 60.4h.9M212.3 63.2h.9M207.2 50.9h.9M213.1 63.9h.9M211.5 45.9h.9M214.5 48.9h.9M208.1 55.4h.9M204.2 40.9h.9M217.3 45.8h.9M210.0 52.4h.9M215.8 54.0h.9M207.8 44.7h.9M215.9 48.8h.9M208.5 56.4h.9M215.1 67.3h.9M207.4 43.6h.9M208.5 52.2h.9M209.0 58.3h.9M200.0 56.6h.9M209.0 47.1h.9M213.7 51.3h.9M206.6 61.3h.9M214.1 45.7h.9M212.9 40.7h.9M206.6 46.8h.9M212.9 50.4h.9M209.0 38.2h.9M203.9 61.9h.9M213.4 43.2h.9M216.1 54.1h.9M210.1 44.5h.9M216.0 52.4h.9M218.0 52.8h.9M209.4 44.5h.9M208.5 51.4h.9M212.2 54.4h.9M213.9 41.2h.9M211.1 41.9h.9M214.1 39.0h.9M209.5 42.5h.9M209.1 47.3h.9M217.8 47.8h.9M205.8 46.7h.9M214.3 54.1h.9M211.5 65.6h.9M216.0 50.5h.9M217.1 39.0h.9M211.2 42.5h.9M211.4 62.6h.9M208.7 62.2h.9M206.6 60.7h.9M205.0 42.3h.9M215.6 49.0h.9M212.1 49.4h.9M212.3 48.1h.9M207.7 46.9h.9M212.4 42.3h.9M212.6 63.8h.9M205.1 44.7h.9M210.3 49.6h.9M212.2 43.7h.9M211.4 49.5h.9M210.4 61.9h.9M212.7 37.7h.9M204.8 53.9h.9M210.4 44.4h.9M206.1 46.7h.9M211.5 44.0h.9M209.6 56.5h.9M214.4 54.1h.9M211.5 38.5h.9M213.9 61.7h.9M216.1 59.2h.9M212.4 52.6h.9M210.8 59.6h.9M209.4 66.7h.9M214.8 47.1h.9M212.3 36.6h.9M208.7 46.9h.9M221.9 43.6h.9M215.2 50.3h.9M210.0 54.5h.9M202.9 56.6h.9M219.2 52.4h.9M211.2 50.8h.9M214.4 45.7h.9M211.7 53.6h.9M209.9 52.5h.9M212.5 55.3h.9M207.7 45.0h.9M209.2 59.0h.9M213.3 36.3h.9M205.4 64.8h.9M213.5 39.2h.9M207.7 50.4h.9M216.5 62.9h.9M210.2 47.0h.9M219.8 42.1h.9M217.7 52.6h.9M211.3 59.9h.9M213.9 42.9h.9M205.3 49.3h.9M212.9 60.6h.9M200.2 59.7h.9M213.3 61.9h.9M214.6 51.4h.9M213.1 52.8h.9M209.0 48.4h.9M212.2 45.9h.9M206.2 37.5h.9M213.3 53.8h.9M212.5 40.1h.9M215.2 46.6h.9M202.3 61.6h.9M204.3 67.3h.9M213.9 46.1h.9M202.3 43.3h.9M216.9 60.8h.9M213.4 35.8h.9M210.1 47.1h.9M213.4 48.6h.9M213.7 36.4h.9M208.2 61.0h.9M205.1 56.6h.9M220.6 55.3h.9M205.2 59.2h.9M203.8 51.8h.9M209.2 59.4h.9M216.2 51.3h.9M218.3 57.9h.9M210.0 41.5h.9M221.7 46.8h.9M213.2 48.7h.9M210.4 36.4h.9M211.0 48.5h.9M215.7 45.6h.9M205.7 40.5h.9M211.2 51.5h.9M214.6 46.6h.9M213.6 50.8h.9M218.4 49.5h.9M211.8 54.1h.9M216.9 42.4h.9M209.7 47.2h.9M202.2 59.5h.9M215.9 49.9h.9M224.6 60.6h.9M219.0 62.7h.9M215.9 38.3h.9M217.5 53.3h.9M206.6 49.6h.9M214.1 57.6h.9M212.5 45.3h.9M215.0 43.5h.9M210.8 55.6h.9M205.5 52.2h.9M204.0 41.5h.9M206.5 48.5h.9M214.4 49.3h.9M215.2 50.5h.9M210.4 53.4h.9M210.5 50.5h.9M216.0 45.1h.9M216.7 40.8h.9M211.4 35.4h.9M208.6 62.2h.9M212.3 59.9h.9M206.0 41.0h.9M213.0 56.3h.9M215.7 36.2h.9M213.6 49.0h.9M211.8 53.4h.9M211.2 35.7h.9M207.8 37.5h.9M206.2 48.1h.9M217.2 44.0h.9M208.9 40.0h.9M204.4 49.6h.9M209.6 47.4h.9M207.3 53.2h.9M206.3 53.6h.9M208.4 55.7h.9M207.7 52.9h.9M213.3 49.0h.9M218.1 51.3h.9M207.5 54.9h.9M208.4 44.9h.9M211.5 51.0h.9M219.3 35.8h.9M209.9 58.6h.9M210.7 52.1h.9M218.3 39.9h.9M211.3 55.9h.9M210.0 35.2h.9M207.3 50.8h.9M211.4 64.5h.9M217.7 37.3h.9M215.3 57.2h.9M218.2 48.7h.9M209.2 50.6h.9M217.5 54.9h.9M218.0 56.3h.9M209.6 41.2h.9M219.8 37.7h.9M210.2 46.8h.9M208.1 44.6h.9M210.4 68.8h.9M211.5 45.2h.9M211.5 57.1h.9M208.4 46.0h.9M204.0 54.8h.9M213.5 61.8h.9M205.5 66.8h.9M215.2 47.5h.9M210.1 46.9h.9M206.2 55.5h.9M209.4 43.5h.9M213.6 50.5h.9M209.2 47.5h.9M208.8 60.3h.9M215.9 43.9h.9M210.7 60.6h.9M209.5 63.9h.9M213.0 55.0h.9M202.6 55.9h.9M212.6 54.3h.9M213.2 53.9h.9M209.0 56.7h.9M212.3 41.0h.9M207.3 50.6h.9M213.9 31.7h.9M202.6 57.5h.9M210.1 72.6h.9M205.4 47.1h.9M208.8 53.9h.9M216.5 62.9h.9M206.8 59.3h.9M206.4 51.7h.9M211.9 54.6h.9M207.6 60.2h.9M211.2 49.3h.9M210.9 40.8h.9M214.3 52.4h.9M212.5 64.8h.9M208.1 47.0h.9M211.1 56.5h.9M210.3 57.1h.9M214.2 35.3h.9M209.7 32.8h.9M210.5 46.0h.9M213.8 51.0h.9M210.6 59.8h.9M214.5 39.6h.9M208.5 52.0h.9M218.6 48.3h.9M210.7 51.6h.9M214.7 49.0h.9M212.9 46.1h.9M209.6 42.9h.9M214.5 45.1h.9M213.6 52.9h.9M216.8 27.9h.9M208.1 39.3h.9M210.4 56.0h.9M221.1 62.7h.9M216.9 52.9h.9M209.7 53.8h.9M202.1 56.5h.9M211.2 54.5h.9M207.8 40.3h.9M208.9 49.0h.9M213.1 46.7h.9M212.6 55.1h.9M206.8 48.4h.9M205.4 44.7h.9M215.6 43.9h.9M218.9 54.1h.9M215.1 50.6h.9M214.5 58.6h.9M212.2 45.2h.9M208.3 65.1h.9M211.0 45.7h.9M209.4 35.6h.9M209.3 52.0h.9M209.9 43.2h.9M213.0 53.3h.9M209.6 51.9h.9M207.1 56.3h.9M207.6 46.5h.9M212.3 46.1h.9M205.8 66.3h.9M218.6 35.7h.9M212.6 39.2h.9M213.4 38.9h.9M213.6 54.0h.9M217.9 59.7h.9M209.2 57.1h.9M209.7 48.5h.9M210.3 35.0h.9M215.0 33.1h.9M210.3 53.7h.9M212.7 36.7h.9M208.5 54.9h.9M215.2 62.8h.9M203.8 52.8h.9M209.2 55.6h.9M204.7 47.9h.9M214.7 44.4h.9M210.5 41.4h.9M216.7 38.9h.9M207.9 46.6h.9M209.2 66.7h.9M213.0 42.8h.9M213.7 52.4h.9M212.7 49.0h.9M214.0 40.0h.9M206.8 45.7h.9M206.6 54.9h.9M218.8 60.1h.9M213.2 52.4h.9M209.3 38.7h.9M214.5 37.6h.9M212.8 48.4h.9M214.6 50.1h.9M212.2 44.8h.9M204.6 46.3h.9M213.8 58.2h.9M217.6 41.7h.9M207.3 55.0h.9M208.4 70.4h.9M213.5 37.2h.9M208.5 62.2h.9M203.9 50.3h.9M205.0 62.2h.9M210.2 41.0h.9M204.9 43.3h.9M201.3 45.0h.9M220.4 50.8h.9M211.0 40.0h.9M213.1 45.7h.9M207.4 60.6h.9M213.7 42.4h.9M217.6 49.4h.9M213.5 50.8h.9M216.0 54.8h.9M209.7 55.3h.9M209.8 50.5h.9M218.7 41.2h.9M207.5 46.0h.9M208.8 60.0h.9M203.9 67.8h.9M218.2 46.2h.9M212.4 46.6h.9M213.9 55.1h.9M214.2 55.9h.9M219.5 48.6h.9M214.5 48.2h.9M211.6 51.3h.9M211.1 52.3h.9M208.1 48.0h.9M209.6 39.8h.9M208.8 45.3h.9M211.7 36.7h.9M211.0 40.2h.9M208.1 50.8h.9M215.9 52.1h.9M209.7 45.8h.9M217.8 36.6h.9M216.9 37.5h.9M208.9 49.7h.9M209.8 63.0h.9M213.6 49.2h.9M215.4 50.0h.9M207.6 58.5h.9M217.0 60.4h.9M205.7 64.8h.9M209.4 55.7h.9M215.2 69.2h.9M205.4 40.7h.9M216.1 53.8h.9M211.7 25.5h.9M213.4 48.1h.9M199.5 70.8h.9M201.5 44.3h.9M211.4 51.4h.9M214.7 47.5h.9M208.0 46.3h.9M203.4 39.8h.9M219.9 44.4h.9M210.2 65.0h.9M215.8 50.8h.9M214.7 47.5h.9M207.3 57.5h.9M211.3 62.7h.9M210.6 46.4h.9M213.0 48.0h.9M210.7 42.1h.9M212.4 52.2h.9M219.0 49.7h.9M204.1 52.9h.9M221.1 46.5h.9M208.3 47.9h.9M199.9 46.0h.9M211.5 37.1h.9M214.3 42.5h.9M204.3 43.1h.9M213.2 65.4h.9M216.5 51.4h.9M209.5 47.2h.9M215.7 45.5h.9M212.7 57.5h.9M208.1 44.5h.9M213.3 49.7h.9M211.2 45.1h.9M210.3 64.7h.9M217.9 36.6h.9M211.6 50.3h.9M212.3 38.2h.9M210.9 50.7h.9M208.5 51.9h.9M202.2 36.5h.9M211.7 52.7h.9M211.0 45.7h.9M211.7 58.4h.9M215.2 49.1h.9M209.1 58.1h.9M213.3 56.9h.9M210.8 42.4h.9M212.6 44.4h.9M215.8 56.8h.9M202.2 54.4h.9M216.5 58.3h.9M210.0 42.3h.9M215.0 58.1h.9M212.3 40.0h.9M205.1 51.3h.9M208.4 43.7h.9M212.8 58.2h.9M203.3 43.5h.9M216.9 49.5h.9M209.8 54.7h.9M207.4 39.2h.9M210.8 62.3h.9M215.7 49.7h.9M215.9 46.4h.9M207.5 35.5h.9M212.2 57.0h.9M213.1 49.3h.9M209.3 58.4h.9M212.0 37.7h.9M217.5 44.5h.9M213.1 49.6h.9M215.7 51.8h.9M216.4 51.5h.9M209.9 45.2h.9M214.6 42.9h.9M215.4 47.8h.9M208.1 42.1h.9M210.0 64.0h.9M214.7 49.9h.9M206.8 64.9h.9M210.4 49.4h.9M209.1 60.4h.9M212.5 45.8h.9M212.8 41.3h.9M207.2 47.9h.9M199.1 58.4h.9M220.2 40.9h.9M211.7 36.5h.9M212.1 51.3h.9M215.2 38.7h.9M209.3 44.0h.9M209.4 68.2h.9M210.7 49.1h.9M209.0 55.9h.9M221.5 59.7h.9M218.3 41.1h.9M215.8 50.0h.9M216.1 58.5h.9M215.0 35.9h.9M212.3 45.4h.9M213.3 49.9h.9M216.6 36.6h.9M208.5 48.7h.9M213.0 46.3h.9M211.4 50.0h.9M215.9 48.8h.9M213.4 34.6h.9M201.4 36.8h.9M214.1 30.6h.9M213.2 48.8h.9M211.9 43.5h.9M209.4 56.2h.9M213.0 49.4h.9M209.4 51.1h.9M216.4 49.6h.9M210.6 39.7h.9M212.4 42.0h.9M205.1 56.3h.9M209.9 32.6h.9M207.6 64.5h.9M211.7 38.6h.9M206.6 55.1h.9M213.1 51.4h.9M211.7 49.7h.9M222.8 49.7h.9M211.9 27.5h.9M215.8 62.5h.9M217.1 29.2h.9M214.2 59.3h.9M208.9 49.8h.9M220.7 63.3h.9M202.8 23.4h.9M215.4 52.3h.9M210.7 43.8h.9M210.4 58.2h.9M198.8 47.0h.9M204.8 36.0h.9M203.2 33.3h.9M212.8 44.3h.9M224.4 41.4h.9M215.2 48.2h.9M214.7 61.3h.9M213.9 45.8h.9M212.3 44.0h.9M212.6 55.8h.9M213.1 44.8h.9M212.7 53.0h.9M210.0 55.1h.9M209.3 52.2h.9M225.3 46.7h.9M212.4 30.1h.9M217.7 44.2h.9M218.8 36.2h.9M216.3 65.4h.9M215.6 40.1h.9M204.7 43.9h.9M217.2 51.1h.9M205.8 31.9h.9M206.7 31.9h.9M211.2 47.1h.9M225.3 46.3h.9M222.3 24.4h.9M222.9 53.4h.9M215.8 53.8h.9M217.0 66.6h.9M218.2 23.4h.9M201.8 63.1h.9M212.5 59.6h.9M210.8 36.2h.9M210.8 47.7h.9M214.2 36.7h.9M216.4 51.3h.9M207.1 30.8h.9M200.4 40.4h.9M213.1 35.8h.9M209.1 42.4h.9M213.2 50.8h.9M218.3 49.2h.9M220.2 32.5h.9M216.9 48.4h.9M206.3 36.0h.9M215.8 44.9h.9M204.9 37.4h.9M222.8 54.0h.9M213.5 60.0h.9M207.2 42.0h.9M219.2 40.0h.9M205.8 50.9h.9M214.0 29.2h.9M211.1 27.3h.9M229.7 35.9h.9M213.3 35.6h.9M206.6 38.6h.9M214.3 64.8h.9M214.8 62.6h.9M206.2 44.8h.9M210.2 25.4h.9M236.9 41.1h.9M214.6 35.1h.9M209.3 31.7h.9M219.6 39.2h.9M212.1 46.1h.9M205.1 46.8h.9M211.9 49.3h.9M210.5 44.5h.9M216.3 55.5h.9M208.6 55.5h.9M206.7 41.8h.9M213.8 45.7h.9M197.0 32.4h.9M211.8 55.0h.9M208.5 61.9h.9M201.4 44.9h.9M216.5 44.2h.9M214.7 55.1h.9M207.8 51.0h.9M219.8 41.2h.9M198.1 29.9h.9M207.5 31.5h.9M215.8 34.5h.9M228.9 50.8h.9M204.6 40.6h.9M222.8 52.1h.9M206.5 56.3h.9M209.9 70.3h.9M209.5 51.1h.9M216.6 38.7h.9M212.0 57.7h.9M216.2 43.3h.9M215.9 64.7h.9M219.0 49.6h.9M215.1 25.5h.9M213.9 38.2h.9M217.7 36.8h.9M215.9 31.5h.9M218.8 35.4h.9M212.8 50.8h.9M210.9 44.1h.9M219.8 65.0h.9M201.4 33.3h.9M217.3 55.2h.9M210.0 45.1h.9M211.8 71.0h.9M211.7 29.9h.9M203.0 28.9h.9M221.4 39.4h.9M225.5 51.6h.9M215.5 51.6h.9M218.1 54.9h.9M206.7 37.4h.9M209.5 45.2h.9M211.4 29.4h.9M208.5 65.2h.9M226.6 33.9h.9M215.4 43.6h.9M207.6 52.5h.9M212.6 63.8h.9M215.9 40.3h.9M196.0 42.8h.9M218.4 35.5h.9M218.7 52.1h.9M201.7 41.7h.9M215.1 52.9h.9M214.0 43.8h.9M210.8 40.6h.9M213.0 31.4h.9M217.1 40.1h.9M216.4 38.0h.9M215.6 45.5h.9M218.7 49.5h.9M219.0 42.0h.9M212.6 40.9h.9M204.9 42.5h.9M220.0 53.1h.9M207.5 47.6h.9M217.8 27.9h.9M215.2 47.9h.9M217.8 47.0h.9M225.7 39.3h.9M221.2 59.0h.9M213.6 30.5h.9M221.8 43.6h.9M216.3 49.7h.9M219.1 56.0h.9M203.9 27.3h.9M213.9 44.1h.9M218.0 42.4h.9M211.8 68.0h.9M221.8 57.7h.9M219.7 34.7h.9M212.5 43.2h.9M206.0 33.7h.9M214.0 29.6h.9M216.5 49.6h.9M211.5 40.0h.9M216.9 49.7h.9M215.3 29.5h.9M202.6 68.2h.9M208.8 39.7h.9M201.3 34.6h.9M208.3 53.4h.9M196.0 27.4h.9M210.4 38.2h.9M208.0 38.8h.9M202.9 47.2h.9M220.7 45.8h.9M209.6 58.9h.9M216.1 31.8h.9M209.3 36.8h.9M212.7 58.3h.9M208.5 42.3h.9M213.7 29.9h.9M209.9 51.2h.9M217.5 40.6h.9M221.3 51.3h.9M225.6 47.7h.9M210.5 34.2h.9M203.8 50.5h.9M216.3 53.7h.9M215.3 26.4h.9M210.4 41.1h.9M214.0 53.0h.9M222.1 47.4h.9M199.7 32.0h.9M199.3 35.0h.9M205.3 46.8h.9M211.6 57.1h.9M219.9 38.6h.9M219.1 44.2h.9M215.9 59.9h.9M205.6 43.2h.9M222.9 35.0h.9M214.4 45.6h.9M210.3 28.6h.9M208.6 32.4h.9M219.9 46.9h.9M217.5 30.0h.9M216.2 45.7h.9M219.7 35.5h.9M218.2 60.1h.9M224.6 33.1h.9M205.8 26.8h.9M219.2 51.0h.9M215.2 33.8h.9M221.1 62.9h.9M212.8 42.6h.9M220.6 50.0h.9M221.6 39.3h.9M215.2 40.0h.9M209.3 40.5h.9M211.2 49.9h.9M211.1 44.8h.9M207.8 29.6h.9M222.2 32.4h.9M224.7 55.1h.9M198.3 36.5h.9M210.3 44.2h.9M211.9 36.9h.9M221.1 42.5h.9M219.2 35.9h.9M208.6 59.7h.9M211.2 31.1h.9M211.9 56.4h.9M212.0 35.6h.9M217.1 55.6h.9M211.7 40.3h.9M210.7 75.7h.9M211.8 64.5h.9M212.1 48.8h.9M199.9 46.1h.9M213.3 40.3h.9M210.4 28.0h.9M203.4 46.0h.9M208.9 43.0h.9M211.9 38.1h.9M208.3 65.8h.9M205.9 38.0h.9M211.1 30.5h.9M206.9 54.1h.9M219.0 45.6h.9M215.0 30.2h.9M210.0 23.8h.9M209.7 33.6h.9M206.1 34.1h.9M205.0 22.6h.9M206.9 23.8h.9M208.6 22.7h.9M206.9 31.1h.9M206.4 28.2h.9M209.7 22.7h.9M203.9 27.3h.9M207.7 26.0h.9M204.6 31.7h.9M204.1 26.0h.9M206.9 29.8h.9M205.9 23.8h.9M212.0 23.7h.9M209.0 26.4h.9M205.8 26.8h.9M206.4 28.2h.9M200.7 26.9h.9M207.2 23.2h.9M206.1 36.1h.9M211.6 29.5h.9M207.6 25.8h.9M210.4 25.3h.9M205.0 29.7h.9M204.6 23.9h.9M206.8 27.5h.9M206.4 25.7h.9M211.8 30.9h.9M205.1 30.4h.9M208.6 26.6h.9M206.4 25.9h.9M203.2 24.5h.9M209.3 32.6h.9M211.6 25.5h.9M204.4 22.7h.9M208.0 30.3h.9M204.7 34.0h.9M207.4 23.7h.9M207.9 26.9h.9M209.1 28.3h.9M212.4 31.6h.9M205.4 30.1h.9M208.9 23.1h.9M205.2 23.9h.9M200.9 29.5h.9M206.5 31.8h.9M205.6 27.3h.9M208.8 30.8h.9M207.8 22.9h.9M212.4 30.4h.9M210.4 33.3h.9M223.2 28.6h.9M220.4 29.5h.9M214.6 30.2h.9M216.1 28.6h.9M216.0 29.8h.9M217.6 36.7h.9M219.6 29.0h.9M216.3 25.9h.9M218.8 25.9h.9M217.7 23.6h.9M221.3 25.5h.9M216.6 28.4h.9M216.6 26.3h.9M217.5 23.4h.9M218.4 23.8h.9M215.3 28.4h.9M217.9 27.7h.9M220.3 28.5h.9M219.8 29.3h.9M217.6 23.9h.9M220.8 25.4h.9M219.1 29.5h.9M221.8 31.8h.9M217.0 25.6h.9M215.3 29.4h.9M217.2 23.4h.9M221.4 29.1h.9M221.7 25.7h.9M218.2 25.7h.9M217.0 29.8h.9M216.7 26.8h.9M219.4 29.0h.9M217.6 22.6h.9M226.4 24.2h.9M219.4 26.2h.9M224.6 34.9h.9M221.9 23.1h.9M216.7 24.1h.9M217.5 28.0h.9M216.7 26.0h.9M223.4 32.6h.9M213.5 23.3h.9M217.9 32.0h.9M218.1 34.4h.9M220.1 32.6h.9M216.5 25.8h.9M222.0 29.2h.9M213.5 25.9h.9M219.6 29.5h.9M217.2 33.8h.9M219.5 32.6h.9M220.2 27.3h.9M221.6 29.9h.9M221.8 25.5h.9M216.1 25.5h.9M228.7 41.9h.9M232.2 30.5h.9M228.2 50.7h.9M232.0 69.9h.9M231.0 31.3h.9M226.7 32.0h.9M229.7 45.2h.9M229.3 34.3h.9M229.0 41.0h.9M231.2 43.1h.9M227.3 27.3h.9M233.6 40.9h.9M229.0 41.7h.9M232.6 38.1h.9M230.0 39.0h.9M231.1 29.3h.9M230.1 55.0h.9M232.8 49.8h.9M230.3 61.8h.9M231.5 59.6h.9M226.2 28.2h.9M231.7 38.7h.9M228.3 30.1h.9M233.6 27.0h.9M229.8 24.5h.9M229.1 70.3h.9M236.2 35.8h.9M226.8 62.5h.9M230.5 28.4h.9M225.6 56.2h.9M227.5 28.6h.9M230.0 39.6h.9M232.6 43.2h.9M233.9 56.3h.9M234.4 56.1h.9M229.7 48.9h.9M226.3 51.3h.9M223.1 31.6h.9M226.0 41.2h.9M226.7 45.2h.9M229.0 36.1h.9M229.7 25.8h.9M228.7 46.7h.9M232.4 50.9h.9M233.6 24.2h.9M231.4 61.8h.9M230.6 28.1h.9M230.6 35.5h.9M227.8 55.4h.9M229.1 28.0h.9M227.7 66.7h.9M227.2 50.5h.9M230.0 56.7h.9M228.8 30.1h.9M227.8 29.1h.9M236.7 44.5h.9M228.7 57.9h.9M231.3 39.7h.9M231.2 45.4h.9M232.6 62.8h.9M228.7 41.6h.9M229.0 57.4h.9M230.6 51.9h.9M232.0 34.0h.9M229.9 59.4h.9M232.1 52.2h.9M228.8 37.5h.9M227.2 38.6h.9M229.4 24.0h.9M232.7 32.4h.9M230.2 49.6h.9M232.2 47.2h.9M228.9 56.3h.9M232.0 30.0h.9M228.8 59.8h.9M227.3 52.4h.9M225.4 38.3h.9M232.1 63.6h.9M230.8 51.6h.9M224.9 65.8h.9M236.3 49.6h.9M229.7 45.3h.9M229.6 34.3h.9M229.5 40.5h.9M231.4 50.6h.9M232.2 49.4h.9M226.9 59.5h.9M222.2 43.5h.9M230.5 35.4h.9M234.7 28.3h.9M226.4 35.7h.9M230.7 52.0h.9M229.8 50.4h.9M227.6 34.4h.9M229.9 25.1h.9M230.1 37.1h.9M231.4 29.3h.9M228.1 34.9h.9M228.5 29.5h.9M228.8 25.1h.9M231.0 50.5h.9M229.5 39.7h.9M227.1 30.0h.9M229.0 30.7h.9M181.9 92.8h.9M186.0 91.8h.9M183.2 92.4h.9M183.6 91.8h.9M186.7 93.7h.9M188.7 91.5h.9M190.3 90.6h.9M185.5 94.6h.9M194.4 92.7h.9M184.8 91.9h.9M181.8 92.3h.9M184.6 91.3h.9M190.2 91.2h.9M192.0 93.9h.9M188.3 91.5h.9M184.3 89.2h.9M187.0 92.1h.9M187.4 91.4h.9M187.8 90.0h.9M178.4 93.3h.9M189.8 87.3h.9M190.5 91.9h.9M185.5 90.0h.9M182.6 93.7h.9M183.5 92.4h.9M189.2 90.3h.9M184.4 90.6h.9M181.2 91.4h.9M189.9 92.6h.9M188.4 92.3h.9M184.6 92.6h.9M192.3 93.1h.9M188.2 89.2h.9M183.3 93.8h.9M190.3 91.9h.9M185.3 91.8h.9M188.8 92.5h.9M191.3 94.5h.9M185.0 91.5h.9M185.2 91.1h.9M184.6 92.4h.9M189.1 89.9h.9M181.2 91.2h.9M185.0 93.3h.9M183.3 95.0h.9M184.2 92.1h.9M186.2 94.4h.9M187.1 92.5h.9M184.2 92.8h.9M187.4 91.9h.9M186.0 89.5h.9M184.2 94.4h.9M191.0 92.4h.9M184.6 94.2h.9M183.9 94.8h.9M190.1 90.7h.9M185.3 90.5h.9M187.0 91.8h.9M180.8 90.8h.9M186.9 90.0h.9M189.8 93.2h.9M185.4 94.8h.9M182.8 93.6h.9M181.3 92.0h.9M188.3 91.6h.9M185.6 93.6h.9M191.3 94.6h.9M187.6 92.1h.9M192.5 88.9h.9M189.1 92.4h.9M188.5 93.0h.9M185.4 92.5h.9M185.9 94.4h.9M185.1 91.6h.9M188.3 93.6h.9M187.5 93.0h.9M191.1 94.3h.9M186.8 92.2h.9M188.3 89.4h.9M184.2 91.3h.9M186.6 91.9h.9M194.6 93.7h.9M186.0 92.0h.9M190.3 93.9h.9M189.2 94.5h.9M184.8 91.4h.9M183.5 92.7h.9M189.5 90.8h.9M184.2 90.3h.9M193.0 93.8h.9M186.8 90.5h.9M182.5 91.4h.9M186.2 90.4h.9M185.2 94.5h.9M186.1 92.7h.9M178.8 92.1h.9M185.5 91.4h.9M181.2 92.4h.9M182.5 91.6h.9M180.5 92.3h.9M189.2 91.1h.9M187.2 90.0h.9M188.0 93.4h.9M184.7 94.0h.9M183.0 92.6h.9M191.9 92.5h.9M182.1 94.4h.9M187.9 92.0h.9M179.7 89.4h.9M180.8 95.0h.9M187.0 91.1h.9M190.0 94.9h.9M183.1 93.3h.9M180.3 93.1h.9M192.3 90.2h.9M186.2 91.4h.9M185.7 92.6h.9M187.0 94.0h.9M187.8 94.2h.9M189.5 94.3h.9M183.7 93.2h.9M184.7 91.1h.9M192.8 93.0h.9M186.2 89.0h.9M185.2 93.8h.9M185.3 91.6h.9M191.1 92.0h.9M184.9 92.3h.9M185.2 94.2h.9M188.0 92.4h.9M184.8 92.1h.9M191.9 92.0h.9M188.3 89.9h.9M187.1 93.6h.9M190.4 93.0h.9M188.0 93.0h.9M186.7 91.1h.9M188.1 92.3h.9M188.2 93.8h.9M186.6 91.8h.9M187.1 90.4h.9M187.0 91.0h.9M187.6 92.7h.9M185.3 90.5h.9M186.2 91.4h.9M185.5 93.7h.9M189.3 90.4h.9M189.3 94.8h.9M189.9 93.0h.9M184.9 90.0h.9M186.3 93.0h.9M182.5 90.5h.9M192.9 92.7h.9M188.7 91.5h.9M180.8 92.2h.9M190.7 91.4h.9M179.9 92.2h.9M185.1 92.5h.9M182.4 92.0h.9M184.2 94.0h.9M186.6 93.9h.9M185.9 89.0h.9M179.3 93.4h.9M189.1 94.0h.9M185.8 89.5h.9M184.3 93.2h.9M190.8 91.9h.9M184.1 91.2h.9M189.5 93.9h.9M179.8 94.5h.9M182.9 90.1h.9M180.5 91.3h.9M181.8 91.4h.9M186.6 93.2h.9M184.4 89.9h.9M184.6 91.4h.9M179.9 92.7h.9M181.0 89.6h.9M191.3 94.1h.9M191.0 92.7h.9M184.6 92.4h.9M181.3 93.7h.9M187.0 92.0h.9M179.6 92.3h.9M191.6 94.9h.9M189.1 91.9h.9M186.5 93.4h.9M186.7 94.2h.9M183.7 88.6h.9M177.7 91.0h.9M181.3 93.6h.9M189.7 92.5h.9M187.9 92.6h.9M186.6 91.7h.9M184.6 94.5h.9M185.1 92.4h.9M190.2 94.1h.9M184.7 92.9h.9M182.6 92.7h.9M187.1 92.5h.9M186.6 93.1h.9M177.3 91.1h.9M186.3 91.7h.9M182.7 92.1h.9M191.6 92.1h.9M183.8 91.7h.9M181.9 93.3h.9M182.6 94.0h.9M189.2 93.5h.9M189.6 92.4h.9M180.0 92.4h.9M188.2 89.9h.9M181.8 94.3h.9M187.6 94.7h.9M188.3 92.6h.9M187.5 93.9h.9M185.9 92.2h.9M187.1 92.0h.9M194.4 91.2h.9M180.8 90.4h.9M189.7 91.8h.9M186.6 92.1h.9M187.0 90.1h.9M186.3 91.5h.9M189.8 93.5h.9M181.7 90.9h.9M188.0 94.5h.9M188.7 92.2h.9M189.9 88.6h.9M184.2 90.9h.9M182.5 93.4h.9M187.0 93.0h.9M185.6 93.5h.9M188.8 91.5h.9M189.3 91.0h.9M192.1 90.3h.9M185.1 90.7h.9M186.2 94.7h.9M190.9 93.1h.9M184.0 94.0h.9M176.1 91.2h.9M189.4 92.4h.9M194.7 91.4h.9M181.4 92.1h.9M179.9 92.8h.9M190.4 91.4h.9M184.5 90.5h.9M188.7 93.9h.9M188.1 92.9h.9M189.5 92.3h.9M188.5 93.9h.9M190.6 93.4h.9M186.3 93.7h.9M180.7 89.6h.9M191.7 92.7h.9M182.4 91.5h.9M185.5 92.6h.9M183.4 94.2h.9M188.4 89.7h.9M181.8 92.6h.9M187.0 91.8h.9M186.1 92.8h.9M182.0 92.6h.9M194.0 91.4h.9M182.5 93.6h.9M190.8 94.2h.9M183.8 92.4h.9M186.8 92.1h.9M187.4 94.3h.9M188.0 92.5h.9M188.6 92.6h.9M190.3 94.0h.9M193.4 89.5h.9M186.4 92.0h.9M183.5 92.6h.9M187.9 93.4h.9M185.6 90.3h.9M188.0 93.5h.9M193.5 94.1h.9M186.1 90.6h.9M195.7 91.4h.9M186.7 93.8h.9M187.8 94.7h.9M182.4 91.3h.9M186.7 90.4h.9M183.9 94.8h.9M187.1 92.3h.9M184.0 92.6h.9M185.9 90.7h.9M188.8 90.4h.9M190.6 91.9h.9M178.0 89.9h.9M187.1 91.0h.9M192.5 94.8h.9M193.5 94.0h.9M190.8 91.5h.9M190.7 91.8h.9M185.9 90.2h.9M186.3 93.2h.9M185.8 90.6h.9M189.3 94.0h.9M185.7 93.8h.9M189.6 90.8h.9M185.9 89.4h.9M182.4 93.2h.9M182.9 93.2h.9M187.3 89.0h.9M186.1 92.7h.9M183.5 89.8h.9M185.4 91.0h.9M186.4 89.2h.9M183.4 93.0h.9M182.8 93.9h.9M183.0 92.3h.9M190.7 93.4h.9M184.9 89.9h.9M180.3 94.5h.9M187.9 92.6h.9M190.5 92.7h.9M183.4 92.3h.9M185.7 92.5h.9M195.0 93.5h.9M187.0 92.1h.9M183.6 90.8h.9M179.3 91.7h.9M180.6 89.4h.9M182.7 89.1h.9M191.0 94.6h.9M188.4 88.2h.9M186.1 90.8h.9M179.8 92.1h.9M190.2 93.3h.9M180.8 91.4h.9M183.3 94.4h.9M185.7 90.8h.9M182.8 89.2h.9M183.0 94.0h.9M179.2 92.8h.9M185.6 93.9h.9M181.9 94.0h.9M180.2 92.4h.9M185.3 92.7h.9M182.5 94.0h.9M182.6 91.5h.9M188.7 92.7h.9M183.3 94.6h.9M187.9 94.2h.9M185.4 94.7h.9M184.4 90.6h.9M186.0 90.1h.9M190.6 93.7h.9M180.0 92.8h.9M189.1 91.9h.9M187.5 91.5h.9M185.8 92.4h.9M187.8 90.9h.9M181.9 93.1h.9M184.2 93.4h.9M184.2 90.3h.9M188.7 93.0h.9M188.7 91.9h.9M184.7 94.7h.9M187.9 92.4h.9M186.3 93.5h.9M183.2 93.0h.9M182.6 89.4h.9M186.7 92.7h.9M188.4 93.4h.9M188.6 93.8h.9M182.2 94.6h.9M195.7 91.5h.9M181.5 93.7h.9M189.3 94.2h.9M191.6 90.1h.9M187.4 93.3h.9M190.5 91.0h.9M186.1 91.9h.9M185.4 92.3h.9M185.5 89.5h.9M185.9 92.6h.9M184.6 86.4h.9M183.5 91.4h.9M189.4 92.2h.9M182.5 93.3h.9M190.0 92.3h.9M188.2 91.1h.9M180.3 93.9h.9M191.9 92.0h.9M184.1 89.4h.9M193.8 90.5h.9M182.5 92.2h.9M190.4 92.6h.9M185.9 92.5h.9M189.1 92.4h.9M186.6 92.4h.9M182.0 94.8h.9M183.5 90.2h.9M184.4 92.6h.9M189.0 90.0h.9M181.4 92.8h.9M187.4 90.6h.9M181.9 92.8h.9M185.5 89.7h.9M182.2 94.3h.9M191.8 91.4h.9M183.5 93.6h.9M181.5 93.4h.9M190.4 92.9h.9M187.2 92.2h.9M189.6 91.1h.9M191.8 92.5h.9M184.8 89.7h.9M184.4 92.9h.9M190.5 89.7h.9M185.5 91.3h.9M181.7 92.5h.9M183.3 94.0h.9M176.3 93.8h.9M179.1 89.2h.9M187.9 91.9h.9M186.5 90.8h.9M182.2 91.2h.9M185.8 91.1h.9M184.5 91.0h.9M186.8 90.6h.9M178.5 88.0h.9M185.9 92.7h.9M189.5 91.2h.9M181.9 90.0h.9M188.7 91.4h.9M189.6 92.4h.9M185.0 89.3h.9M183.6 93.8h.9M183.8 93.7h.9M180.1 94.2h.9M196.1 94.4h.9M187.2 90.4h.9M184.1 91.4h.9M186.7 89.1h.9M182.9 93.9h.9M186.5 93.8h.9M189.1 90.5h.9M181.1 93.3h.9M186.1 92.6h.9M183.1 94.2h.9M187.8 94.4h.9M184.7 93.7h.9M185.8 90.9h.9M185.7 89.7h.9M185.4 92.8h.9M188.5 90.7h.9M181.2 91.3h.9M178.5 91.4h.9M195.5 92.7h.9M183.3 91.3h.9M192.4 90.5h.9M185.6 92.4h.9M183.4 91.3h.9M179.9 91.1h.9M190.7 94.9h.9M185.0 93.7h.9M187.7 92.7h.9M185.5 94.6h.9M188.1 92.1h.9M185.2 94.1h.9M183.9 91.3h.9M185.0 91.7h.9M190.6 93.1h.9M185.7 91.6h.9M191.1 93.3h.9M193.5 94.1h.9M185.2 91.6h.9M185.0 92.8h.9M188.9 93.3h.9M191.7 89.9h.9M186.1 90.1h.9M182.3 91.5h.9M183.6 90.8h.9M180.5 94.4h.9M184.8 94.1h.9M182.0 88.5h.9M183.9 94.0h.9M184.0 93.2h.9M182.1 94.9h.9M187.6 94.3h.9M185.0 94.7h.9M186.3 91.7h.9M183.7 92.6h.9M182.7 90.5h.9M186.5 93.7h.9M184.9 93.9h.9M191.7 90.3h.9M186.9 90.9h.9M183.7 92.8h.9M177.4 93.5h.9M189.0 93.4h.9M184.7 94.4h.9M191.2 93.3h.9M179.6 92.2h.9M184.9 89.7h.9M185.8 93.8h.9M185.1 92.2h.9M191.3 91.5h.9M182.6 92.6h.9M190.0 93.5h.9M186.3 91.7h.9M190.4 94.0h.9M179.7 93.1h.9M188.2 91.4h.9M181.3 92.0h.9M179.7 93.5h.9M184.2 89.5h.9M185.9 94.5h.9M181.4 91.9h.9M192.6 92.8h.9M184.0 92.8h.9M188.8 90.8h.9M185.6 89.7h.9M180.3 89.9h.9M189.0 93.0h.9M188.6 94.6h.9M186.2 92.9h.9M187.5 93.3h.9M182.2 92.0h.9M185.4 92.6h.9M183.3 92.3h.9M187.0 92.8h.9M188.1 93.9h.9M188.0 94.1h.9M189.0 94.9h.9M188.3 91.4h.9M194.4 94.4h.9M190.5 93.7h.9M186.2 90.5h.9M187.6 91.9h.9M184.6 88.9h.9M191.6 90.5h.9M182.0 93.3h.9M188.0 91.1h.9M186.0 92.9h.9M186.6 93.4h.9M188.8 91.9h.9M184.6 90.8h.9M188.7 93.5h.9M177.5 94.7h.9M185.9 93.0h.9M187.1 92.1h.9M187.1 90.3h.9M176.7 94.6h.9M177.9 91.0h.9M189.2 91.8h.9M183.9 89.9h.9M185.6 92.2h.9M183.7 89.8h.9M186.6 93.2h.9M190.1 93.4h.9M191.5 94.5h.9M185.6 90.7h.9M187.6 94.1h.9M180.4 90.4h.9M188.5 91.6h.9M191.3 92.9h.9M184.0 90.2h.9M188.2 89.6h.9M181.3 90.3h.9M185.2 91.8h.9M188.5 94.6h.9M185.2 94.4h.9M177.5 92.4h.9M185.2 90.3h.9M193.0 91.3h.9M186.0 90.4h.9M188.4 92.8h.9M185.0 91.8h.9M183.9 91.3h.9M180.9 94.6h.9M189.2 90.1h.9M181.8 93.2h.9M194.2 92.1h.9M184.9 92.1h.9M186.9 92.2h.9M189.9 94.2h.9M185.2 91.6h.9M196.8 89.2h.9M180.4 88.5h.9M187.3 90.7h.9M189.8 88.9h.9M185.5 91.8h.9M182.1 94.4h.9M184.6 93.3h.9M184.1 92.8h.9M184.4 92.6h.9M185.6 91.3h.9M187.6 92.2h.9M182.5 90.7h.9M187.6 94.8h.9M181.3 91.8h.9M187.6 94.3h.9M188.6 90.5h.9M186.1 94.0h.9M186.9 92.1h.9M181.7 92.8h.9M185.8 92.6h.9M191.4 94.5h.9M183.1 92.9h.9M184.9 92.7h.9M191.9 94.1h.9M186.1 91.4h.9M185.4 93.1h.9M184.2 94.4h.9M186.1 90.5h.9M193.4 87.5h.9M185.0 92.3h.9M189.6 94.4h.9M187.1 92.7h.9M189.7 92.5h.9M181.4 91.7h.9M188.4 93.5h.9M182.0 94.5h.9M187.1 89.9h.9M187.7 94.2h.9M187.9 92.0h.9M183.1 94.4h.9M186.8 92.5h.9M184.6 90.7h.9M179.2 91.9h.9M190.0 93.8h.9M185.2 90.8h.9M189.5 94.9h.9M184.6 90.4h.9M185.8 88.4h.9M187.0 91.2h.9M188.6 91.7h.9M190.6 91.9h.9M193.4 91.9h.9M186.7 90.9h.9M181.4 93.1h.9M187.3 90.8h.9M188.0 91.8h.9M184.0 92.4h.9M187.4 93.7h.9M190.5 93.1h.9M183.4 91.3h.9M187.3 90.5h.9M185.4 91.8h.9M185.6 92.8h.9M189.2 94.2h.9M182.1 94.3h.9M190.7 90.2h.9M195.1 91.5h.9M186.2 91.1h.9M183.9 94.3h.9M186.9 91.9h.9M190.2 90.9h.9M182.9 91.5h.9M183.3 93.7h.9M185.2 90.7h.9M184.3 89.1h.9M186.6 92.7h.9M188.2 92.1h.9M187.4 90.9h.9M186.1 92.8h.9M181.6 93.5h.9M186.5 92.6h.9M186.0 91.2h.9M182.9 93.5h.9M185.2 91.2h.9M183.4 94.1h.9M186.3 94.3h.9M185.9 90.5h.9M189.1 93.0h.9M183.6 92.0h.9M182.5 93.9h.9M184.5 93.3h.9M186.9 92.1h.9M187.3 92.1h.9M181.7 91.8h.9M181.7 93.8h.9M188.3 91.5h.9M188.2 92.9h.9M189.5 90.9h.9M186.1 90.8h.9M183.5 94.8h.9M178.8 90.9h.9M187.8 93.8h.9M183.2 89.0h.9M179.8 93.1h.9M190.0 94.0h.9M183.4 94.8h.9M185.3 93.5h.9M184.1 88.8h.9M184.9 92.8h.9M187.0 91.3h.9M185.2 90.6h.9M185.2 92.6h.9M178.8 93.4h.9M187.6 90.5h.9M186.3 92.5h.9M182.4 93.7h.9M192.9 93.6h.9M188.8 94.3h.9M185.5 94.2h.9M183.1 92.8h.9M188.5 94.7h.9M185.0 92.0h.9M187.7 92.4h.9M186.5 93.9h.9M183.2 94.0h.9M187.4 92.1h.9M181.5 91.4h.9M185.8 94.1h.9M178.9 93.7h.9M186.7 90.6h.9M189.1 93.2h.9M187.6 90.8h.9M182.0 94.0h.9M191.0 93.1h.9M185.3 91.7h.9M179.9 94.2h.9M185.7 94.6h.9M183.4 94.3h.9M183.4 93.5h.9M190.9 91.3h.9M189.3 92.5h.9M182.6 92.8h.9M188.3 91.3h.9M185.0 91.5h.9M183.2 92.1h.9M188.9 91.7h.9M190.5 91.9h.9M183.5 94.3h.9M191.0 91.4h.9M188.1 90.5h.9M184.5 91.9h.9M188.5 90.4h.9M184.2 91.3h.9M186.4 90.4h.9M186.8 90.0h.9M189.0 90.3h.9M190.5 91.1h.9M182.1 93.3h.9M193.2 93.5h.9M188.4 90.5h.9M179.7 93.2h.9M189.6 92.7h.9M186.0 94.8h.9M183.0 94.3h.9M189.0 91.4h.9M186.4 92.7h.9M188.1 90.9h.9M185.2 92.7h.9M186.1 92.5h.9M186.9 92.2h.9M184.2 94.2h.9M183.7 92.0h.9M182.9 90.6h.9M187.6 92.4h.9M185.5 93.3h.9M185.4 93.6h.9M192.4 93.1h.9M188.5 89.7h.9M190.7 92.9h.9M189.0 90.6h.9M183.0 91.4h.9M188.0 90.6h.9M183.5 94.1h.9M183.7 92.7h.9M182.8 89.6h.9M185.7 92.3h.9M180.9 94.1h.9M188.9 94.0h.9M184.2 90.6h.9M185.7 92.8h.9M185.4 91.5h.9M182.5 91.3h.9M185.7 91.7h.9M191.9 92.0h.9M187.6 91.7h.9M185.3 90.9h.9M184.3 90.0h.9M178.7 94.7h.9M182.3 93.2h.9M185.6 91.5h.9M188.6 91.6h.9M187.5 91.9h.9M189.4 94.1h.9M186.2 94.3h.9M185.6 89.9h.9M186.7 92.9h.9M184.7 92.2h.9M185.0 90.4h.9M192.1 91.2h.9M182.2 89.9h.9M183.0 92.4h.9M191.2 93.5h.9M183.4 90.4h.9M182.0 92.4h.9M189.1 91.7h.9M186.6 88.9h.9M189.8 92.3h.9M188.3 94.1h.9M182.4 92.6h.9M186.6 91.2h.9M188.4 92.3h.9M185.4 94.2h.9M183.3 92.7h.9M189.8 88.9h.9M187.9 92.0h.9M189.8 92.8h.9M185.7 90.4h.9M196.3 91.3h.9M184.9 91.3h.9M184.9 92.9h.9M181.3 94.3h.9M185.1 93.5h.9M178.6 91.6h.9M184.9 91.8h.9M183.6 93.0h.9M187.4 90.9h.9M179.1 93.7h.9M184.9 94.3h.9M189.1 92.3h.9M181.0 91.9h.9M183.4 94.6h.9M180.0 94.0h.9M180.6 91.5h.9M181.0 91.3h.9M184.4 93.1h.9M183.9 93.6h.9M192.1 92.8h.9M181.9 92.2h.9M185.6 91.9h.9M190.0 94.4h.9M193.0 93.4h.9M176.6 92.3h.9M188.3 91.2h.9M183.9 94.0h.9M186.5 90.6h.9M183.9 87.4h.9M186.0 90.5h.9M185.8 90.5h.9M182.7 91.6h.9M195.8 90.5h.9M181.8 91.6h.9M183.2 78.4h.9M184.2 82.0h.9M185.8 91.0h.9M189.2 82.8h.9M186.1 88.4h.9M185.1 91.9h.9M186.1 87.2h.9M188.4 87.7h.9M186.6 90.5h.9M186.6 81.7h.9M181.8 89.0h.9M189.2 90.3h.9M184.9 84.5h.9M185.1 88.6h.9M186.4 89.2h.9M188.2 79.4h.9M177.8 93.6h.9M183.9 89.5h.9M185.7 81.3h.9M182.8 84.7h.9M186.3 89.9h.9M183.3 81.4h.9M189.4 93.6h.9M183.9 93.1h.9M184.6 93.9h.9M187.0 82.0h.9M187.2 86.7h.9M187.9 90.4h.9M185.4 74.9h.9M183.9 90.1h.9M184.6 82.3h.9M186.1 74.7h.9M184.0 92.2h.9M188.3 93.2h.9M184.8 84.6h.9M185.7 85.3h.9M189.0 92.4h.9M179.9 92.9h.9M186.9 81.7h.9M186.5 89.2h.9M183.0 87.6h.9M188.1 81.5h.9M184.6 88.6h.9M186.9 91.0h.9M186.9 80.6h.9M181.9 85.8h.9M186.4 86.1h.9M187.7 89.9h.9M183.9 84.6h.9M185.3 82.5h.9M186.1 80.1h.9M184.3 79.8h.9M187.5 92.4h.9M186.9 79.9h.9M186.1 87.8h.9M185.1 93.0h.9M187.6 90.0h.9M183.7 85.8h.9M185.8 78.1h.9M190.2 82.9h.9M190.1 92.7h.9M183.1 79.5h.9M187.1 85.5h.9M184.6 82.0h.9M185.0 75.0h.9M185.5 81.3h.9M185.2 82.3h.9M184.4 91.2h.9M184.3 92.3h.9M186.7 88.0h.9M188.6 83.1h.9M188.8 87.8h.9M186.1 82.6h.9M191.9 92.9h.9M184.6 84.2h.9M185.1 86.3h.9M184.7 88.2h.9M189.6 87.5h.9M186.7 76.2h.9M187.1 79.7h.9M182.7 87.6h.9M183.2 92.5h.9M186.2 88.6h.9M184.2 92.4h.9M180.1 93.1h.9M183.1 87.7h.9M187.5 85.7h.9M189.1 90.1h.9M189.2 91.3h.9M183.2 93.3h.9M188.4 84.6h.9M186.3 87.5h.9M186.1 91.0h.9M186.7 90.3h.9M187.3 80.8h.9M184.5 79.3h.9M186.3 87.2h.9M183.3 93.4h.9M186.8 76.7h.9M189.4 89.6h.9M187.8 88.5h.9M185.7 76.3h.9M184.3 87.5h.9M187.9 85.0h.9M184.8 92.5h.9M190.3 87.9h.9M187.3 82.9h.9M185.1 83.2h.9M185.2 80.8h.9M182.6 84.5h.9M185.0 78.8h.9M184.5 87.7h.9M186.9 89.3h.9M186.0 91.6h.9M188.2 92.3h.9M186.9 85.6h.9M182.8 91.8h.9M188.9 78.0h.9M190.7 92.8h.9M187.8 93.6h.9M188.6 90.3h.9M184.2 93.4h.9M185.0 92.8h.9M192.3 92.9h.9M183.6 81.3h.9M189.1 88.0h.9M182.3 92.9h.9M186.7 80.2h.9M187.1 82.7h.9M184.0 92.7h.9M183.4 91.4h.9M185.8 73.4h.9M187.7 78.8h.9M177.6 93.5h.9M188.0 82.8h.9M185.0 84.5h.9M188.3 92.8h.9M183.2 82.9h.9M186.4 78.5h.9M187.2 80.8h.9M185.2 88.0h.9M188.3 92.4h.9M186.3 84.5h.9M186.0 87.7h.9M185.8 75.5h.9M185.8 86.3h.9M184.0 88.7h.9M185.4 91.9h.9M189.4 93.7h.9M177.9 93.6h.9M183.7 84.5h.9M185.1 91.2h.9M186.3 80.2h.9M189.1 87.6h.9M185.8 93.9h.9M186.2 84.9h.9M189.6 92.4h.9M188.0 88.5h.9M183.8 91.9h.9M190.6 93.4h.9M182.8 93.6h.9M184.9 89.2h.9M183.9 90.4h.9M182.8 84.8h.9M184.6 90.2h.9M186.8 78.3h.9M187.1 87.7h.9M187.5 83.1h.9M180.5 84.6h.9M189.8 87.3h.9M183.1 87.7h.9M188.6 91.6h.9M183.4 87.2h.9M185.9 80.6h.9M187.2 81.3h.9M186.4 76.1h.9M184.9 85.4h.9M185.3 90.8h.9M184.1 86.0h.9M183.5 91.3h.9M188.9 89.7h.9M187.7 82.5h.9M184.4 90.6h.9M186.5 75.7h.9M188.1 93.8h.9M187.9 93.1h.9M185.1 76.5h.9M187.8 89.7h.9M188.9 91.1h.9M185.8 77.8h.9M187.4 81.4h.9M186.1 88.8h.9M188.3 92.6h.9M187.7 92.6h.9M185.1 88.3h.9M186.2 76.7h.9M185.5 81.4h.9M185.4 86.9h.9M188.9 91.6h.9M186.0 85.4h.9M185.6 88.6h.9M182.2 85.7h.9M184.3 84.0h.9M183.1 93.1h.9M182.5 87.3h.9M184.0 86.6h.9M184.1 86.7h.9M181.5 94.0h.9M180.2 83.3h.9M186.3 91.6h.9M185.4 87.7h.9M187.5 85.4h.9M184.2 85.6h.9M186.8 86.5h.9M189.4 88.0h.9M188.8 90.1h.9M186.0 80.9h.9M186.7 86.4h.9M182.4 89.6h.9M188.1 88.5h.9M187.1 76.2h.9M187.5 93.0h.9M183.6 90.0h.9M186.4 79.2h.9M186.3 89.2h.9M184.8 77.8h.9M185.1 82.7h.9M182.0 85.1h.9M185.4 92.5h.9M186.2 81.1h.9M185.6 92.6h.9M185.2 82.9h.9M185.5 85.0h.9M186.1 93.0h.9M185.9 87.4h.9M186.7 88.0h.9M184.6 93.1h.9M179.0 92.4h.9M188.5 89.4h.9M186.9 88.2h.9M186.2 85.4h.9M187.3 92.3h.9M184.9 89.5h.9M189.9 92.3h.9M185.2 79.6h.9M184.1 92.8h.9M189.2 91.4h.9M185.1 87.0h.9M182.8 83.6h.9M193.6 93.6h.9M189.7 93.9h.9M184.0 89.4h.9M178.5 92.8h.9M189.2 91.3h.9M184.0 82.9h.9M187.9 80.1h.9M186.3 82.3h.9M187.6 92.8h.9M188.0 94.0h.9M182.5 90.6h.9M182.4 89.8h.9M186.6 79.1h.9M185.0 82.0h.9M188.4 89.4h.9M186.3 82.0h.9M192.9 91.1h.9M186.4 93.1h.9M184.3 86.7h.9M186.9 91.8h.9M184.2 86.6h.9M188.2 88.3h.9M186.2 90.6h.9M182.2 89.5h.9M187.2 87.3h.9M189.2 84.1h.9M188.8 91.0h.9M186.6 85.7h.9M180.1 89.8h.9M187.0 91.5h.9M185.8 93.3h.9M186.7 86.0h.9M183.9 78.2h.9M190.0 88.2h.9M187.9 84.0h.9M185.4 84.7h.9M191.5 89.1h.9M185.9 83.2h.9M183.8 91.4h.9M186.4 88.5h.9M180.7 93.8h.9M181.8 89.9h.9M186.9 87.9h.9M184.7 82.9h.9M191.8 91.6h.9M184.2 93.6h.9M183.4 85.0h.9M181.4 90.0h.9M179.6 90.6h.9M185.9 84.8h.9M187.0 91.1h.9M185.4 85.6h.9M186.5 86.8h.9M185.0 92.7h.9M191.4 90.8h.9M184.1 89.4h.9M184.6 89.6h.9M189.4 88.2h.9M185.4 84.3h.9M183.6 92.8h.9M184.0 89.2h.9M187.2 79.8h.9M191.0 86.2h.9M186.9 91.4h.9M188.1 81.9h.9M183.2 91.4h.9M184.6 84.8h.9M186.7 81.3h.9M189.2 83.4h.9M184.9 78.4h.9M188.8 93.8h.9M180.8 84.9h.9M191.0 90.3h.9M184.5 86.2h.9M186.7 79.8h.9M185.2 86.4h.9M185.0 86.5h.9M184.8 80.3h.9M184.3 89.5h.9M183.2 91.1h.9M186.7 77.6h.9M183.6 81.3h.9M184.1 79.4h.9M189.1 93.7h.9M184.6 87.5h.9M184.6 89.6h.9M188.7 90.3h.9M182.8 86.6h.9M186.7 78.8h.9M185.6 86.4h.9M187.6 87.3h.9M182.3 90.0h.9M185.4 89.5h.9M187.7 85.5h.9M185.9 74.2h.9M185.0 88.0h.9M183.8 85.1h.9M186.2 84.0h.9M192.3 92.2h.9M183.9 82.8h.9M185.4 79.2h.9M176.2 90.4h.9M183.8 92.8h.9M185.9 92.8h.9M187.7 91.5h.9M185.7 78.5h.9M184.2 90.0h.9M187.8 76.6h.9M188.9 87.1h.9M190.4 86.0h.9M185.4 81.6h.9M183.3 90.0h.9M187.6 83.5h.9M185.5 81.6h.9M187.3 80.7h.9M182.7 92.4h.9M189.1 91.5h.9M190.3 89.6h.9M193.7 93.1h.9M182.8 91.9h.9M191.1 89.1h.9M185.0 75.6h.9M189.0 87.6h.9M187.8 93.3h.9M179.0 93.8h.9M186.1 84.1h.9M185.9 91.4h.9M184.7 77.9h.9M186.0 77.3h.9M186.5 89.0h.9M184.7 82.0h.9M185.4 91.0h.9M185.9 83.3h.9M185.5 93.3h.9M188.1 86.0h.9M187.3 92.5h.9M183.1 89.5h.9M186.8 75.4h.9M187.2 89.0h.9M188.8 79.5h.9M186.9 80.7h.9M186.4 76.7h.9M186.4 82.9h.9M184.7 88.1h.9M184.1 87.1h.9M185.1 83.8h.9M185.3 88.8h.9M186.3 73.1h.9M185.1 87.7h.9M184.7 80.7h.9M186.8 89.1h.9M191.1 91.1h.9M180.2 86.1h.9M184.6 87.7h.9M187.8 87.0h.9M191.9 93.7h.9M187.2 83.7h.9M185.5 88.4h.9M190.3 86.8h.9M185.8 83.4h.9M186.0 78.2h.9M189.2 92.8h.9M187.6 89.5h.9M186.6 75.9h.9M184.9 93.5h.9M183.1 85.7h.9M185.1 77.9h.9M186.0 87.0h.9M180.2 90.5h.9M188.2 89.7h.9M188.0 87.0h.9M186.0 76.1h.9M184.7 87.9h.9M188.6 82.5h.9M192.4 88.8h.9M182.7 90.4h.9M183.1 92.4h.9M185.4 77.0h.9M187.4 88.4h.9M187.5 85.0h.9M185.3 82.6h.9M185.3 92.9h.9M183.6 84.6h.9M189.1 90.4h.9M188.4 81.6h.9M192.8 91.5h.9M189.5 92.2h.9M187.0 75.3h.9M192.5 91.6h.9M186.9 83.0h.9M183.6 82.1h.9M184.5 89.8h.9M187.0 92.1h.9M186.1 90.2h.9M189.3 89.7h.9M185.9 84.6h.9M190.6 93.4h.9M186.0 78.1h.9M190.4 93.8h.9M191.5 93.9h.9M186.1 79.4h.9M187.4 81.2h.9M189.4 93.9h.9M180.6 93.6h.9M191.0 89.8h.9M186.8 77.4h.9M184.2 93.7h.9M187.4 79.2h.9M184.1 87.1h.9M183.2 80.6h.9M186.4 87.8h.9M177.9 93.8h.9M185.3 79.3h.9M180.5 90.5h.9M183.3 83.9h.9M186.8 86.2h.9M184.3 84.6h.9M183.6 92.0h.9M185.3 74.7h.9M183.9 90.9h.9M186.9 84.9h.9M187.4 79.4h.9M180.3 93.6h.9M187.7 89.6h.9M189.4 93.9h.9M185.8 73.3h.9M186.8 80.3h.9M185.4 82.7h.9M185.1 92.3h.9M186.5 85.7h.9M187.1 87.3h.9M184.9 84.2h.9M186.0 84.3h.9M188.8 86.9h.9M188.1 91.9h.9M188.9 88.3h.9M187.2 77.7h.9M187.9 79.5h.9M186.1 80.4h.9M189.1 82.8h.9M188.2 79.6h.9M187.2 89.6h.9M183.0 88.2h.9M187.4 83.9h.9M184.4 77.5h.9M188.3 90.0h.9M187.5 80.6h.9M183.6 86.6h.9M183.0 83.7h.9M183.8 76.7h.9M187.9 87.7h.9M186.4 88.8h.9M180.7 93.3h.9M185.5 93.4h.9M183.3 79.5h.9M185.4 82.5h.9M181.4 92.2h.9M185.0 91.0h.9M187.7 89.3h.9M184.9 78.6h.9M186.1 85.1h.9M183.1 89.3h.9M184.9 76.9h.9M183.8 92.6h.9M179.7 88.6h.9M189.9 89.2h.9M182.7 89.0h.9M187.5 76.0h.9M186.8 92.0h.9M186.6 84.9h.9M189.7 91.9h.9M192.3 42.6h.9M185.8 72.8h.9M190.2 33.9h.9M191.9 67.0h.9M181.5 88.0h.9M186.0 94.5h.9M186.0 37.7h.9M195.4 27.9h.9M184.0 52.5h.9M191.4 50.4h.9M192.2 29.1h.9M190.9 38.3h.9M191.5 51.8h.9M187.7 29.8h.9M183.2 64.0h.9M190.0 27.7h.9M187.7 48.1h.9M196.3 54.8h.9M183.6 87.5h.9M193.8 40.4h.9M181.2 82.6h.9M182.9 79.0h.9M195.2 43.0h.9M189.1 71.3h.9M197.5 47.8h.9M194.2 46.2h.9M184.4 81.3h.9M189.5 72.7h.9M191.3 68.2h.9M184.6 85.2h.9M185.5 75.0h.9M191.8 32.1h.9M187.9 39.2h.9M188.7 73.4h.9M189.3 56.2h.9M189.1 71.7h.9M185.7 70.5h.9M191.6 36.5h.9M189.0 82.9h.9M192.8 47.9h.9M198.6 49.9h.9M193.0 50.5h.9M188.9 50.4h.9M186.1 74.3h.9M189.6 77.7h.9M186.0 76.2h.9M198.4 35.3h.9M182.0 80.1h.9M189.7 66.4h.9M189.4 53.9h.9M182.0 72.7h.9M192.7 38.1h.9M186.4 70.4h.9M191.3 41.5h.9M191.4 57.3h.9M189.0 56.1h.9M181.4 76.5h.9M184.3 71.7h.9M188.1 87.7h.9M188.7 31.6h.9M191.1 41.1h.9M187.5 50.7h.9M187.5 74.1h.9M186.4 67.4h.9M190.7 43.0h.9M193.0 40.0h.9M187.9 76.6h.9M186.6 75.4h.9M195.5 33.5h.9M190.9 84.3h.9M184.6 68.6h.9M187.9 56.6h.9M183.4 74.5h.9M185.0 89.2h.9M182.6 71.7h.9M188.8 73.7h.9M193.9 40.6h.9M188.6 36.6h.9M183.2 69.7h.9M188.6 33.3h.9M190.9 54.3h.9M186.3 81.9h.9M188.9 81.5h.9M187.5 39.6h.9M188.6 72.0h.9M187.3 56.8h.9M189.6 26.5h.9M189.5 37.7h.9M187.5 60.5h.9M188.3 43.5h.9M190.9 72.7h.9M189.7 36.0h.9M179.5 77.1h.9M187.3 37.1h.9M191.4 79.4h.9M184.1 89.9h.9M188.2 38.9h.9M192.0 32.6h.9M184.4 81.6h.9M189.3 26.8h.9M186.6 83.3h.9M191.6 42.6h.9M182.7 79.0h.9M188.6 50.5h.9M182.0 79.5h.9M186.7 61.6h.9M184.5 76.2h.9M187.7 42.6h.9M189.2 73.9h.9M187.9 62.5h.9M188.0 30.2h.9M183.0 78.9h.9M185.0 76.3h.9M184.5 51.4h.9M187.5 75.9h.9M189.2 40.3h.9M188.7 28.9h.9M186.7 48.3h.9M193.6 41.5h.9M191.2 65.7h.9M189.0 34.1h.9M193.1 31.0h.9M184.5 80.3h.9M186.6 64.5h.9M186.0 66.7h.9M192.2 55.7h.9M194.9 26.7h.9M188.1 88.1h.9M190.7 37.1h.9M187.3 40.1h.9M181.2 78.8h.9M191.4 43.3h.9M190.0 39.3h.9M188.3 63.6h.9M182.9 83.8h.9M187.1 87.9h.9M189.8 60.1h.9M183.5 29.8h.9M193.6 53.1h.9M189.2 64.5h.9M189.7 36.7h.9M180.8 72.6h.9M190.2 72.5h.9M188.0 79.4h.9M193.0 32.6h.9M185.9 81.2h.9M188.1 66.5h.9M185.8 76.2h.9M186.8 77.9h.9M183.6 86.9h.9M191.7 55.6h.9M184.0 70.8h.9M188.6 68.7h.9M186.0 81.7h.9M183.3 80.3h.9M187.3 53.1h.9M191.3 38.8h.9M190.7 76.1h.9M187.0 66.4h.9M188.4 74.7h.9M193.0 33.6h.9M187.8 72.5h.9M192.7 49.6h.9M194.0 60.1h.9M191.7 28.5h.9M191.6 85.9h.9M194.9 49.3h.9M188.7 72.8h.9M184.2 86.7h.9M230.5 90.8h.9M218.0 91.6h.9M229.8 88.3h.9M224.3 92.1h.9M215.8 91.0h.9M219.4 89.3h.9M228.3 93.0h.9M231.7 90.3h.9M228.8 88.7h.9M219.9 92.1h.9M224.7 89.8h.9M218.2 91.0h.9M236.4 88.3h.9M221.9 93.0h.9M218.0 90.4h.9M226.8 93.0h.9M226.2 94.0h.9M226.4 91.1h.9M228.5 91.8h.9M219.8 89.9h.9M225.5 91.8h.9M221.0 90.2h.9M223.2 91.8h.9M224.6 92.2h.9M228.2 89.9h.9M225.2 89.5h.9M227.0 92.5h.9M222.1 88.7h.9M228.8 90.9h.9M226.4 92.0h.9M228.2 92.7h.9M224.5 88.0h.9M224.3 90.8h.9M224.7 91.9h.9M225.4 93.2h.9M223.7 91.3h.9M224.9 94.4h.9M222.2 89.8h.9M224.8 92.4h.9M226.6 91.0h.9M220.0 88.2h.9M225.5 90.9h.9M234.4 91.9h.9M228.4 92.7h.9M222.5 89.5h.9M224.9 93.5h.9M230.9 90.4h.9M220.9 92.7h.9M231.4 89.7h.9M233.7 90.1h.9M229.9 91.0h.9M225.0 90.4h.9M229.6 92.2h.9M230.1 90.9h.9M222.7 94.5h.9M234.2 91.0h.9M221.4 93.5h.9M227.1 91.4h.9M230.3 91.8h.9M227.0 94.3h.9M218.0 92.3h.9M222.1 91.4h.9M225.7 91.7h.9M215.7 92.3h.9M237.0 90.7h.9M230.6 92.2h.9M227.8 90.6h.9M229.4 91.7h.9M233.0 92.5h.9M223.3 86.9h.9M233.3 92.0h.9M227.3 90.4h.9M237.8 93.3h.9M226.9 90.8h.9M229.1 93.3h.9M228.8 92.7h.9M227.7 91.8h.9M220.8 91.5h.9M226.7 91.2h.9M225.4 91.8h.9M223.9 91.0h.9M220.6 94.8h.9M222.5 89.5h.9M224.1 90.7h.9M221.6 87.7h.9M233.9 92.8h.9M224.8 92.1h.9M221.5 88.9h.9M228.0 92.2h.9M223.4 91.3h.9M212.5 91.1h.9M231.3 91.6h.9M227.3 92.2h.9M217.0 89.4h.9M220.7 91.7h.9M223.6 88.5h.9M230.6 91.0h.9M231.0 94.3h.9M219.0 89.4h.9M231.4 93.4h.9M228.3 91.8h.9M229.7 92.3h.9M220.7 92.4h.9M231.0 90.7h.9M222.3 90.6h.9M223.8 92.1h.9M230.0 91.3h.9M225.1 88.7h.9M224.6 89.8h.9M224.0 91.8h.9M222.5 90.5h.9M221.3 90.9h.9M225.2 92.8h.9M217.6 92.7h.9M229.4 90.5h.9M223.4 91.6h.9M228.9 91.1h.9M225.8 91.3h.9M221.5 91.7h.9M229.1 91.4h.9M221.3 91.3h.9M226.0 91.8h.9M224.6 92.5h.9M231.4 92.5h.9M227.6 93.1h.9M226.3 91.1h.9M220.0 91.3h.9M232.0 89.9h.9M230.0 89.4h.9M227.9 94.0h.9M226.7 89.6h.9M227.8 91.1h.9M230.1 90.5h.9M218.6 90.6h.9M229.2 92.8h.9M227.7 91.3h.9M229.6 91.0h.9M224.4 91.6h.9M231.5 90.6h.9M228.8 90.4h.9M223.1 91.6h.9M220.4 90.0h.9M221.0 90.4h.9M222.3 94.7h.9M229.3 91.4h.9M220.4 87.8h.9M228.5 90.4h.9M231.3 90.7h.9M220.5 90.4h.9M219.5 89.2h.9M229.7 90.5h.9M229.6 90.5h.9M225.4 90.5h.9M224.0 90.3h.9M233.3 91.2h.9M217.6 93.8h.9M232.2 93.0h.9M226.0 91.1h.9M224.3 91.5h.9M228.6 91.3h.9M222.7 89.9h.9M234.1 93.8h.9M220.8 90.4h.9M226.3 92.2h.9M225.9 91.7h.9M228.1 93.0h.9M220.5 92.9h.9M228.5 92.1h.9M219.6 91.0h.9M225.3 92.2h.9M229.6 92.3h.9M220.5 93.1h.9M226.8 92.7h.9M226.4 90.3h.9M238.5 92.3h.9M229.9 90.6h.9M225.4 92.9h.9M228.5 93.9h.9M231.9 89.7h.9M219.4 93.0h.9M229.2 90.9h.9M225.1 90.5h.9M234.7 91.1h.9M220.1 92.6h.9M226.1 91.8h.9M224.7 91.2h.9M217.8 92.1h.9M223.3 90.8h.9M227.9 93.2h.9M216.6 91.1h.9M228.9 92.8h.9M222.3 91.8h.9M228.3 92.7h.9M223.6 91.0h.9M224.1 93.0h.9M231.4 90.7h.9M225.8 91.6h.9M222.3 91.1h.9M230.4 92.4h.9M223.3 90.4h.9M225.9 89.2h.9M227.9 91.5h.9M220.3 91.0h.9M223.4 90.9h.9M222.4 93.3h.9M222.0 92.4h.9M227.4 93.4h.9M226.2 91.3h.9M226.7 88.6h.9M237.5 91.0h.9M225.0 89.7h.9M225.8 93.6h.9M223.0 91.9h.9M231.2 92.7h.9M224.6 88.8h.9M228.3 92.1h.9M224.9 90.7h.9M234.5 89.0h.9M224.1 90.4h.9M219.3 90.3h.9M222.8 93.1h.9M218.4 89.3h.9M227.6 89.1h.9M217.2 90.4h.9M220.9 89.9h.9M225.7 92.0h.9M223.4 90.9h.9M229.7 91.1h.9M229.8 90.5h.9M228.7 93.1h.9M224.9 90.8h.9M225.7 92.0h.9M220.9 91.4h.9M223.7 93.4h.9M218.5 92.2h.9M225.0 90.3h.9M227.0 91.0h.9M226.6 91.7h.9M231.9 90.7h.9M234.1 87.5h.9M234.8 93.0h.9M233.6 91.6h.9M227.7 89.9h.9M232.6 89.7h.9M222.8 91.3h.9M227.5 91.8h.9M221.1 90.8h.9M228.7 93.0h.9M229.9 91.9h.9M225.2 90.5h.9M224.1 91.2h.9M228.8 90.6h.9M235.9 89.9h.9M230.2 91.0h.9M225.8 90.8h.9M233.5 90.9h.9M228.9 91.5h.9M229.9 92.2h.9M234.0 90.3h.9M222.6 93.7h.9M232.3 91.4h.9M225.1 91.7h.9M232.4 90.2h.9M233.1 91.2h.9M224.8 90.8h.9M216.8 91.8h.9M220.4 90.5h.9M222.3 91.7h.9M229.7 91.4h.9M227.3 91.9h.9M233.8 92.1h.9M233.6 91.2h.9M228.0 90.4h.9M229.1 90.1h.9M228.6 90.4h.9M224.8 93.0h.9M227.1 92.4h.9M225.3 88.7h.9M233.2 91.1h.9M223.4 92.7h.9M221.2 90.3h.9M231.7 90.3h.9M231.6 90.9h.9M225.4 91.4h.9M224.1 92.8h.9M231.4 91.4h.9M229.2 92.1h.9M234.1 89.1h.9M231.1 92.6h.9M225.0 91.3h.9M224.8 93.1h.9M221.2 92.2h.9M232.3 92.1h.9M224.2 90.7h.9M216.7 89.9h.9M231.4 90.0h.9M218.9 91.0h.9M219.6 92.0h.9M222.4 92.7h.9M225.9 89.3h.9M222.9 90.4h.9M222.6 93.1h.9M221.8 91.8h.9M223.7 92.2h.9M219.9 89.1h.9M228.8 93.3h.9M220.1 90.9h.9M224.1 90.0h.9M230.9 91.4h.9M220.1 91.0h.9M232.5 90.3h.9M224.1 90.2h.9M227.2 90.5h.9M230.5 90.2h.9M219.7 92.0h.9M211.9 90.0h.9M227.7 91.7h.9M223.8 90.7h.9M222.7 91.1h.9M224.3 92.1h.9M226.5 92.1h.9M233.9 90.9h.9M225.1 91.9h.9M236.0 90.8h.9M234.2 93.0h.9M213.9 89.9h.9M221.9 91.9h.9M232.5 91.4h.9M227.2 94.4h.9M228.1 94.4h.9M222.3 93.7h.9M224.1 87.9h.9M222.6 90.7h.9M226.2 92.4h.9M229.6 92.1h.9M223.0 93.8h.9M231.9 91.4h.9M223.8 91.3h.9M225.4 90.3h.9M226.4 90.4h.9M229.4 90.4h.9M228.7 91.8h.9M227.2 92.1h.9M221.7 95.0h.9M223.3 92.4h.9M226.5 90.7h.9M234.4 92.9h.9M225.2 92.1h.9M229.6 93.6h.9M231.1 91.1h.9M225.3 89.7h.9M227.6 92.5h.9M224.6 92.3h.9M227.0 90.7h.9M220.8 92.9h.9M238.1 92.1h.9M221.5 89.9h.9M227.6 92.2h.9M233.4 87.9h.9M234.9 91.6h.9M227.1 91.9h.9M224.8 90.9h.9M231.3 88.9h.9M225.9 92.1h.9M218.9 91.1h.9M233.5 91.9h.9M229.7 92.3h.9M227.5 91.8h.9M222.7 91.0h.9M234.9 89.6h.9M225.7 89.5h.9M224.0 90.2h.9M220.8 91.7h.9M222.1 92.1h.9M234.8 87.7h.9M225.7 88.3h.9M225.9 91.9h.9M227.4 93.0h.9M227.2 88.9h.9M233.4 90.0h.9M226.0 91.8h.9M222.4 91.4h.9M233.3 88.9h.9M218.8 90.7h.9M225.7 89.5h.9M215.9 92.6h.9M228.3 89.4h.9M229.1 91.2h.9M227.2 89.4h.9M225.5 92.0h.9M218.4 89.8h.9M230.9 94.2h.9M229.5 91.2h.9M221.5 90.7h.9M225.3 91.9h.9M225.3 94.9h.9M232.6 88.2h.9M221.1 91.3h.9M231.0 91.9h.9M213.8 89.0h.9M232.7 92.2h.9M238.3 92.5h.9M228.6 93.5h.9M224.4 90.5h.9M221.8 91.7h.9M228.5 92.7h.9M233.1 92.2h.9M232.2 91.0h.9M222.0 92.4h.9M231.2 93.2h.9M225.7 90.6h.9M224.8 91.8h.9M226.3 91.1h.9M227.7 90.9h.9M228.0 90.5h.9M219.4 90.9h.9M235.2 90.2h.9M230.7 93.2h.9M224.0 91.7h.9M216.0 92.1h.9M233.6 91.6h.9M217.3 90.5h.9M223.1 91.5h.9M227.8 90.7h.9M225.1 90.1h.9M229.1 91.6h.9M228.1 90.6h.9M228.8 90.9h.9M227.9 91.1h.9M223.4 89.7h.9M217.9 89.4h.9M218.9 90.1h.9M225.5 89.6h.9M228.4 94.3h.9M213.6 89.6h.9M232.2 89.6h.9M226.0 90.4h.9M230.0 89.2h.9M227.9 91.6h.9M229.1 91.9h.9M227.2 88.7h.9M225.0 89.9h.9M228.9 91.0h.9M227.2 92.9h.9M226.0 93.7h.9M230.3 89.2h.9M223.8 93.1h.9M224.2 93.0h.9M223.9 91.1h.9M231.2 89.0h.9M226.8 90.7h.9M227.3 93.8h.9M228.8 89.4h.9M230.9 90.7h.9M227.3 93.0h.9M225.1 92.7h.9M227.3 90.0h.9M225.1 89.3h.9M231.9 91.5h.9M231.0 89.7h.9M230.4 89.6h.9M227.8 91.3h.9M223.8 91.8h.9M226.7 90.0h.9M223.1 89.4h.9M232.8 91.5h.9M224.8 92.3h.9M222.5 89.6h.9M228.1 93.6h.9M227.9 91.5h.9M234.5 89.1h.9M240.6 89.7h.9M226.2 89.4h.9M220.9 91.0h.9M237.8 89.9h.9M223.7 91.7h.9M221.8 90.9h.9M230.3 88.1h.9M225.1 90.9h.9M224.1 91.1h.9M218.2 90.7h.9M224.1 89.8h.9M232.3 94.2h.9M230.2 90.0h.9M233.0 92.0h.9M222.7 92.2h.9M223.8 92.1h.9M230.7 93.0h.9M221.6 91.1h.9M226.5 89.5h.9M228.4 92.3h.9M220.1 90.5h.9M221.4 89.5h.9M221.6 93.3h.9M223.4 90.7h.9M231.1 92.8h.9M233.0 88.3h.9M230.0 88.7h.9M223.6 90.7h.9M223.9 94.2h.9M225.7 93.0h.9M225.7 91.2h.9M228.9 91.9h.9M228.8 88.8h.9M228.8 91.8h.9M229.3 91.2h.9M228.4 89.4h.9M231.7 89.5h.9M233.0 92.8h.9M226.2 90.9h.9M230.1 90.9h.9M221.0 91.7h.9M220.9 90.6h.9M234.8 92.5h.9M224.4 91.2h.9M223.5 91.3h.9M219.8 92.3h.9M226.6 90.4h.9M224.5 90.6h.9M223.8 90.6h.9M232.5 92.3h.9M228.4 91.8h.9M221.3 87.8h.9M233.4 92.3h.9M227.5 91.7h.9M227.4 91.3h.9M225.3 88.1h.9M229.1 91.4h.9M231.0 91.7h.9M225.2 92.2h.9M227.4 90.7h.9M224.8 90.7h.9M225.1 90.7h.9M226.0 92.9h.9M217.4 86.6h.9M224.3 91.1h.9M223.1 89.3h.9M222.6 90.6h.9M227.2 90.8h.9M221.0 90.8h.9M233.5 90.0h.9M226.8 92.8h.9M222.8 90.5h.9M239.8 93.1h.9M224.1 91.5h.9M227.0 91.5h.9M228.6 90.9h.9M216.3 89.9h.9M227.2 89.3h.9M225.0 93.5h.9M227.6 90.3h.9M227.1 92.8h.9M218.6 89.5h.9M223.5 90.7h.9M226.1 90.5h.9M227.0 91.4h.9M221.1 90.4h.9M220.8 91.7h.9M227.7 92.3h.9M222.5 90.5h.9M216.3 91.3h.9M219.1 91.8h.9M231.5 91.9h.9M229.4 91.6h.9M228.2 92.7h.9M232.3 94.2h.9M225.3 92.5h.9M230.5 91.9h.9M227.7 89.5h.9M231.5 90.0h.9M223.5 90.1h.9M229.1 89.9h.9M228.6 92.1h.9M227.0 90.8h.9M229.2 93.2h.9M224.4 89.8h.9M223.7 90.0h.9M225.4 91.1h.9M215.9 93.4h.9M222.8 90.7h.9M217.5 88.4h.9M221.8 91.6h.9M230.4 88.7h.9M227.5 93.5h.9M225.2 92.6h.9M227.9 90.0h.9M231.1 90.4h.9M228.1 90.7h.9M225.5 91.5h.9M232.6 88.8h.9M221.4 91.4h.9M231.0 91.0h.9M225.6 92.1h.9M233.7 90.0h.9M219.2 90.9h.9M230.0 89.4h.9M231.7 92.7h.9M230.1 90.1h.9M220.6 92.3h.9M227.7 92.3h.9M220.3 87.0h.9M231.6 92.8h.9M225.2 91.3h.9M228.6 92.4h.9M225.6 90.6h.9M222.0 92.8h.9M227.0 86.3h.9M228.1 90.5h.9M220.7 90.6h.9M220.6 90.6h.9M224.0 92.0h.9M221.9 88.7h.9M223.7 89.3h.9M229.9 91.0h.9M218.8 90.0h.9M226.4 91.2h.9M218.0 91.1h.9M227.9 92.7h.9M231.5 91.1h.9M220.5 90.8h.9M229.5 90.0h.9M232.3 89.9h.9M221.3 92.5h.9M226.0 91.8h.9M225.1 91.3h.9M223.8 94.1h.9M229.5 91.1h.9M228.7 92.5h.9M224.1 91.6h.9M227.4 90.5h.9M222.9 91.0h.9M225.1 90.7h.9M217.6 91.4h.9M229.5 91.4h.9M234.4 92.6h.9M224.9 90.3h.9M228.8 90.8h.9M219.1 91.5h.9M225.1 91.0h.9M229.3 91.6h.9M235.8 90.2h.9M226.1 91.7h.9M224.5 90.6h.9M234.5 89.2h.9M228.1 88.8h.9M228.0 88.5h.9M221.1 92.9h.9M233.6 91.5h.9M214.0 92.8h.9M227.6 89.7h.9M224.9 89.4h.9M226.1 91.2h.9M227.1 92.4h.9M223.5 88.1h.9M221.1 89.5h.9M224.8 90.7h.9M226.3 93.3h.9M226.6 89.7h.9M225.1 90.0h.9M225.4 92.1h.9M221.3 92.3h.9M234.7 93.5h.9M233.9 91.4h.9M220.3 94.2h.9M226.3 91.6h.9M224.9 89.9h.9M229.3 89.3h.9M220.2 92.1h.9M224.8 90.1h.9M228.8 93.4h.9M225.2 91.1h.9M229.1 92.7h.9M231.2 92.3h.9M223.5 92.1h.9M226.5 88.8h.9M232.2 92.1h.9M232.8 91.2h.9M229.8 91.2h.9M227.2 92.6h.9M226.8 92.2h.9M226.3 93.1h.9M229.5 88.9h.9M234.1 91.9h.9M224.2 90.4h.9M235.6 91.4h.9M228.8 92.2h.9M223.8 93.8h.9M236.1 90.2h.9M231.7 88.9h.9M225.0 91.4h.9M226.7 92.1h.9M228.3 91.8h.9M225.9 91.7h.9M224.0 94.1h.9M226.8 93.1h.9M227.0 91.1h.9M225.7 89.4h.9M236.0 91.9h.9M227.1 90.6h.9M232.4 90.8h.9M224.4 90.5h.9M233.6 91.7h.9M225.8 90.4h.9M232.4 91.7h.9M225.0 92.6h.9M230.5 89.9h.9M231.8 92.9h.9M225.4 89.4h.9M231.5 90.8h.9M225.6 90.9h.9M225.3 92.5h.9M221.5 92.1h.9M231.8 92.8h.9M229.8 91.7h.9M225.6 91.1h.9M222.5 93.7h.9M226.0 89.9h.9M230.3 93.5h.9M227.8 90.8h.9M221.5 92.2h.9M225.4 90.4h.9M229.3 89.5h.9M229.9 87.8h.9M223.7 89.3h.9M225.4 92.4h.9M220.6 93.3h.9M223.4 90.6h.9M231.0 90.3h.9M233.1 91.0h.9M226.1 89.9h.9M231.8 91.2h.9M224.3 89.9h.9M223.7 91.2h.9M223.3 92.4h.9M226.4 90.4h.9M228.6 93.3h.9M217.1 91.8h.9M231.4 91.5h.9M230.3 89.1h.9M223.2 92.7h.9M226.1 91.4h.9M229.4 91.8h.9M228.6 90.6h.9M225.2 93.2h.9M224.3 89.3h.9M225.0 92.6h.9M234.7 91.5h.9M223.8 92.2h.9M227.9 93.0h.9M228.9 92.4h.9M228.9 91.9h.9M222.5 91.1h.9M233.8 93.2h.9M230.9 91.9h.9M226.1 91.8h.9M225.1 92.9h.9M225.2 90.2h.9M219.3 93.5h.9M223.2 90.1h.9M228.4 93.9h.9M229.6 90.8h.9M229.1 90.1h.9M225.5 91.3h.9M226.7 92.4h.9M229.0 94.0h.9M230.3 90.9h.9M227.8 90.1h.9M223.9 90.8h.9M231.2 90.3h.9M219.6 89.9h.9M221.2 91.0h.9M225.3 89.6h.9M223.1 90.7h.9M228.4 92.2h.9M232.5 90.9h.9M229.4 91.4h.9M221.7 90.4h.9M236.4 91.1h.9M234.0 92.5h.9M234.1 91.0h.9M230.8 90.9h.9M221.7 89.6h.9M228.6 89.0h.9M228.3 90.1h.9M228.2 89.4h.9M230.4 91.0h.9M219.8 89.3h.9M226.9 89.0h.9M228.1 92.0h.9M223.7 93.3h.9M233.1 91.7h.9M228.7 92.0h.9M225.5 93.2h.9M223.1 82.1h.9M226.3 89.0h.9M231.0 85.4h.9M234.3 86.1h.9M229.9 89.7h.9M227.3 90.7h.9M223.4 92.8h.9M229.1 87.0h.9M241.4 88.0h.9M216.8 91.4h.9M235.2 86.6h.9M220.5 90.7h.9M226.6 85.7h.9M223.4 88.2h.9M231.9 91.7h.9M222.6 91.6h.9M217.5 89.7h.9M225.4 89.0h.9M223.7 86.3h.9M227.9 90.7h.9M213.4 88.1h.9M223.9 85.5h.9M218.4 89.2h.9M229.5 89.5h.9M214.7 84.4h.9M222.7 87.0h.9M236.5 87.1h.9M227.0 90.4h.9M235.9 88.9h.9M228.2 92.6h.9M223.9 83.8h.9M221.9 87.3h.9M233.9 88.8h.9M233.2 88.2h.9M226.5 86.6h.9M219.1 89.2h.9M228.4 89.4h.9M223.2 87.0h.9M228.4 89.4h.9M237.8 85.9h.9M232.0 90.1h.9M224.7 88.3h.9M225.9 91.6h.9M241.0 88.8h.9M224.8 90.3h.9M229.1 87.6h.9M230.6 90.1h.9M224.0 90.0h.9M213.2 85.0h.9M224.5 88.4h.9M217.8 91.5h.9M224.1 88.4h.9M226.0 89.8h.9M222.9 89.8h.9M221.4 84.5h.9M229.2 88.4h.9M231.4 83.4h.9M226.9 86.5h.9M225.2 87.1h.9M224.1 86.4h.9M232.2 83.9h.9M216.6 88.8h.9M237.9 86.2h.9M221.0 85.2h.9M220.3 91.0h.9M230.2 90.1h.9M228.3 88.6h.9M222.9 85.7h.9M229.9 93.9h.9M224.1 91.0h.9M222.2 88.1h.9M236.1 87.8h.9M229.9 86.7h.9M237.2 85.1h.9M229.5 87.4h.9M227.4 88.9h.9M233.9 90.1h.9M232.4 88.9h.9M220.1 91.2h.9M235.2 89.1h.9M230.7 79.8h.9M222.1 83.5h.9M224.9 86.3h.9M230.3 80.4h.9M225.3 80.8h.9M223.8 79.4h.9M233.8 79.6h.9M234.8 80.2h.9M229.3 77.7h.9M226.5 79.2h.9M222.3 86.4h.9M229.9 80.3h.9M223.4 80.6h.9M223.6 77.6h.9M226.9 87.1h.9M220.9 82.2h.9M225.5 71.7h.9M222.2 80.1h.9M227.9 78.2h.9M234.5 82.1h.9M225.2 75.5h.9M228.3 78.5h.9M231.6 77.3h.9M232.3 79.1h.9M228.4 79.7h.9M230.1 84.0h.9M225.5 77.8h.9M235.0 83.4h.9M235.0 83.4h.9M228.2 85.5h.9M225.1 79.2h.9M226.1 82.6h.9M224.3 80.0h.9M224.4 79.8h.9M232.0 83.9h.9M226.8 88.3h.9M224.9 81.9h.9M225.8 73.8h.9M223.0 84.3h.9M221.2 89.4h.9M227.2 81.3h.9M232.5 80.6h.9M225.2 78.6h.9M224.0 82.2h.9M225.8 82.1h.9M195.0 86.0h.9M219.2 89.7h.9M204.5 93.7h.9M197.3 91.7h.9M198.0 91.3h.9M199.4 90.0h.9M208.3 84.6h.9M206.9 82.9h.9M211.8 92.4h.9M204.1 91.3h.9M221.4 87.2h.9M192.5 89.6h.9M202.1 84.3h.9M211.3 92.8h.9M200.9 86.0h.9M208.1 75.1h.9M186.6 89.7h.9M203.8 88.3h.9M198.7 89.1h.9M212.4 85.0h.9M209.0 87.3h.9M204.1 88.6h.9M215.5 90.5h.9M209.9 88.7h.9M190.6 92.5h.9M205.1 88.5h.9M201.7 80.6h.9M215.9 79.2h.9M208.9 82.4h.9M203.9 85.5h.9M200.9 84.3h.9M201.9 91.7h.9M216.1 92.4h.9M205.1 87.3h.9M203.5 87.9h.9M200.9 87.2h.9M210.9 86.9h.9M199.6 87.4h.9M205.7 87.6h.9M203.4 91.4h.9M204.8 83.2h.9M209.0 84.6h.9M210.4 91.9h.9M208.4 89.5h.9M195.9 87.1h.9M206.0 91.1h.9M197.5 87.3h.9M194.6 88.9h.9M205.7 88.6h.9M216.4 91.5h.9M203.8 85.2h.9M202.1 91.8h.9M211.4 85.6h.9M204.3 85.9h.9M209.8 88.9h.9M200.2 83.8h.9M214.0 81.3h.9M192.7 73.3h.9M219.0 85.4h.9M211.0 90.7h.9M210.9 93.4h.9M201.9 87.9h.9M211.9 90.7h.9M199.9 84.4h.9M195.2 89.3h.9M201.5 80.6h.9M201.3 89.6h.9M206.4 86.9h.9M206.2 91.1h.9M196.9 84.1h.9M211.8 91.5h.9M195.5 84.5h.9M215.1 91.6h.9M204.1 92.9h.9M214.5 94.8h.9M195.6 81.8h.9M201.6 87.8h.9M202.7 89.2h.9M215.3 93.3h.9M212.0 88.0h.9M216.5 90.2h.9M206.8 87.9h.9M205.0 92.3h.9M220.7 87.1h.9M197.1 92.9h.9M206.8 83.5h.9M211.8 88.1h.9M198.6 75.9h.9M198.3 89.8h.9M198.0 92.7h.9M220.3 89.5h.9M206.7 87.6h.9M211.1 88.2h.9M212.3 94.8h.9M211.0 83.4h.9M209.7 86.8h.9M207.3 92.6h.9M200.6 89.0h.9M215.3 84.0h.9M203.8 91.5h.9M203.5 92.9h.9M198.2 80.9h.9M207.7 87.4h.9M207.3 92.6h.9M212.4 86.4h.9M217.9 82.7h.9M202.7 50.1h.9M221.3 69.1h.9M234.1 42.5h.9M231.7 58.0h.9M226.8 69.2h.9M208.8 84.6h.9M180.3 43.2h.9M204.3 82.0h.9M186.5 79.1h.9M180.7 48.2h.9M202.9 74.5h.9M206.3 84.2h.9M216.4 50.6h.9M206.2 51.0h.9M227.0 44.9h.9M186.2 40.6h.9M190.3 81.3h.9M216.0 40.7h.9M200.3 87.4h.9M232.2 39.0h.9M231.2 27.2h.9M234.4 46.1h.9M231.8 25.3h.9M216.1 89.6h.9M223.9 64.2h.9M184.7 40.1h.9M231.1 85.4h.9M188.6 47.8h.9M211.7 44.8h.9M188.1 85.6h.9M182.1 68.6h.9M199.4 56.9h.9M226.9 76.7h.9M221.2 24.2h.9M223.3 80.1h.9M175.5 39.2h.9M218.6 85.6h.9M207.3 87.0h.9M180.7 41.7h.9M223.9 80.1h.9M188.7 64.0h.9M201.4 76.2h.9M199.0 46.0h.9M220.5 73.1h.9M196.8 74.4h.9M191.0 59.1h.9M186.6 47.8h.9M200.2 29.4h.9M193.9 48.3h.9M194.8 59.5h.9M228.6 84.2h.9M192.9 32.7h.9M180.7 86.8h.9M220.3 76.2h.9M229.1 51.9h.9M185.6 29.6h.9M199.1 78.3h.9M180.5 54.5h.9M180.3 38.4h.9" stroke="#000" stroke-width="0.9" fill="none" opacity="0.8"/>
<circle cx="230" cy="77.5" r="1.5" fill="#222"/>
<rect x="174.50" y="22.00" width="72.00" height="74.00" fill="none" stroke="#111" stroke-width="1.2"/>
<line x1="173.90" y1="95.80" x2="247.10" y2="95.80" stroke="#111" stroke-width="1.8"/>
<rect x="199.50" y="22.00" width="37.00" height="49.30" fill="none" stroke="#222" stroke-width="1"/>
<rect x="218.70" y="71.30" width="19.00" height="16.30" fill="none" stroke="#222" stroke-width="1"/>
<rect x="218.70" y="88.00" width="22.50" height="7.00" fill="none" stroke="#222" stroke-width="1"/>
<line x1="174.50" y1="24.96" x2="176.10" y2="24.96" stroke="#111" stroke-width="0.8"/>
<line x1="174.50" y1="27.92" x2="176.10" y2="27.92" stroke="#111" stroke-width="0.8"/>
<line x1="174.50" y1="30.88" x2="176.10" y2="30.88" stroke="#111" stroke-width="0.8"/>
<line x1="174.50" y1="33.84" x2="176.10" y2="33.84" stroke="#111" stroke-width="0.8"/>
<line x1="174.50" y1="36.80" x2="176.10" y2="36.80" stroke="#111" stroke-width="0.8"/>
<line x1="174.50" y1="39.76" x2="176.10" y2="39.76" stroke="#111" stroke-width="0.8"/>
<line x1="174.50" y1="42.72" x2="176.10" y2="42.72" stroke="#111" stroke-width="0.8"/>
<line x1="174.50" y1="45.68" x2="176.10" y2="45.68" stroke="#111" stroke-width="0.8"/>
<line x1="174.50" y1="48.64" x2="176.10" y2="48.64" stroke="#111" stroke-width="0.8"/>
<line x1="174.50" y1="51.60" x2="176.10" y2="51.60" stroke="#111" stroke-width="0.8"/>
<line x1="174.50" y1="54.56" x2="176.10" y2="54.56" stroke="#111" stroke-width="0.8"/>
<line x1="174.50" y1="57.52" x2="176.10" y2="57.52" stroke="#111" stroke-width="0.8"/>
<line x1="174.50" y1="60.48" x2="176.10" y2="60.48" stroke="#111" stroke-width="0.8"/>
<line x1="174.50" y1="63.44" x2="176.10" y2="63.44" stroke="#111" stroke-width="0.8"/>
<line x1="174.50" y1="66.40" x2="176.10" y2="66.40" stroke="#111" stroke-width="0.8"/>
<line x1="174.50" y1="69.36" x2="176.10" y2="69.36" stroke="#111" stroke-width="0.8"/>
<line x1="174.50" y1="72.32" x2="176.10" y2="72.32" stroke="#111" stroke-width="0.8"/>
<line x1="174.50" y1="75.28" x2="176.10" y2="75.28" stroke="#111" stroke-width="0.8"/>
<line x1="174.50" y1="78.24" x2="176.10" y2="78.24" stroke="#111" stroke-width="0.8"/>
<line x1="174.50" y1="81.20" x2="176.10" y2="81.20" stroke="#111" stroke-width="0.8"/>
<line x1="174.50" y1="84.16" x2="176.10" y2="84.16" stroke="#111" stroke-width="0.8"/>
<line x1="174.50" y1="87.12" x2="176.10" y2="87.12" stroke="#111" stroke-width="0.8"/>
<line x1="174.50" y1="90.08" x2="176.10" y2="90.08" stroke="#111" stroke-width="0.8"/>
<line x1="174.50" y1="93.04" x2="176.10" y2="93.04" stroke="#111" stroke-width="0.8"/>
<line x1="177.38" y1="96.00" x2="177.38" y2="97.60" stroke="#333" stroke-width="0.8"/>
<line x1="180.26" y1="96.00" x2="180.26" y2="97.60" stroke="#333" stroke-width="0.8"/>
<line x1="183.14" y1="96.00" x2="183.14" y2="97.60" stroke="#333" stroke-width="0.8"/>
<line x1="186.02" y1="96.00" x2="186.02" y2="97.60" stroke="#333" stroke-width="0.8"/>
<line x1="188.90" y1="96.00" x2="188.90" y2="97.60" stroke="#333" stroke-width="0.8"/>
<line x1="191.78" y1="96.00" x2="191.78" y2="97.60" stroke="#333" stroke-width="0.8"/>
<line x1="194.66" y1="96.00" x2="194.66" y2="97.60" stroke="#333" stroke-width="0.8"/>
<line x1="197.54" y1="96.00" x2="197.54" y2="97.60" stroke="#333" stroke-width="0.8"/>
<line x1="200.42" y1="96.00" x2="200.42" y2="97.60" stroke="#333" stroke-width="0.8"/>
<line x1="203.30" y1="96.00" x2="203.30" y2="97.60" stroke="#333" stroke-width="0.8"/>
<line x1="206.18" y1="96.00" x2="206.18" y2="97.60" stroke="#333" stroke-width="0.8"/>
<line x1="209.06" y1="96.00" x2="209.06" y2="97.60" stroke="#333" stroke-width="0.8"/>
<line x1="211.94" y1="96.00" x2="211.94" y2="97.60" stroke="#333" stroke-width="0.8"/>
<line x1="214.82" y1="96.00" x2="214.82" y2="97.60" stroke="#333" stroke-width="0.8"/>
<line x1="217.70" y1="96.00" x2="217.70" y2="97.60" stroke="#333" stroke-width="0.8"/>
<line x1="220.58" y1="96.00" x2="220.58" y2="97.60" stroke="#333" stroke-width="0.8"/>
<line x1="223.46" y1="96.00" x2="223.46" y2="97.60" stroke="#333" stroke-width="0.8"/>
<line x1="226.34" y1="96.00" x2="226.34" y2="97.60" stroke="#333" stroke-width="0.8"/>
<line x1="229.22" y1="96.00" x2="229.22" y2="97.60" stroke="#333" stroke-width="0.8"/>
<line x1="232.10" y1="96.00" x2="232.10" y2="97.60" stroke="#333" stroke-width="0.8"/>
<line x1="234.98" y1="96.00" x2="234.98" y2="97.60" stroke="#333" stroke-width="0.8"/>
<line x1="237.86" y1="96.00" x2="237.86" y2="97.60" stroke="#333" stroke-width="0.8"/>
<line x1="240.74" y1="96.00" x2="240.74" y2="97.60" stroke="#333" stroke-width="0.8"/>
<line x1="243.62" y1="96.00" x2="243.62" y2="97.60" stroke="#333" stroke-width="0.8"/>
</g>
<text transform="translate(170.60,60.20) rotate(-90)" font-size="10.6" text-anchor="middle" font-weight="normal" fill="#111" stroke="#111" stroke-width="0.4">SSC</text>
<text x="206.20" y="108.00" font-size="10.4" text-anchor="middle" font-weight="normal" fill="#111" letter-spacing="0.5" stroke="#111" stroke-width="0.4">CD45</text>
<text x="264.20" y="21.90" font-size="29.8" text-anchor="start" font-weight="bold" fill="#000" text-rendering="geometricPrecision">B</text>
<line x1="301.40" y1="11.50" x2="301.40" y2="238.30" stroke="#484848" stroke-width="1.1"/>
<line x1="300.90" y1="238.30" x2="499.50" y2="238.30" stroke="#484848" stroke-width="1.1"/>
<line x1="298.10" y1="238.30" x2="301.40" y2="238.30" stroke="#484848" stroke-width="1.1"/>
<text x="287.30" y="242.70" font-size="14.2" text-anchor="middle" font-weight="normal" fill="#111" >0</text>
<line x1="298.10" y1="181.30" x2="301.40" y2="181.30" stroke="#484848" stroke-width="1.1"/>
<text x="287.30" y="185.70" font-size="14.2" text-anchor="middle" font-weight="normal" fill="#111" >10</text>
<line x1="298.10" y1="124.30" x2="301.40" y2="124.30" stroke="#484848" stroke-width="1.1"/>
<text x="287.30" y="128.70" font-size="14.2" text-anchor="middle" font-weight="normal" fill="#111" >20</text>
<line x1="298.10" y1="67.30" x2="301.40" y2="67.30" stroke="#484848" stroke-width="1.1"/>
<text x="287.30" y="71.70" font-size="14.2" text-anchor="middle" font-weight="normal" fill="#111" >30</text>
<line x1="334.80" y1="238.30" x2="334.80" y2="241.80" stroke="#484848" stroke-width="1.1"/>
<line x1="321.40" y1="181.47" x2="321.40" y2="186.49" stroke="#484848" stroke-width="1.1"/>
<line x1="319.40" y1="181.47" x2="323.40" y2="181.47" stroke="#484848" stroke-width="1.1"/>
<rect x="308.00" y="186.49" width="26.80" height="51.81" fill="#000" stroke="#484848" stroke-width="1.1"/>
<line x1="348.20" y1="128.00" x2="348.20" y2="133.31" stroke="#484848" stroke-width="1.1"/>
<line x1="346.20" y1="128.00" x2="350.20" y2="128.00" stroke="#484848" stroke-width="1.1"/>
<rect x="334.80" y="133.31" width="26.80" height="104.99" fill="#fff" stroke="#484848" stroke-width="1.1"/>
<line x1="400.80" y1="238.30" x2="400.80" y2="241.80" stroke="#484848" stroke-width="1.1"/>
<line x1="387.40" y1="134.62" x2="387.40" y2="144.82" stroke="#484848" stroke-width="1.1"/>
<line x1="385.40" y1="134.62" x2="389.40" y2="134.62" stroke="#484848" stroke-width="1.1"/>
<rect x="374.00" y="144.82" width="26.80" height="93.48" fill="#000" stroke="#484848" stroke-width="1.1"/>
<line x1="414.20" y1="55.67" x2="414.20" y2="65.19" stroke="#484848" stroke-width="1.1"/>
<line x1="412.20" y1="55.67" x2="416.20" y2="55.67" stroke="#484848" stroke-width="1.1"/>
<rect x="400.80" y="65.19" width="26.80" height="173.11" fill="#fff" stroke="#484848" stroke-width="1.1"/>
<line x1="466.70" y1="238.30" x2="466.70" y2="241.80" stroke="#484848" stroke-width="1.1"/>
<line x1="453.30" y1="214.70" x2="453.30" y2="216.70" stroke="#484848" stroke-width="1.1"/>
<line x1="451.30" y1="214.70" x2="455.30" y2="214.70" stroke="#484848" stroke-width="1.1"/>
<rect x="439.90" y="216.70" width="26.80" height="21.60" fill="#000" stroke="#484848" stroke-width="1.1"/>
<line x1="480.10" y1="213.45" x2="480.10" y2="214.30" stroke="#484848" stroke-width="1.1"/>
<line x1="478.10" y1="213.45" x2="482.10" y2="213.45" stroke="#484848" stroke-width="1.1"/>
<rect x="466.70" y="214.30" width="26.80" height="24.00" fill="#fff" stroke="#484848" stroke-width="1.1"/>
<text transform="translate(277.00,118.80) rotate(-90)" font-size="14.3" text-anchor="middle" font-weight="normal" fill="#111" >binding [%]</text>
<text x="311.70" y="258.40" font-size="14.2" text-anchor="start" font-weight="normal" fill="#111" >PMN</text>
<text x="356.40" y="258.40" font-size="14.2" text-anchor="start" font-weight="normal" fill="#111" >monocytes</text>
<text x="427.60" y="258.40" font-size="14.2" text-anchor="start" font-weight="normal" fill="#111" >lymphocytes</text>
<rect x="434.60" y="31.00" width="17.40" height="5.00" fill="#000"/>
<rect x="434.40" y="46.50" width="17.40" height="5.60" fill="#fff" stroke="#484848" stroke-width="1.1"/>
<text x="456.20" y="37.70" font-size="14.2" text-anchor="start" font-weight="normal" fill="#111" >medium</text>
<text x="456.20" y="54.30" font-size="14.2" text-anchor="start" font-weight="normal" fill="#111" >thrombin</text>
<polyline points="314.70,116.70 314.70,106.50 350.80,106.50 350.80,116.70" fill="none" stroke="#484848" stroke-width="1.1"/>
<text x="334.50" y="105.20" font-size="17.5" text-anchor="middle" font-weight="normal" fill="#111" >*</text>
<polyline points="387.30,44.40 387.30,33.70 419.00,33.70 419.00,44.40" fill="none" stroke="#484848" stroke-width="1.1"/>
<text x="400.70" y="32.20" font-size="17.5" text-anchor="middle" font-weight="normal" fill="#111" >*</text>
<text x="-0.40" y="292.00" font-size="30.3" text-anchor="start" font-weight="bold" fill="#000" text-rendering="geometricPrecision" stroke="#000" stroke-width="0.5">C</text>
<line x1="36.20" y1="296.00" x2="36.20" y2="503.80" stroke="#484848" stroke-width="1.1"/>
<line x1="35.70" y1="503.80" x2="251.00" y2="503.80" stroke="#484848" stroke-width="1.1"/>
<line x1="34.00" y1="503.80" x2="36.20" y2="503.80" stroke="#484848" stroke-width="1.1"/>
<text x="25.40" y="508.80" font-size="14.2" text-anchor="middle" font-weight="normal" fill="#111" >0</text>
<line x1="34.00" y1="444.30" x2="36.20" y2="444.30" stroke="#484848" stroke-width="1.1"/>
<text x="25.40" y="449.30" font-size="14.2" text-anchor="middle" font-weight="normal" fill="#111" >10</text>
<line x1="34.00" y1="384.80" x2="36.20" y2="384.80" stroke="#484848" stroke-width="1.1"/>
<text x="25.40" y="389.80" font-size="14.2" text-anchor="middle" font-weight="normal" fill="#111" >20</text>
<line x1="34.00" y1="325.30" x2="36.20" y2="325.30" stroke="#484848" stroke-width="1.1"/>
<text x="25.40" y="330.30" font-size="14.2" text-anchor="middle" font-weight="normal" fill="#111" >30</text>
<line x1="72.60" y1="503.80" x2="72.60" y2="507.30" stroke="#484848" stroke-width="1.1"/>
<line x1="53.10" y1="445.19" x2="53.10" y2="445.79" stroke="#484848" stroke-width="1.1"/>
<line x1="51.10" y1="445.19" x2="55.10" y2="445.19" stroke="#484848" stroke-width="1.1"/>
<rect x="43.35" y="445.79" width="19.50" height="58.01" fill="#000" stroke="#484848" stroke-width="1.1"/>
<line x1="72.60" y1="385.10" x2="72.60" y2="385.99" stroke="#484848" stroke-width="1.1"/>
<line x1="70.60" y1="385.10" x2="74.60" y2="385.10" stroke="#484848" stroke-width="1.1"/>
<rect x="62.85" y="385.99" width="19.50" height="117.81" fill="#fff" stroke="#484848" stroke-width="1.1"/>
<line x1="92.10" y1="364.87" x2="92.10" y2="368.74" stroke="#484848" stroke-width="1.1"/>
<line x1="90.10" y1="364.87" x2="94.10" y2="364.87" stroke="#484848" stroke-width="1.1"/>
<rect x="82.35" y="368.74" width="19.50" height="135.06" fill="#ababab" stroke="#484848" stroke-width="1.1"/>
<line x1="144.20" y1="503.80" x2="144.20" y2="507.30" stroke="#484848" stroke-width="1.1"/>
<line x1="124.70" y1="443.11" x2="124.70" y2="443.71" stroke="#484848" stroke-width="1.1"/>
<line x1="122.70" y1="443.11" x2="126.70" y2="443.11" stroke="#484848" stroke-width="1.1"/>
<rect x="114.95" y="443.71" width="19.50" height="60.09" fill="#000" stroke="#484848" stroke-width="1.1"/>
<line x1="144.20" y1="393.01" x2="144.20" y2="394.80" stroke="#484848" stroke-width="1.1"/>
<line x1="142.20" y1="393.01" x2="146.20" y2="393.01" stroke="#484848" stroke-width="1.1"/>
<rect x="134.45" y="394.80" width="19.50" height="109.00" fill="#fff" stroke="#484848" stroke-width="1.1"/>
<line x1="163.70" y1="369.93" x2="163.70" y2="370.52" stroke="#484848" stroke-width="1.1"/>
<line x1="161.70" y1="369.93" x2="165.70" y2="369.93" stroke="#484848" stroke-width="1.1"/>
<rect x="153.95" y="370.52" width="19.50" height="133.28" fill="#ababab" stroke="#484848" stroke-width="1.1"/>
<line x1="216.00" y1="503.80" x2="216.00" y2="507.30" stroke="#484848" stroke-width="1.1"/>
<line x1="196.50" y1="436.86" x2="196.50" y2="447.28" stroke="#484848" stroke-width="1.1"/>
<line x1="194.50" y1="436.86" x2="198.50" y2="436.86" stroke="#484848" stroke-width="1.1"/>
<rect x="186.75" y="447.28" width="19.50" height="56.52" fill="#000" stroke="#484848" stroke-width="1.1"/>
<line x1="216.00" y1="370.52" x2="216.00" y2="387.77" stroke="#484848" stroke-width="1.1"/>
<line x1="214.00" y1="370.52" x2="218.00" y2="370.52" stroke="#484848" stroke-width="1.1"/>
<rect x="206.25" y="387.77" width="19.50" height="116.03" fill="#fff" stroke="#484848" stroke-width="1.1"/>
<line x1="235.50" y1="361.30" x2="235.50" y2="365.16" stroke="#484848" stroke-width="1.1"/>
<line x1="233.50" y1="361.30" x2="237.50" y2="361.30" stroke="#484848" stroke-width="1.1"/>
<rect x="225.75" y="365.16" width="19.50" height="138.64" fill="#ababab" stroke="#484848" stroke-width="1.1"/>
<text transform="translate(13.70,386.20) rotate(-90)" font-size="14.3" text-anchor="middle" font-weight="normal" fill="#111" >binding [%]</text>
<text x="72.40" y="522.00" font-size="14.2" text-anchor="middle" font-weight="normal" fill="#111" >medium</text>
<text x="143.60" y="522.00" font-size="14.2" text-anchor="middle" font-weight="normal" fill="#111" >rsTREM-1</text>
<text x="183.00" y="522.00" font-size="15.2" font-style="italic" fill="#111">α</text>
<text x="191.90" y="522.00" font-size="14.2" text-anchor="start" font-weight="normal" fill="#111" >-TREM-1</text>
<rect x="166.50" y="308.70" width="18.00" height="5.50" fill="#000"/>
<rect x="166.50" y="322.30" width="18.00" height="5.80" fill="#fff" stroke="#484848" stroke-width="1.1"/>
<rect x="166.50" y="336.60" width="18.00" height="5.80" fill="#ababab" stroke="#484848" stroke-width="1.1"/>
<text x="189.20" y="313.00" font-size="14.2" text-anchor="start" font-weight="normal" fill="#111" >medium</text>
<text x="189.20" y="328.30" font-size="14.2" text-anchor="start" font-weight="normal" fill="#111" >LPS</text>
<text x="189.20" y="342.70" font-size="14.2" text-anchor="start" font-weight="normal" fill="#111" >thrombin</text>
<text x="261.70" y="291.60" font-size="30.6" text-anchor="start" font-weight="bold" fill="#000" text-rendering="geometricPrecision">D</text>
<line x1="304.80" y1="287.50" x2="304.80" y2="504.50" stroke="#484848" stroke-width="1.1"/>
<line x1="304.30" y1="504.50" x2="516.30" y2="504.50" stroke="#484848" stroke-width="1.1"/>
<line x1="302.20" y1="504.50" x2="304.80" y2="504.50" stroke="#484848" stroke-width="1.1"/>
<text x="292.90" y="508.90" font-size="14.2" text-anchor="middle" font-weight="normal" fill="#111" >0</text>
<line x1="302.20" y1="447.20" x2="304.80" y2="447.20" stroke="#484848" stroke-width="1.1"/>
<text x="292.90" y="451.60" font-size="14.2" text-anchor="middle" font-weight="normal" fill="#111" >10</text>
<line x1="302.20" y1="389.90" x2="304.80" y2="389.90" stroke="#484848" stroke-width="1.1"/>
<text x="292.90" y="394.30" font-size="14.2" text-anchor="middle" font-weight="normal" fill="#111" >20</text>
<line x1="302.20" y1="332.60" x2="304.80" y2="332.60" stroke="#484848" stroke-width="1.1"/>
<text x="292.90" y="337.00" font-size="14.2" text-anchor="middle" font-weight="normal" fill="#111" >30</text>
<line x1="340.30" y1="504.50" x2="340.30" y2="508.00" stroke="#484848" stroke-width="1.1"/>
<line x1="325.80" y1="430.30" x2="325.80" y2="444.91" stroke="#484848" stroke-width="1.1"/>
<line x1="323.80" y1="430.30" x2="327.80" y2="430.30" stroke="#484848" stroke-width="1.1"/>
<rect x="311.30" y="444.91" width="29.00" height="59.59" fill="#000" stroke="#484848" stroke-width="1.1"/>
<line x1="354.80" y1="316.56" x2="354.80" y2="322.86" stroke="#484848" stroke-width="1.1"/>
<line x1="352.80" y1="316.56" x2="356.80" y2="316.56" stroke="#484848" stroke-width="1.1"/>
<rect x="340.30" y="322.86" width="29.00" height="181.64" fill="#fff" stroke="#484848" stroke-width="1.1"/>
<line x1="410.50" y1="504.50" x2="410.50" y2="508.00" stroke="#484848" stroke-width="1.1"/>
<line x1="396.00" y1="472.41" x2="396.00" y2="478.43" stroke="#484848" stroke-width="1.1"/>
<line x1="394.00" y1="472.41" x2="398.00" y2="472.41" stroke="#484848" stroke-width="1.1"/>
<rect x="381.50" y="478.43" width="29.00" height="26.07" fill="#000" stroke="#484848" stroke-width="1.1"/>
<line x1="425.00" y1="410.53" x2="425.00" y2="411.67" stroke="#484848" stroke-width="1.1"/>
<line x1="423.00" y1="410.53" x2="427.00" y2="410.53" stroke="#484848" stroke-width="1.1"/>
<rect x="410.50" y="411.67" width="29.00" height="92.83" fill="#fff" stroke="#484848" stroke-width="1.1"/>
<line x1="481.20" y1="504.50" x2="481.20" y2="508.00" stroke="#484848" stroke-width="1.1"/>
<line x1="466.70" y1="462.38" x2="466.70" y2="467.25" stroke="#484848" stroke-width="1.1"/>
<line x1="464.70" y1="462.38" x2="468.70" y2="462.38" stroke="#484848" stroke-width="1.1"/>
<rect x="452.20" y="467.25" width="29.00" height="37.25" fill="#000" stroke="#484848" stroke-width="1.1"/>
<line x1="495.70" y1="404.23" x2="495.70" y2="405.66" stroke="#484848" stroke-width="1.1"/>
<line x1="493.70" y1="404.23" x2="497.70" y2="404.23" stroke="#484848" stroke-width="1.1"/>
<rect x="481.20" y="405.66" width="29.00" height="98.84" fill="#fff" stroke="#484848" stroke-width="1.1"/>
<text transform="translate(280.00,381.30) rotate(-90)" font-size="14.3" text-anchor="middle" font-weight="normal" fill="#111" >binding[%]</text>
<text x="340.30" y="524.50" font-size="14.2" text-anchor="middle" font-weight="normal" fill="#111" >control IgG1</text>
<text x="387.60" y="524.60" font-size="15.2" font-style="italic" fill="#111">α</text>
<text x="396.50" y="524.60" font-size="14.2" text-anchor="start" font-weight="normal" fill="#111" >-PSGL-1</text>
<text x="465.80" y="524.60" font-size="15.2" font-style="italic" fill="#111">α</text>
<text x="474.70" y="524.60" font-size="14.2" text-anchor="start" font-weight="normal" fill="#111" >-CD18</text>
<rect x="381.50" y="350.40" width="14.00" height="5.40" fill="#000"/>
<rect x="381.50" y="361.30" width="14.00" height="6.20" fill="#fff" stroke="#484848" stroke-width="1.1"/>
<text x="397.50" y="354.40" font-size="14.2" text-anchor="start" font-weight="normal" fill="#111" >medium</text>
<text x="397.50" y="368.60" font-size="14.2" text-anchor="start" font-weight="normal" fill="#111" >thrombin</text>
<polyline points="313.50,311.00 313.50,300.30 351.00,300.30 351.00,311.00" fill="none" stroke="#484848" stroke-width="1.1"/>
<text x="332.00" y="300.50" font-size="17.5" text-anchor="middle" font-weight="normal" fill="#111" >*</text>
<polyline points="356.40,311.00 356.40,300.30 418.20,300.30 418.20,311.00" fill="none" stroke="#484848" stroke-width="1.1"/>
<text x="388.00" y="297.80" font-size="17.5" text-anchor="middle" font-weight="normal" fill="#111" >*</text>
<polyline points="356.40,283.50 356.40,276.60 493.10,276.60 493.10,283.50" fill="none" stroke="#484848" stroke-width="1.1"/>
<text x="424.50" y="275.70" font-size="17.5" text-anchor="middle" font-weight="normal" fill="#111" >*</text>
</svg>
</body></html>
